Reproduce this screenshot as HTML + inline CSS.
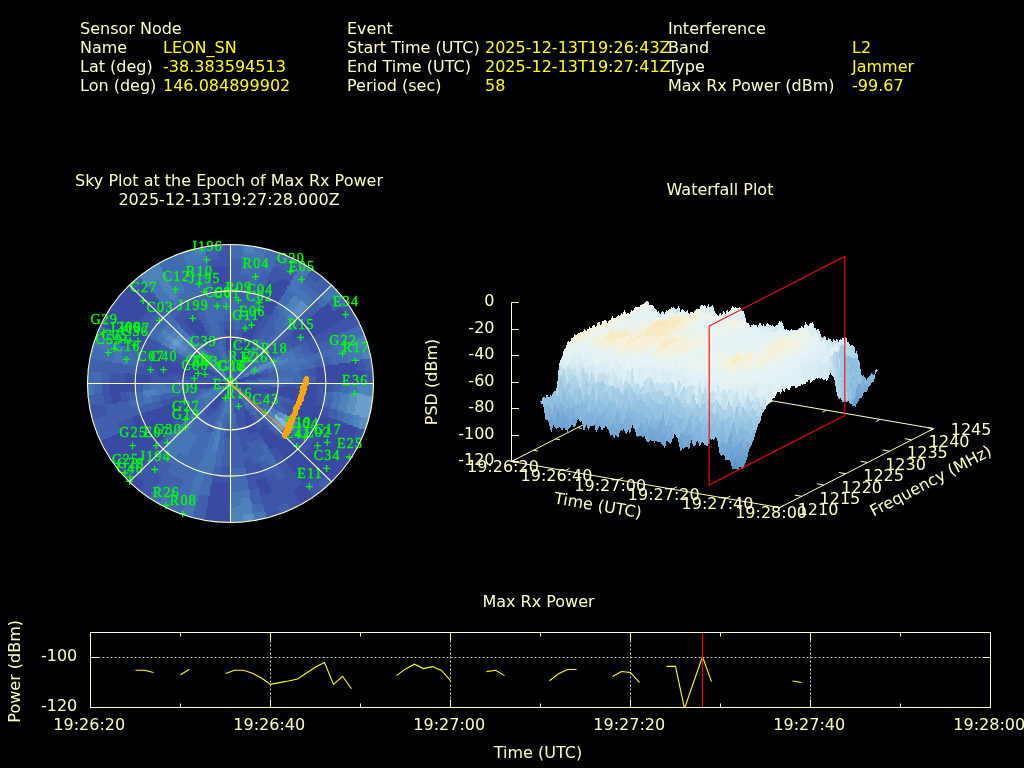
<!DOCTYPE html>
<html><head><meta charset="utf-8"><title>Interference Event</title>
<style>
html,body{margin:0;padding:0;background:#000;}
body{width:1024px;height:768px;overflow:hidden;font-family:"DejaVu Sans","Liberation Sans",sans-serif;}
svg{display:block}
text{font-family:"DejaVu Sans","Liberation Sans",sans-serif;font-size:16px}
.sat text{font-family:"Liberation Serif","DejaVu Serif",serif;font-size:13.9px}
</style></head><body>
<svg width="1024" height="768" viewBox="0 0 1024 768">
<rect width="1024" height="768" fill="#000"/>
<text x="80" y="33.5" fill="#ffffbf">Sensor Node</text>
<text x="80" y="52.5" fill="#ffffbf">Name</text>
<text x="163" y="52.5" fill="#ffff00">LEON_SN</text>
<text x="80" y="71.5" fill="#ffffbf">Lat (deg)</text>
<text x="163" y="71.5" fill="#ffff00">-38.383594513</text>
<text x="80" y="90.5" fill="#ffffbf">Lon (deg)</text>
<text x="163" y="90.5" fill="#ffff00">146.084899902</text>
<text x="347" y="33.5" fill="#ffffbf">Event</text>
<text x="347" y="52.5" fill="#ffffbf">Start Time (UTC)</text>
<text x="485" y="52.5" fill="#ffff00">2025-12-13T19:26:43Z</text>
<text x="347" y="71.5" fill="#ffffbf">End Time (UTC)</text>
<text x="485" y="71.5" fill="#ffff00">2025-12-13T19:27:41Z</text>
<text x="347" y="90.5" fill="#ffffbf">Period (sec)</text>
<text x="485" y="90.5" fill="#ffff00">58</text>
<text x="668" y="33.5" fill="#ffffbf">Interference</text>
<text x="668" y="52.5" fill="#ffffbf">Band</text>
<text x="852" y="52.5" fill="#ffff00">L2</text>
<text x="668" y="71.5" fill="#ffffbf">Type</text>
<text x="852" y="71.5" fill="#ffff00">Jammer</text>
<text x="668" y="90.5" fill="#ffffbf">Max Rx Power (dBm)</text>
<text x="852" y="90.5" fill="#ffff00">-99.67</text>
<text x="229" y="185.5" fill="#ffffbf" text-anchor="middle">Sky Plot at the Epoch of Max Rx Power</text>
<text x="229" y="204.5" fill="#ffffbf" text-anchor="middle">2025-12-13T19:27:28.000Z</text>
<text x="720" y="194.5" fill="#ffffbf" text-anchor="middle">Waterfall Plot</text>
<text x="538.5" y="606.5" fill="#ffffbf" text-anchor="middle">Max Rx Power</text>
<clipPath id="skyclip"><ellipse cx="230.5" cy="383.5" rx="143.0" ry="139.0"/></clipPath>
<g clip-path="url(#skyclip)" shape-rendering="crispEdges">
<rect x="85" y="242" width="292" height="284" fill="#3a49a3"/>
<path fill="#3d54a8" fill-rule="evenodd" d="M85 242 85 243 88 243 89 244 89 245 90 245 91 246 91 247 92 247 93 248 93 249 94 249 95 250 95 251 96 251 97 252 97 253 98 253 99 254 99 255 100 255 101 256 101 257 102 257 103 258 103 259 104 259 105 260 105 261 106 261 107 262 107 263 108 263 109 264 109 265 110 265 111 266 111 267 112 267 113 268 113 269 114 269 115 270 115 271 116 271 117 272 117 273 118 273 119 274 119 275 120 275 121 276 121 277 122 277 123 278 123 279 124 279 125 280 125 281 126 281 127 282 127 283 128 283 129 284 129 285 130 285 131 286 131 287 132 287 133 288 133 289 134 289 135 290 135 291 136 291 137 292 137 293 138 293 139 294 139 295 140 295 141 296 141 297 142 297 143 298 143 299 144 299 145 300 145 301 146 301 147 302 147 303 148 303 149 304 149 305 150 305 151 306 151 307 150 308 149 308 149 309 148 310 147 310 147 313 146 314 145 314 145 315 144 316 143 316 143 317 142 318 141 318 141 319 140 320 139 320 139 323 138 324 137 324 137 325 136 326 135 326 135 329 136 329 137 330 137 331 140 331 141 332 141 333 144 333 145 334 145 335 146 335 147 336 147 339 146 340 145 340 145 343 144 344 141 344 140 343 140 342 137 342 136 341 136 340 133 340 132 339 132 338 127 338 126 337 126 336 123 336 122 335 122 334 119 334 118 333 118 332 115 332 114 331 114 330 111 330 110 329 110 328 109 328 108 327 108 324 109 323 110 323 110 320 111 319 112 319 112 316 109 316 108 315 108 314 105 314 104 313 104 312 101 312 100 311 100 310 97 310 96 309 96 308 95 308 94 307 94 306 91 306 90 305 90 304 87 304 86 303 86 302 85 302 85 447 90 447 90 446 91 445 94 445 94 444 95 443 98 443 98 442 99 441 102 441 102 440 103 439 108 439 108 438 109 437 112 437 112 436 113 435 116 435 116 434 117 433 120 433 120 432 121 431 124 431 124 430 125 429 130 429 130 428 131 427 134 427 134 426 135 425 136 425 136 424 135 424 134 423 134 420 133 420 132 419 132 418 133 417 134 417 134 416 135 415 140 415 140 414 141 413 146 413 146 412 147 411 152 411 152 410 153 409 158 409 158 408 159 407 164 407 164 406 165 405 168 405 168 404 169 403 174 403 174 402 175 401 178 401 179 402 179 405 180 405 181 406 181 409 182 409 183 410 183 413 184 413 185 414 185 415 184 416 181 416 181 417 180 418 179 418 179 419 178 420 175 420 175 421 174 422 173 422 173 425 174 425 175 426 175 429 174 430 173 430 173 431 172 432 169 432 169 433 168 434 167 434 167 435 166 436 165 436 165 437 164 438 163 438 163 439 162 440 161 440 161 441 160 442 157 442 157 443 156 444 155 444 155 445 154 446 153 446 153 447 152 448 151 448 151 449 150 450 147 450 147 451 146 452 145 452 145 453 144 454 143 454 143 455 142 456 141 456 141 457 140 458 137 458 137 459 136 460 135 460 135 461 134 462 133 462 133 463 132 464 131 464 131 465 130 466 129 466 129 467 128 468 125 468 125 469 124 470 123 470 123 471 122 472 121 472 121 473 120 474 119 474 119 475 118 476 115 476 115 477 114 478 113 478 113 479 112 480 111 480 111 481 110 482 109 482 109 483 108 484 107 484 107 485 106 486 103 486 103 487 102 488 101 488 101 489 100 490 99 490 99 491 98 492 97 492 97 493 96 494 93 494 93 495 92 496 91 496 91 497 90 498 89 498 89 499 88 500 87 500 87 501 86 502 85 502 85 523 86 523 86 522 87 521 88 521 88 520 89 519 90 519 90 518 91 517 92 517 92 516 93 515 94 515 94 514 95 513 96 513 96 512 97 511 98 511 98 510 99 509 100 509 100 508 101 507 102 507 102 506 103 505 104 505 104 504 105 503 106 503 106 502 107 501 108 501 108 500 109 499 110 499 110 498 111 497 112 497 112 496 113 495 114 495 114 494 115 493 116 493 116 492 117 491 118 491 118 490 119 489 120 489 120 488 121 487 124 487 124 486 125 485 126 485 126 484 127 483 128 483 128 482 129 481 130 481 130 480 131 479 132 479 132 478 133 477 136 477 137 478 137 479 140 479 141 480 141 481 142 481 143 482 143 485 142 486 141 486 141 487 140 488 139 488 139 489 138 490 137 490 137 491 136 492 135 492 135 495 134 496 133 496 133 497 132 498 131 498 131 499 130 500 129 500 129 501 128 502 127 502 127 503 126 504 125 504 125 505 124 506 123 506 123 509 122 510 121 510 121 511 120 512 119 512 119 513 118 514 117 514 117 515 116 516 115 516 115 517 114 518 113 518 113 519 112 520 111 520 111 523 110 524 109 524 109 525 204 525 204 518 205 517 206 517 206 508 207 507 208 507 208 496 209 495 210 495 210 486 211 485 212 485 212 482 213 481 216 481 217 482 217 483 230 483 231 484 231 525 314 525 314 524 313 524 312 523 312 520 311 520 310 519 310 518 309 518 308 517 308 514 307 514 306 513 306 510 305 510 304 509 304 508 303 508 302 507 302 504 301 504 300 503 300 500 299 500 298 499 298 498 297 498 296 497 296 494 295 494 294 493 294 490 295 489 296 489 296 488 297 487 298 487 298 486 299 485 304 485 305 486 305 487 306 487 307 488 307 491 308 491 309 492 309 493 310 493 311 494 311 495 312 495 313 496 313 499 314 499 315 500 315 501 316 501 317 502 317 503 318 503 319 504 319 507 320 507 321 508 321 509 322 509 323 510 323 513 324 513 325 514 325 515 326 515 327 516 327 517 328 517 329 518 329 521 330 521 331 522 331 523 332 523 333 524 333 525 376 525 376 524 375 524 374 523 374 522 371 522 370 521 370 520 369 520 368 519 368 518 367 518 366 517 366 516 365 516 364 515 364 514 363 514 362 513 362 512 361 512 360 511 360 510 359 510 358 509 358 508 357 508 356 507 356 506 355 506 354 505 354 504 353 504 352 503 352 502 351 502 350 501 350 500 349 500 348 499 348 498 347 498 346 497 346 496 345 496 344 495 344 494 343 494 342 493 342 492 341 492 340 491 340 490 339 490 338 489 338 488 337 488 336 487 336 486 335 486 334 485 334 484 333 484 332 483 332 482 331 482 330 481 330 480 329 480 328 479 328 478 327 478 326 477 326 476 325 476 324 475 324 474 323 474 322 473 322 472 319 472 319 473 318 474 315 474 315 475 314 476 313 476 313 477 312 478 311 478 311 479 310 480 309 480 309 481 308 482 305 482 305 483 304 484 303 484 302 483 302 482 301 482 300 481 300 480 299 480 298 479 298 478 297 478 296 477 296 474 295 474 294 473 294 472 293 472 292 471 292 468 291 468 290 467 290 466 289 466 288 465 288 464 287 464 286 463 286 460 285 460 284 459 284 458 283 458 282 457 282 454 281 454 280 453 280 452 279 452 278 451 278 450 277 450 276 449 276 446 275 446 275 447 274 448 273 448 273 449 272 450 269 450 268 449 268 446 267 446 266 445 266 444 265 444 264 443 264 440 263 440 262 439 262 436 261 436 260 435 260 434 259 434 258 433 258 430 259 429 260 429 260 428 261 427 262 427 262 426 263 425 268 425 269 426 269 429 270 429 271 430 271 431 272 431 273 432 273 433 274 433 275 434 275 435 276 435 277 436 277 437 278 437 279 438 279 439 280 439 281 440 281 441 282 441 282 440 283 439 284 439 284 438 285 437 286 437 287 438 287 439 288 439 289 440 289 441 290 441 291 442 291 443 292 443 293 444 293 445 294 445 295 446 295 447 296 447 297 448 297 449 298 449 299 450 299 451 302 451 303 452 303 453 304 453 304 452 305 451 306 451 306 450 307 449 308 449 308 448 309 447 310 447 310 446 311 445 312 445 312 442 313 441 314 441 314 440 315 439 316 439 316 436 317 435 318 435 318 432 315 432 314 431 314 430 311 430 310 429 310 428 309 428 308 427 308 426 305 426 304 425 304 424 301 424 300 423 300 422 299 422 298 421 298 420 299 419 300 419 300 418 301 417 302 417 302 416 299 416 298 415 298 414 295 414 294 413 294 412 295 411 296 411 296 406 297 405 298 405 298 402 297 402 296 401 296 400 291 400 290 399 290 398 283 398 282 397 282 396 275 396 274 395 274 394 267 394 266 393 266 392 261 392 261 393 260 394 259 394 259 395 258 396 255 396 254 395 254 394 251 394 250 393 250 392 247 392 246 391 246 390 243 390 242 389 242 388 239 388 238 387 238 386 239 385 250 385 251 386 251 387 262 387 263 388 263 389 268 389 268 388 269 387 294 387 295 388 295 389 300 389 300 384 301 383 316 383 317 384 317 401 316 402 315 402 315 405 320 405 321 406 321 407 322 407 323 408 323 409 322 410 321 410 321 415 324 415 325 416 325 417 330 417 331 418 331 419 336 419 337 420 337 421 342 421 343 422 343 423 346 423 347 424 347 425 352 425 353 426 353 427 356 427 357 428 357 431 356 432 355 432 355 435 354 436 353 436 353 439 356 439 357 440 357 441 360 441 361 442 361 443 366 443 367 444 367 445 370 445 371 446 371 447 374 447 375 448 375 449 376 449 376 242zM262 478 263 477 266 477 267 478 267 483 268 483 269 484 269 487 270 487 271 488 271 491 270 492 269 492 269 493 268 494 263 494 263 495 262 496 261 496 260 495 260 490 259 490 258 489 258 484 257 484 256 483 256 480 257 479 262 479zM244 410 245 409 246 409 247 410 247 411 248 411 249 412 249 415 250 415 251 416 251 419 252 419 253 420 253 423 254 423 255 424 255 425 256 425 257 426 257 431 256 432 253 432 253 433 252 434 249 434 248 433 248 430 247 430 246 429 246 424 245 424 244 423 244 420 245 419 246 419 246 416 245 416 244 415zM222 392 223 391 224 391 225 392 225 397 224 398 221 398 221 401 220 402 219 402 219 403 218 404 217 404 217 407 216 408 215 408 215 409 214 410 213 410 212 409 212 408 211 408 210 407 210 404 211 403 212 403 212 402 213 401 214 401 214 400 215 399 216 399 216 398 217 397 218 397 218 396 219 395 222 395zM224 390 225 389 226 389 227 390 227 391 226 392 225 392 224 391zM226 386 227 385 228 385 229 386 229 387 228 388 227 388 226 387zM232 384 233 383 238 383 239 384 239 385 238 386 233 386 232 385zM230 382 231 381 232 381 233 382 233 383 232 384 231 384 230 383zM214 382 215 381 224 381 225 382 225 383 224 384 221 384 221 385 220 386 211 386 211 387 210 388 199 388 198 387 198 386 199 385 206 385 206 384 207 383 214 383zM204 378 205 377 206 377 207 378 207 379 206 380 205 380 204 379zM248 376 249 375 252 375 253 376 253 377 254 377 254 376 255 375 260 375 261 376 261 377 260 378 257 378 257 379 256 380 245 380 245 381 244 382 237 382 236 381 236 380 237 379 242 379 242 378 243 377 248 377zM210 374 211 373 214 373 215 374 215 375 214 376 211 376 210 375zM126 374 127 373 130 373 131 374 131 375 150 375 151 376 151 383 150 384 135 384 135 391 134 392 119 392 119 395 120 395 121 396 121 401 120 402 117 402 117 403 116 404 113 404 112 403 112 396 111 396 110 395 110 384 111 383 126 383zM350 362 351 361 354 361 355 362 355 363 356 363 357 364 357 371 364 371 365 372 365 383 364 384 317 384 316 383 316 368 317 367 326 367 326 366 327 365 338 365 338 364 339 363 350 363zM154 358 155 357 160 357 161 358 161 359 166 359 167 360 167 361 172 361 173 362 173 363 178 363 179 364 179 365 182 365 183 366 183 367 184 367 184 366 185 365 186 365 186 364 187 363 188 363 189 364 189 365 194 365 194 364 195 363 196 363 197 364 197 365 200 365 201 366 201 367 204 367 205 368 205 369 208 369 209 370 209 371 210 371 211 372 211 373 210 374 209 374 209 375 208 376 207 376 206 375 206 374 199 374 199 375 204 375 205 376 205 377 204 378 193 378 192 377 192 376 181 376 180 375 180 374 169 374 168 373 168 372 167 372 167 377 166 378 159 378 158 377 158 372 157 372 156 371 156 370 153 370 152 369 152 362 153 361 154 361zM224 330 225 329 230 329 231 330 231 337 234 337 235 338 235 343 234 344 233 344 233 351 232 352 227 352 226 351 226 334 225 334 224 333zM186 318 187 317 192 317 193 318 193 321 198 321 198 320 199 319 200 319 201 320 201 323 202 323 203 324 203 327 204 327 205 328 205 331 206 331 207 332 207 333 206 334 205 334 205 335 204 336 203 336 203 337 202 338 197 338 196 337 196 336 195 336 194 335 194 332 193 332 192 331 192 330 191 330 190 329 190 328 189 328 188 327 188 324 187 324 186 323 186 322 185 322 184 321 184 320 185 319 186 319zM326 304 327 303 328 303 329 304 329 305 330 305 331 306 331 309 332 309 333 310 333 311 336 311 336 310 337 309 338 309 338 308 339 307 340 307 341 308 341 309 342 309 343 310 343 311 344 311 345 312 345 315 346 315 347 316 347 317 346 318 345 318 345 319 344 320 341 320 341 321 340 322 339 322 339 323 338 324 335 324 335 325 334 326 331 326 331 327 330 328 327 328 327 329 326 330 325 330 325 331 324 332 321 332 321 333 320 334 317 334 317 335 316 336 313 336 313 337 312 338 309 338 309 339 308 340 305 340 304 339 304 338 303 338 302 337 302 334 301 334 301 335 300 336 299 336 299 337 298 338 293 338 292 337 292 332 293 331 294 331 294 330 295 329 296 329 296 328 297 327 298 327 298 326 299 325 302 325 302 324 303 323 304 323 304 322 305 321 306 321 306 320 307 319 308 319 308 318 309 317 312 317 312 316 313 315 314 315 314 314 315 313 316 313 316 312 317 311 318 311 318 310 319 309 320 309 320 308 321 307 324 307 324 306 325 305 326 305zM278 280 279 279 286 279 287 280 287 281 288 281 289 282 289 285 288 286 287 286 287 289 286 290 285 290 285 293 284 294 283 294 283 295 282 296 281 296 281 299 280 300 279 300 279 303 278 304 277 304 277 305 276 306 275 306 275 309 274 310 273 310 273 313 272 314 271 314 271 315 270 316 267 316 266 315 266 314 263 314 263 317 262 318 261 318 261 321 260 322 259 322 259 325 258 326 257 326 257 329 256 330 255 330 255 333 254 334 253 334 253 337 252 338 251 338 251 341 252 341 253 342 253 347 252 348 251 348 251 349 250 350 249 350 249 353 248 354 247 354 247 355 246 356 243 356 243 359 242 360 241 360 241 361 240 362 237 362 236 361 236 356 237 355 238 355 238 350 239 349 240 349 240 342 241 341 242 341 242 334 243 333 244 333 244 332 245 331 250 331 250 326 251 325 252 325 252 320 253 319 254 319 254 316 255 315 256 315 256 310 257 309 258 309 258 304 259 303 260 303 260 300 261 299 262 299 262 294 263 293 264 293 264 288 265 287 266 287 266 284 267 283 268 283 268 282 269 281 270 281 271 282 271 283 278 283zM212 268 213 267 230 267 231 268 231 283 230 284 213 284 212 283 212 282 211 282 210 281 210 270 211 269 212 269z"/>
<path fill="#4060ad" fill-rule="evenodd" d="M281 504 281 505 280 506 277 506 277 509 278 509 279 510 279 515 280 515 281 516 281 521 282 521 283 522 283 525 298 525 298 524 297 524 296 523 296 520 295 520 294 519 294 516 293 516 292 515 292 512 291 512 290 511 290 508 289 508 288 507 288 504zM325 476 325 477 324 478 323 478 323 479 322 480 321 480 321 481 320 482 319 482 319 487 320 487 321 488 321 489 322 489 323 490 323 491 324 491 325 492 325 493 326 493 327 494 327 495 328 495 329 496 329 497 330 497 331 498 331 501 332 501 333 502 333 503 334 503 335 504 335 505 336 505 337 506 337 507 338 507 339 508 339 509 340 509 341 510 341 511 342 511 343 512 343 513 344 513 345 514 345 517 346 517 347 518 347 519 348 519 349 520 349 521 350 521 351 522 351 523 352 523 353 524 353 525 376 525 376 524 375 524 374 523 374 522 371 522 370 521 370 520 369 520 368 519 368 518 367 518 366 517 366 516 365 516 364 515 364 514 363 514 362 513 362 512 361 512 360 511 360 510 359 510 358 509 358 508 357 508 356 507 356 506 355 506 354 505 354 504 353 504 352 503 352 502 351 502 350 501 350 500 349 500 348 499 348 498 347 498 346 497 346 496 345 496 344 495 344 494 343 494 342 493 342 492 341 492 340 491 340 490 339 490 338 489 338 488 337 488 336 487 336 486 335 486 334 485 334 484 333 484 332 483 332 482 331 482 330 481 330 480 329 480 328 479 328 478 327 478 326 477 326 476zM333 384 333 391 332 392 325 392 325 401 324 402 323 402 323 407 328 407 329 408 329 415 328 416 327 416 327 417 330 417 331 418 331 419 336 419 337 420 337 421 342 421 343 422 343 423 346 423 347 424 347 425 352 425 353 426 353 427 358 427 359 428 359 429 364 429 365 430 365 431 370 431 371 432 371 433 376 433 376 384zM85 242 85 243 88 243 89 244 89 245 90 245 91 246 91 247 92 247 93 248 93 249 94 249 95 250 95 251 96 251 97 252 97 253 98 253 99 254 99 255 100 255 101 256 101 257 102 257 103 258 103 259 104 259 105 260 105 261 106 261 107 262 107 263 108 263 109 264 109 265 110 265 111 266 111 267 112 267 113 268 113 269 114 269 115 270 115 271 116 271 117 272 117 273 118 273 119 274 119 275 120 275 121 276 121 277 122 277 123 278 123 279 124 279 125 280 125 281 126 281 127 282 127 283 128 283 129 284 129 285 130 285 131 286 131 287 132 287 133 288 133 289 136 289 136 288 137 287 138 287 138 286 139 285 140 285 140 284 141 283 144 283 145 284 145 285 146 285 147 286 147 287 148 287 149 288 149 289 150 289 151 290 151 291 152 291 153 292 153 293 154 293 155 294 155 297 156 297 157 298 157 299 158 299 159 300 159 301 160 301 161 302 161 303 162 303 163 304 163 307 162 308 161 308 161 309 160 310 159 310 159 311 158 312 157 312 157 313 156 314 155 314 155 315 154 316 153 316 153 317 152 318 151 318 151 319 150 320 149 320 149 323 148 324 147 324 147 325 146 326 145 326 145 327 144 328 143 328 143 331 142 332 141 332 141 333 144 333 145 334 145 335 146 335 147 336 147 337 150 337 151 338 151 339 154 339 155 340 155 341 158 341 159 342 159 343 160 343 161 344 161 347 160 348 159 348 159 351 162 351 163 352 163 353 166 353 167 354 167 355 172 355 173 356 173 357 176 357 177 358 177 359 180 359 181 360 181 361 184 361 185 362 185 363 186 363 186 362 187 361 188 361 188 360 189 359 190 359 191 360 191 361 192 361 193 362 193 363 196 363 197 364 197 365 200 365 201 366 201 367 202 367 202 366 203 365 206 365 207 366 207 367 208 367 209 368 209 369 212 369 213 370 213 371 214 371 215 372 215 373 218 373 219 374 219 375 220 375 221 376 221 377 220 378 217 378 216 377 216 376 211 376 210 375 210 374 209 374 209 375 208 376 207 376 207 377 212 377 213 378 213 379 214 379 215 380 215 381 224 381 225 382 225 385 224 386 217 386 217 387 216 388 209 388 209 389 208 390 207 390 206 389 206 388 199 388 199 389 198 390 191 390 190 389 190 386 191 385 198 385 198 384 199 383 206 383 206 382 201 382 200 381 200 380 177 380 176 379 176 378 175 378 175 383 174 384 135 384 135 391 134 392 127 392 127 395 128 395 129 396 129 401 128 402 117 402 117 403 116 404 105 404 104 403 104 396 103 396 102 395 102 384 103 383 110 383 110 374 111 373 130 373 131 374 131 375 134 375 134 372 135 371 136 371 136 368 137 367 144 367 144 362 145 361 146 361 146 356 147 355 148 355 148 354 145 354 144 353 144 352 139 352 138 351 138 350 133 350 132 349 132 348 127 348 126 347 126 346 121 346 120 345 120 344 117 344 116 343 116 342 111 342 110 341 110 338 111 337 112 337 112 334 113 333 114 333 114 330 111 330 110 329 110 328 105 328 104 327 104 326 101 326 100 325 100 324 97 324 96 323 96 322 93 322 92 321 92 320 89 320 88 319 88 318 85 318 85 407 92 407 92 406 93 405 104 405 105 406 105 407 106 407 107 408 107 415 106 416 101 416 101 417 100 418 95 418 95 419 94 420 87 420 87 421 86 422 85 422 85 447 90 447 90 446 91 445 94 445 94 444 95 443 98 443 98 442 99 441 102 441 102 440 103 439 108 439 108 438 109 437 112 437 112 436 113 435 116 435 116 434 117 433 120 433 120 426 119 426 118 425 118 422 119 421 124 421 124 420 125 419 130 419 130 418 131 417 134 417 134 416 135 415 140 415 140 414 141 413 146 413 146 412 147 411 152 411 152 410 153 409 158 409 158 408 159 407 162 407 162 404 161 404 160 403 160 402 161 401 162 401 162 400 163 399 170 399 170 398 171 397 178 397 178 396 179 395 184 395 185 396 185 399 186 399 187 400 187 403 188 403 189 404 189 407 190 407 191 408 191 411 190 412 187 412 187 413 186 414 185 414 185 415 186 415 187 416 187 419 186 420 185 420 185 421 184 422 183 422 183 423 182 424 179 424 179 425 178 426 177 426 177 427 176 428 175 428 175 429 174 430 173 430 173 431 172 432 169 432 169 433 168 434 167 434 167 435 166 436 165 436 165 437 164 438 163 438 163 439 162 440 161 440 161 441 160 442 157 442 157 443 158 443 159 444 159 445 160 445 161 446 161 447 162 447 163 448 163 449 162 450 161 450 161 451 160 452 159 452 159 453 158 454 157 454 157 455 156 456 155 456 155 457 154 458 153 458 153 461 154 461 155 462 155 463 156 463 157 464 157 465 158 465 159 466 159 467 158 468 157 468 157 469 156 470 155 470 155 473 156 473 157 474 157 475 160 475 161 476 161 481 160 482 159 482 159 483 158 484 157 484 157 485 156 486 155 486 155 489 154 490 153 490 153 491 152 492 151 492 151 495 150 496 149 496 149 497 148 498 147 498 147 499 146 500 145 500 145 503 144 504 143 504 143 505 142 506 141 506 141 509 140 510 139 510 139 511 138 512 137 512 137 513 136 514 135 514 135 517 134 518 133 518 133 519 132 520 131 520 131 523 130 524 129 524 129 525 204 525 204 518 205 517 206 517 206 508 207 507 208 507 208 496 209 495 210 495 210 486 211 485 212 485 212 474 213 473 214 473 215 474 215 475 222 475 222 468 223 467 230 467 231 468 231 525 268 525 268 520 267 520 266 519 266 512 265 512 264 511 264 506 263 506 262 505 262 498 261 498 260 497 260 490 259 490 258 489 258 488 255 488 255 489 254 490 249 490 248 489 248 480 247 480 246 479 246 468 245 468 244 467 244 460 245 459 246 459 246 458 247 457 250 457 251 458 251 461 252 461 253 462 253 465 254 465 254 464 255 463 260 463 261 464 261 467 262 467 263 468 263 471 264 471 265 472 265 477 268 477 268 476 269 475 272 475 272 474 273 473 274 473 275 474 275 477 276 477 277 478 277 481 278 481 278 480 279 479 282 479 282 478 283 477 286 477 286 476 285 476 284 475 284 474 283 474 282 473 282 470 281 470 280 469 280 466 279 466 278 465 278 464 277 464 276 463 276 460 275 460 274 459 274 456 273 456 272 455 272 454 271 454 270 453 270 450 269 450 268 449 268 446 267 446 266 445 266 444 265 444 264 443 264 440 263 440 262 439 262 438 259 438 259 439 258 440 253 440 253 441 252 442 247 442 247 445 248 445 249 446 249 449 248 450 247 450 247 451 246 452 243 452 242 451 242 446 241 446 240 445 240 436 239 436 238 435 238 424 237 424 236 423 236 414 235 414 234 413 234 406 235 405 238 405 238 400 239 399 240 399 241 400 241 401 242 401 243 402 243 405 244 405 245 406 245 409 246 409 247 410 247 411 248 411 249 412 249 415 254 415 255 416 255 417 256 417 257 418 257 421 258 421 258 420 259 419 262 419 263 420 263 421 264 421 265 422 265 423 266 423 267 424 267 425 268 425 269 426 269 429 270 429 271 430 271 431 272 431 273 432 273 433 274 433 275 434 275 435 278 435 278 434 279 433 282 433 283 434 283 435 284 435 285 436 285 437 286 437 287 438 287 439 288 439 289 440 289 441 290 441 291 442 291 443 292 443 292 442 293 441 294 441 294 440 295 439 296 439 296 438 297 437 298 437 299 438 299 439 300 439 301 440 301 441 304 441 304 440 305 439 306 439 306 438 307 437 308 437 308 434 309 433 310 433 310 432 311 431 312 431 312 430 311 430 310 429 310 428 309 428 308 427 308 426 305 426 304 425 304 424 301 424 300 423 300 422 297 422 296 421 296 420 293 420 292 419 292 418 291 418 290 417 290 416 287 416 286 415 286 408 283 408 282 407 282 406 281 406 280 405 280 404 281 403 282 403 282 402 283 401 284 401 285 402 285 403 290 403 290 398 283 398 282 397 282 396 275 396 274 395 274 394 269 394 269 397 274 397 275 398 275 401 274 402 273 402 273 405 272 406 269 406 268 405 268 404 265 404 264 403 264 402 261 402 260 401 260 400 259 400 258 399 258 398 255 398 254 397 254 396 251 396 250 395 250 394 247 394 246 393 246 392 245 392 244 391 244 390 243 390 242 389 242 388 239 388 238 387 238 386 233 386 232 385 232 384 233 383 248 383 249 384 249 385 270 385 271 386 271 387 284 387 284 386 285 385 286 385 286 384 287 383 316 383 316 376 309 376 308 375 308 370 309 369 314 369 314 368 315 367 326 367 326 366 327 365 338 365 338 364 339 363 350 363 350 362 351 361 360 361 360 360 361 359 362 359 363 360 363 363 364 363 365 364 365 371 376 371 376 318 373 318 373 319 372 320 369 320 369 321 368 322 363 322 363 323 362 324 359 324 359 325 358 326 355 326 355 327 354 328 351 328 351 329 350 330 347 330 347 331 346 332 341 332 341 333 340 334 337 334 337 335 336 336 333 336 333 337 332 338 329 338 329 339 328 340 325 340 325 341 324 342 319 342 319 343 318 344 317 344 317 345 318 345 319 346 319 351 318 352 317 352 317 353 316 354 313 354 312 353 312 352 311 352 310 351 310 348 309 348 308 347 308 344 307 344 306 343 306 342 303 342 303 343 302 344 299 344 299 345 298 346 295 346 295 347 294 348 291 348 290 347 290 344 287 344 287 345 286 346 285 346 285 347 284 348 281 348 281 349 280 350 279 350 279 351 278 352 275 352 275 353 274 354 273 354 273 355 272 356 269 356 268 355 268 354 267 354 266 353 266 352 267 351 270 351 270 350 271 349 272 349 272 348 273 347 274 347 274 346 275 345 276 345 276 344 277 343 280 343 280 342 281 341 282 341 282 340 283 339 284 339 284 338 285 337 286 337 286 336 287 335 288 335 288 334 289 333 292 333 292 332 293 331 294 331 294 330 295 329 296 329 296 328 297 327 298 327 298 326 299 325 302 325 302 324 303 323 304 323 304 322 305 321 306 321 306 320 307 319 308 319 308 318 309 317 312 317 312 316 313 315 314 315 314 314 315 313 316 313 316 312 317 311 318 311 318 310 319 309 320 309 320 308 321 307 324 307 324 306 325 305 326 305 326 304 327 303 328 303 329 304 329 305 330 305 331 306 331 309 332 309 333 310 333 311 336 311 336 310 337 309 338 309 338 308 339 307 342 307 342 306 343 305 344 305 344 304 345 303 348 303 348 302 349 301 350 301 350 300 351 299 354 299 354 298 355 297 356 297 356 296 357 295 360 295 360 294 361 293 362 293 362 292 363 291 366 291 366 290 367 289 368 289 368 288 369 287 372 287 372 286 373 285 374 285 374 284 375 283 376 283 376 242 351 242 351 245 350 246 349 246 349 247 348 248 347 248 347 249 346 250 345 250 345 251 344 252 343 252 343 253 342 254 341 254 341 255 340 256 339 256 339 257 338 258 337 258 337 261 336 262 335 262 335 263 334 264 333 264 333 265 332 266 331 266 331 267 330 268 329 268 329 269 328 270 327 270 327 271 326 272 325 272 325 275 324 276 323 276 323 277 322 278 321 278 321 279 320 280 319 280 319 281 318 282 315 282 314 281 314 280 313 280 312 279 312 278 309 278 308 277 308 274 309 273 310 273 310 270 311 269 312 269 312 268 313 267 314 267 314 264 315 263 316 263 316 262 317 261 318 261 318 260 319 259 320 259 320 256 321 255 322 255 322 254 323 253 324 253 324 250 325 249 326 249 326 248 327 247 328 247 328 246 329 245 330 245 330 242 231 242 231 289 230 290 225 290 225 291 224 292 213 292 212 291 212 282 211 282 210 281 210 270 209 270 208 269 208 262 209 261 212 261 212 260 213 259 218 259 218 244 217 244 216 243 216 242zM226 430 227 429 230 429 231 430 231 437 230 438 225 438 224 437 224 434 225 433 226 433zM236 398 237 397 238 397 239 398 239 399 238 400 237 400 236 399zM222 392 223 391 224 391 225 392 225 397 224 398 223 398 223 401 222 402 221 402 221 405 220 406 219 406 219 409 218 410 215 410 215 411 214 412 213 412 213 413 212 414 211 414 211 415 210 416 207 416 206 415 206 414 205 414 204 413 204 412 205 411 206 411 206 410 207 409 208 409 208 408 209 407 210 407 210 404 211 403 212 403 212 402 213 401 214 401 214 400 215 399 216 399 216 398 217 397 218 397 218 396 219 395 220 395 220 394 221 393 222 393zM224 390 225 389 226 389 227 390 227 391 226 392 225 392 224 391zM226 386 227 385 228 385 229 386 229 387 228 388 227 388 226 387zM232 378 233 377 234 377 235 378 235 381 234 382 233 382 233 383 232 384 231 384 230 383 230 382 229 382 228 381 228 380 229 379 232 379zM220 378 221 377 222 377 223 378 223 379 222 380 221 380 220 379zM254 374 255 373 260 373 261 374 261 375 262 375 262 374 263 373 268 373 269 374 269 377 268 378 257 378 257 379 256 380 245 380 245 381 244 382 237 382 236 381 236 380 237 379 242 379 242 378 243 377 248 377 248 376 249 375 254 375zM226 374 227 373 228 373 229 374 229 375 228 376 227 376 226 375zM224 368 225 367 226 367 227 368 227 371 226 372 225 372 224 371zM224 322 225 321 230 321 231 322 231 329 234 329 235 330 235 343 234 344 233 344 233 351 232 352 231 352 231 359 230 360 229 360 228 359 228 356 227 356 226 355 226 334 225 334 224 333zM188 308 189 307 194 307 195 308 195 311 196 311 197 312 197 315 198 315 199 316 199 319 200 319 201 320 201 323 202 323 203 324 203 327 204 327 205 328 205 331 206 331 207 332 207 335 208 335 209 336 209 339 210 339 211 340 211 343 212 343 213 344 213 349 212 350 211 350 210 349 210 348 209 348 208 347 208 346 207 346 206 345 206 344 201 344 200 343 200 342 199 342 198 341 198 338 197 338 196 337 196 336 195 336 194 335 194 332 193 332 193 333 192 334 191 334 191 335 190 336 189 336 188 335 188 334 187 334 186 333 186 332 185 332 184 331 184 330 183 330 182 329 182 328 181 328 180 327 180 324 179 324 178 323 178 322 177 322 176 321 176 320 175 320 174 319 174 318 175 317 176 317 176 316 177 315 178 315 178 314 179 313 180 313 180 312 181 311 184 311 184 310 185 309 188 309zM272 268 273 267 278 267 279 268 279 269 282 269 283 270 283 271 286 271 287 272 287 273 290 273 291 274 291 275 292 275 293 276 293 279 292 280 291 280 291 283 290 284 289 284 289 285 288 286 287 286 287 289 286 290 285 290 285 293 284 294 283 294 283 295 282 296 281 296 281 299 280 300 279 300 279 303 278 304 277 304 277 305 276 306 275 306 275 309 274 310 273 310 273 313 272 314 271 314 271 315 270 316 269 316 269 319 268 320 267 320 267 323 266 324 265 324 265 327 264 328 263 328 263 329 262 330 261 330 261 333 260 334 259 334 259 337 258 338 257 338 257 339 256 340 255 340 255 343 254 344 253 344 253 347 252 348 251 348 251 349 250 350 249 350 249 353 248 354 247 354 247 357 246 358 245 358 245 359 244 360 243 360 243 363 242 364 239 364 239 367 238 368 237 368 237 369 236 370 235 370 234 369 234 364 235 363 236 363 236 360 235 360 234 359 234 354 235 353 236 353 236 342 237 341 238 341 238 332 239 331 240 331 240 330 241 329 242 329 243 330 243 331 244 331 244 328 245 327 246 327 246 324 247 323 250 323 251 324 251 325 252 325 252 320 253 319 254 319 254 316 255 315 256 315 256 310 257 309 258 309 258 304 259 303 260 303 260 300 261 299 262 299 262 294 263 293 264 293 264 288 265 287 266 287 266 284 267 283 268 283 268 278 269 277 270 277 270 272 271 271 272 271z"/>
<path fill="#436bb1" fill-rule="evenodd" d="M231 468 231 525 268 525 268 520 267 520 266 519 266 512 265 512 264 511 264 506 263 506 262 505 262 504 253 504 252 503 252 502 251 502 250 501 250 490 249 490 248 489 248 480 247 480 246 479 246 468zM263 444 263 445 262 446 261 446 261 449 262 449 263 450 263 453 262 454 261 454 261 455 260 456 259 456 259 461 268 461 269 462 269 465 274 465 274 464 275 463 276 463 276 460 275 460 274 459 274 456 273 456 272 455 272 454 271 454 270 453 270 450 269 450 268 449 268 446 267 446 266 445 266 444zM341 384 341 391 340 392 325 392 325 399 332 399 333 400 333 401 332 402 331 402 331 409 336 409 337 410 337 417 336 418 335 418 335 419 336 419 337 420 337 421 342 421 343 422 343 423 346 423 347 424 347 425 352 425 353 426 353 427 358 427 359 428 359 429 364 429 365 430 365 431 370 431 371 432 371 433 376 433 376 384zM143 384 143 391 142 392 135 392 135 395 136 395 137 396 137 399 136 400 129 400 129 405 130 405 131 406 131 409 132 409 132 408 133 407 140 407 140 406 141 405 146 405 146 404 147 403 154 403 154 402 155 401 160 401 160 396 161 395 162 395 162 394 163 393 174 393 174 392 175 391 186 391 186 390 187 389 190 389 190 386 189 386 189 387 188 388 183 388 182 387 182 384zM85 372 85 395 94 395 94 394 95 393 102 393 102 372zM85 332 85 357 86 357 87 358 87 359 98 359 99 360 99 361 110 361 111 362 111 363 122 363 123 364 123 365 134 365 135 366 135 367 136 367 136 362 137 361 138 361 138 354 139 353 140 353 140 352 139 352 138 351 138 350 133 350 132 349 132 348 127 348 126 347 126 346 121 346 120 345 120 344 117 344 116 343 116 342 111 342 110 341 110 340 105 340 104 339 104 338 99 338 98 337 98 336 93 336 92 335 92 334 87 334 86 333 86 332zM231 242 231 259 240 259 241 260 241 275 248 275 249 276 249 283 250 283 251 284 251 285 256 285 257 286 257 289 256 290 255 290 255 293 254 294 251 294 250 293 250 292 247 292 247 297 246 298 245 298 245 299 250 299 251 300 251 301 252 301 253 302 253 305 252 306 251 306 251 311 250 312 249 312 249 315 250 315 251 316 251 317 254 317 254 316 255 315 256 315 256 310 257 309 258 309 258 304 259 303 260 303 260 300 261 299 262 299 262 294 263 293 264 293 264 288 259 288 258 287 258 286 257 286 256 285 256 284 257 283 258 283 258 276 259 275 260 275 260 272 261 271 266 271 267 272 267 273 270 273 270 272 271 271 272 271 272 268 273 267 274 267 274 262 275 261 276 261 276 260 277 259 278 259 279 260 279 261 284 261 285 262 285 263 288 263 288 260 289 259 290 259 290 256 291 255 292 255 292 252 293 251 294 251 294 246 295 245 296 245 296 242zM109 242 109 243 110 243 111 244 111 245 112 245 113 246 113 247 114 247 115 248 115 249 116 249 117 250 117 253 118 253 119 254 119 255 120 255 121 256 121 257 122 257 123 258 123 259 124 259 125 260 125 261 126 261 127 262 127 263 128 263 129 264 129 267 130 267 131 268 131 269 132 269 133 270 133 271 134 271 135 272 135 273 136 273 137 274 137 275 138 275 139 276 139 277 140 277 141 278 141 279 142 279 143 280 143 283 144 283 145 284 145 285 146 285 147 286 147 287 148 287 149 288 149 289 150 289 151 290 151 291 152 291 153 292 153 293 154 293 155 294 155 297 156 297 157 298 157 299 158 299 159 300 159 301 160 301 161 302 161 303 162 303 163 304 163 305 164 305 165 306 165 307 166 307 167 308 167 311 170 311 170 310 171 309 172 309 172 308 173 307 176 307 176 306 177 305 178 305 178 304 179 303 182 303 182 302 183 301 186 301 186 300 187 299 190 299 190 298 191 297 196 297 196 296 197 295 198 295 199 296 199 301 200 301 201 302 201 307 202 307 203 308 203 311 204 311 205 312 205 317 206 317 207 318 207 323 208 323 209 324 209 327 210 327 211 328 211 333 212 333 213 334 213 339 216 339 216 338 217 337 218 337 219 338 219 345 218 346 217 346 217 349 218 349 219 350 219 355 220 355 221 356 221 359 222 359 223 360 223 361 222 362 219 362 218 361 218 358 217 358 216 357 216 356 213 356 212 355 212 352 211 352 210 351 210 350 209 350 209 351 208 352 207 352 206 351 206 350 205 350 204 349 204 346 203 346 202 345 202 344 201 344 200 343 200 342 199 342 198 341 198 340 197 340 197 341 196 342 193 342 192 341 192 338 191 338 190 337 190 336 189 336 188 335 188 334 187 334 186 333 186 332 185 332 184 331 184 330 183 330 182 329 182 328 181 328 180 327 180 324 179 324 178 323 178 322 177 322 176 321 176 320 175 320 174 319 174 318 173 318 172 317 172 316 171 316 170 315 170 314 167 314 167 315 166 316 165 316 165 317 164 318 163 318 163 319 162 320 161 320 161 321 160 322 159 322 159 323 158 324 157 324 157 325 156 326 155 326 155 327 154 328 153 328 153 329 152 330 151 330 151 333 150 334 149 334 149 337 150 337 151 338 151 339 154 339 155 340 155 341 158 341 159 342 159 343 160 343 161 344 161 345 164 345 165 346 165 347 168 347 169 348 169 349 172 349 173 350 173 351 176 351 177 352 177 353 178 353 179 354 179 355 182 355 183 356 183 357 186 357 187 358 187 359 190 359 191 360 191 361 192 361 193 362 193 363 196 363 196 362 197 361 200 361 201 362 201 363 202 363 203 364 203 365 206 365 207 366 207 367 208 367 209 368 209 369 212 369 213 370 213 371 214 371 215 372 215 373 218 373 219 374 219 375 220 375 221 376 221 377 220 378 215 378 215 379 220 379 221 380 221 381 224 381 224 380 225 379 226 379 227 380 227 383 226 384 225 384 225 385 224 386 217 386 217 387 216 388 209 388 209 389 208 390 201 390 201 393 200 394 197 394 197 395 196 396 193 396 193 397 194 397 195 398 195 401 196 401 197 402 197 405 196 406 195 406 195 407 194 408 193 408 193 413 192 414 191 414 191 415 190 416 189 416 189 417 188 418 187 418 187 419 186 420 185 420 185 421 184 422 183 422 183 423 182 424 179 424 179 425 178 426 177 426 177 427 176 428 175 428 175 429 174 430 173 430 173 431 172 432 169 432 169 433 168 434 167 434 167 435 166 436 165 436 165 439 166 439 167 440 167 441 168 441 169 442 169 443 168 444 167 444 167 445 166 446 165 446 165 447 164 448 163 448 163 449 162 450 161 450 161 451 160 452 159 452 159 455 160 455 161 456 161 457 162 457 163 458 163 459 164 459 165 460 165 461 166 461 167 462 167 463 170 463 171 464 171 467 170 468 169 468 169 469 168 470 167 470 167 471 168 471 169 472 169 473 170 473 171 474 171 475 174 475 175 476 175 477 178 477 179 478 179 479 182 479 183 480 183 483 182 484 181 484 181 487 180 488 177 488 176 487 176 486 173 486 172 485 172 484 171 484 171 485 170 486 169 486 169 487 168 488 167 488 167 489 166 490 165 490 164 489 164 488 161 488 160 487 160 486 159 486 158 485 158 484 157 484 157 485 156 486 155 486 155 489 154 490 153 490 153 491 152 492 151 492 151 495 150 496 149 496 149 497 148 498 147 498 147 499 146 500 145 500 145 503 144 504 143 504 143 505 142 506 141 506 141 509 140 510 139 510 139 511 138 512 137 512 137 513 136 514 135 514 135 517 134 518 133 518 133 519 132 520 131 520 131 523 130 524 129 524 129 525 190 525 190 524 191 523 192 523 192 516 193 515 194 515 194 508 195 507 196 507 196 502 197 501 198 501 198 496 199 495 206 495 207 496 207 497 208 497 208 496 209 495 210 495 210 486 211 485 212 485 212 474 213 473 214 473 214 468 215 467 222 467 222 456 223 455 224 455 224 434 225 433 226 433 226 422 227 421 230 421 231 422 231 429 234 429 234 422 235 421 236 421 236 414 235 414 234 413 234 402 233 402 232 401 232 392 231 392 230 391 230 386 231 385 232 385 233 386 233 389 234 389 235 390 235 391 236 391 237 392 237 395 238 395 239 396 239 399 240 399 241 400 241 401 242 401 243 402 243 405 244 405 245 406 245 409 250 409 251 410 251 413 252 413 253 414 253 415 254 415 255 416 255 417 256 417 257 418 257 421 258 421 258 420 259 419 260 419 260 418 259 418 258 417 258 416 257 416 256 415 256 412 257 411 260 411 261 412 261 413 262 413 263 414 263 415 264 415 265 416 265 417 266 417 267 418 267 419 268 419 269 420 269 421 270 421 271 422 271 423 272 423 273 424 273 425 274 425 275 426 275 427 276 427 277 428 277 429 278 429 279 430 279 431 280 431 281 432 281 433 282 433 283 434 283 435 284 435 285 436 285 437 286 437 286 436 287 435 288 435 288 434 289 433 292 433 293 434 293 435 296 435 297 436 297 437 298 437 298 434 299 433 300 433 300 432 301 431 302 431 302 430 303 429 304 429 304 424 301 424 300 423 300 422 297 422 296 421 296 420 293 420 292 419 292 418 291 418 290 417 290 416 287 416 286 415 286 414 283 414 282 413 282 412 279 412 278 411 278 410 275 410 274 409 274 408 273 408 272 407 272 406 269 406 268 405 268 404 263 404 263 407 262 408 259 408 258 407 258 406 257 406 256 405 256 404 255 404 254 403 254 402 251 402 250 401 250 400 249 400 248 399 248 398 247 398 246 397 246 396 245 396 244 395 244 394 243 394 242 393 242 390 241 390 240 389 240 388 237 388 236 387 236 386 233 386 232 385 232 384 233 383 248 383 249 384 249 385 270 385 271 386 271 387 278 387 278 384 279 383 308 383 308 376 307 376 307 377 306 378 301 378 300 377 300 372 301 371 302 371 302 370 303 369 314 369 314 368 315 367 316 367 316 366 315 366 314 365 314 362 315 361 316 361 316 360 317 359 324 359 324 358 325 357 330 357 331 358 331 363 332 363 333 364 333 365 338 365 338 364 339 363 350 363 350 362 351 361 360 361 360 360 361 359 372 359 372 358 373 357 376 357 376 318 373 318 373 319 372 320 369 320 369 321 368 322 363 322 363 323 362 324 359 324 359 325 358 326 355 326 355 327 354 328 351 328 351 329 350 330 347 330 347 331 346 332 341 332 341 333 340 334 337 334 337 335 336 336 333 336 333 337 332 338 331 338 331 339 332 339 333 340 333 343 334 343 335 344 335 345 334 346 333 346 333 347 332 348 329 348 329 349 328 350 323 350 323 351 322 352 317 352 317 353 316 354 311 354 311 355 310 356 305 356 304 355 304 354 303 354 302 353 302 350 301 350 300 349 300 346 295 346 295 347 294 348 291 348 291 349 290 350 289 350 289 351 288 352 285 352 285 353 284 354 281 354 281 355 280 356 277 356 277 357 276 358 275 358 275 359 274 360 271 360 270 359 270 358 267 358 267 359 266 360 261 360 260 359 260 358 261 357 262 357 262 356 263 355 264 355 264 354 265 353 266 353 266 352 265 352 264 351 264 348 265 347 268 347 268 346 269 345 270 345 270 344 271 343 272 343 272 342 273 341 274 341 274 340 275 339 276 339 276 338 277 337 278 337 278 336 279 335 280 335 280 334 281 333 282 333 282 332 283 331 284 331 284 330 285 329 286 329 286 328 287 327 288 327 288 326 289 325 290 325 290 324 291 323 292 323 292 322 293 321 294 321 294 320 295 319 296 319 296 318 297 317 298 317 298 316 299 315 300 315 300 314 301 313 302 313 302 312 303 311 304 311 304 310 305 309 306 309 306 308 307 307 308 307 308 306 309 305 310 305 310 304 311 303 312 303 312 302 313 301 316 301 317 302 317 303 318 303 319 304 319 307 324 307 324 306 325 305 326 305 326 304 327 303 328 303 328 302 329 301 330 301 330 300 331 299 334 299 335 300 335 301 336 301 337 302 337 303 338 303 339 304 339 305 340 305 341 306 341 307 342 307 342 306 343 305 344 305 344 304 345 303 348 303 348 302 349 301 350 301 350 300 351 299 354 299 354 298 355 297 356 297 356 296 357 295 360 295 360 294 361 293 362 293 362 292 363 291 366 291 366 290 367 289 368 289 368 288 369 287 372 287 372 286 373 285 374 285 374 284 375 283 376 283 376 242 375 242 375 243 374 244 373 244 373 245 372 246 371 246 371 247 370 248 369 248 369 249 368 250 367 250 367 251 366 252 365 252 365 253 364 254 363 254 363 255 362 256 361 256 361 257 360 258 359 258 359 259 358 260 357 260 357 261 356 262 355 262 355 263 354 264 353 264 353 265 352 266 351 266 351 267 350 268 349 268 349 269 348 270 347 270 347 271 346 272 345 272 345 273 344 274 343 274 343 275 342 276 341 276 341 277 340 278 339 278 339 279 338 280 335 280 335 281 334 282 333 282 333 283 332 284 331 284 331 285 330 286 329 286 329 287 328 288 327 288 327 289 326 290 325 290 325 291 324 292 323 292 323 293 322 294 321 294 321 295 320 296 319 296 318 295 318 294 317 294 316 293 316 292 315 292 314 291 314 290 313 290 312 289 312 288 309 288 308 287 308 286 307 286 306 285 306 284 305 284 304 283 304 278 305 277 306 277 306 276 307 275 308 275 308 274 309 273 310 273 310 270 311 269 312 269 312 268 313 267 314 267 314 264 315 263 316 263 316 262 317 261 318 261 318 260 319 259 320 259 320 256 321 255 322 255 322 254 323 253 324 253 324 250 325 249 326 249 326 248 327 247 328 247 328 246 329 245 330 245 330 242 313 242 313 245 312 246 311 246 311 249 310 250 309 250 309 253 308 254 307 254 307 255 306 256 305 256 305 259 304 260 303 260 303 263 302 264 301 264 301 265 300 266 299 266 299 269 298 270 297 270 297 273 296 274 295 274 295 275 294 276 293 276 293 279 292 280 291 280 291 283 290 284 289 284 289 285 288 286 287 286 287 289 286 290 285 290 285 293 284 294 283 294 283 295 282 296 281 296 281 299 280 300 279 300 279 303 278 304 277 304 277 305 276 306 275 306 275 309 276 309 277 310 277 311 278 311 279 312 279 317 278 318 277 318 277 319 276 320 275 320 275 323 274 324 273 324 273 327 274 327 275 328 275 333 274 334 273 334 273 335 272 336 271 336 271 337 270 338 269 338 269 339 268 340 267 340 267 341 266 342 265 342 264 341 264 340 263 340 262 339 262 338 257 338 257 339 256 340 255 340 255 343 254 344 253 344 253 347 252 348 251 348 251 349 250 350 249 350 249 353 248 354 247 354 247 357 246 358 245 358 245 359 244 360 243 360 243 367 242 368 241 368 241 369 240 370 239 370 239 373 238 374 237 374 236 373 236 370 235 370 234 369 234 368 233 368 232 367 232 364 233 363 234 363 234 352 233 352 233 359 232 360 229 360 228 359 228 356 227 356 226 355 226 352 225 352 224 351 224 348 223 348 222 347 222 336 221 336 220 335 220 326 219 326 218 325 218 322 219 321 224 321 224 314 225 313 230 313 231 314 231 321 234 321 235 322 235 329 240 329 240 320 241 319 242 319 242 310 243 309 244 309 244 308 241 308 240 307 240 306 237 306 236 305 236 300 237 299 238 299 238 298 221 298 221 299 220 300 215 300 214 299 214 292 213 292 212 291 212 282 211 282 210 281 210 270 209 270 208 269 208 260 207 260 206 259 206 248 205 248 204 247 204 242zM224 388 225 387 226 387 227 388 227 395 226 396 225 396 225 399 224 400 223 400 223 405 222 406 221 406 221 411 220 412 219 412 219 415 218 416 217 416 217 421 216 422 215 422 215 427 214 428 213 428 213 431 212 432 211 432 211 433 210 434 209 434 208 433 208 432 207 432 206 431 206 430 207 429 208 429 208 424 205 424 204 423 204 422 203 422 202 421 202 420 199 420 198 419 198 418 199 417 200 417 200 416 201 415 202 415 202 414 203 413 204 413 204 412 203 412 202 411 202 410 203 409 204 409 204 408 205 407 206 407 206 406 207 405 208 405 208 404 209 403 210 403 210 402 211 401 212 401 212 400 213 399 216 399 216 398 217 397 218 397 218 396 219 395 220 395 220 394 221 393 222 393 222 392 223 391 224 391zM226 386 227 385 228 385 229 386 229 387 228 388 227 388 226 387zM220 378 221 377 222 377 223 378 223 379 222 380 221 380 220 379zM240 372 241 371 242 371 243 372 243 375 242 376 241 376 241 377 240 378 237 378 237 379 236 380 235 380 235 381 234 382 233 382 233 383 232 384 231 384 230 383 230 382 229 382 228 381 228 378 229 377 230 377 231 378 231 379 232 379 232 378 233 377 234 377 234 374 235 373 236 373 237 374 237 375 238 375 238 374 239 373 240 373zM264 370 265 369 268 369 269 370 269 373 270 373 270 372 271 371 276 371 277 372 277 379 276 380 259 380 259 381 258 382 247 382 246 381 246 380 245 380 245 381 244 382 237 382 236 381 236 380 237 379 242 379 242 378 243 377 248 377 248 376 249 375 254 375 254 374 255 373 260 373 260 372 261 371 264 371zM232 370 233 369 234 369 235 370 235 373 234 374 233 374 232 373zM224 368 225 367 228 367 229 368 229 377 228 378 227 378 226 377 226 372 225 372 224 371zM222 362 223 361 224 361 225 362 225 365 224 366 223 366 222 365z"/>
<path fill="#4676b5" fill-rule="evenodd" d="M161 498 161 501 160 502 159 502 159 505 158 506 157 506 157 507 156 508 155 508 155 511 154 512 153 512 153 515 152 516 151 516 151 519 150 520 149 520 149 521 148 522 147 522 147 525 162 525 162 522 163 521 164 521 164 518 165 517 166 517 166 514 167 513 168 513 168 510 169 509 170 509 170 506 171 505 172 505 172 502 171 502 170 501 170 500 167 500 166 499 166 498zM243 490 243 491 242 492 231 492 231 525 268 525 268 520 267 520 266 519 266 512 265 512 264 511 264 510 263 510 263 511 262 512 253 512 252 511 252 502 251 502 250 501 250 490zM263 406 263 407 262 408 261 408 261 409 264 409 265 410 265 411 266 411 267 412 267 413 266 414 265 414 265 417 266 417 267 418 267 419 268 419 269 420 269 421 270 421 271 422 271 423 272 423 273 424 273 425 274 425 275 426 275 427 276 427 277 428 277 429 278 429 279 430 279 431 280 431 281 432 281 433 282 433 283 434 283 435 284 435 285 436 285 437 286 437 286 436 287 435 288 435 288 434 289 433 292 433 293 434 293 435 296 435 297 436 297 437 298 437 298 434 299 433 300 433 300 430 297 430 296 429 296 424 297 423 298 423 298 422 297 422 296 421 296 420 293 420 292 419 292 418 291 418 290 417 290 416 287 416 286 415 286 414 283 414 282 413 282 412 279 412 278 411 278 410 275 410 274 409 274 408 273 408 272 407 272 406 271 406 271 409 270 410 267 410 266 409 266 408 265 408 264 407 264 406zM241 396 241 399 242 399 243 400 243 401 244 401 245 402 245 405 246 405 247 406 247 407 250 407 250 406 249 406 248 405 248 404 247 404 246 403 246 402 245 402 244 401 244 400 243 400 242 399 242 396zM235 386 235 387 236 387 236 386zM349 384 349 393 348 394 343 394 342 393 342 392 333 392 333 401 332 402 331 402 331 409 336 409 337 410 337 411 342 411 343 412 343 413 344 413 345 414 345 417 344 418 343 418 343 423 346 423 347 424 347 425 352 425 353 426 353 427 358 427 359 428 359 429 364 429 365 430 365 431 370 431 371 432 371 433 376 433 376 384zM151 384 151 389 150 390 143 390 143 395 144 395 145 396 145 405 146 405 146 404 147 403 152 403 152 396 153 395 162 395 162 394 163 393 174 393 174 388 167 388 166 387 166 384zM85 384 85 395 94 395 94 384zM283 378 283 379 282 380 259 380 259 381 258 382 237 382 236 381 236 380 235 380 235 381 234 382 233 382 233 383 294 383 294 380 293 380 292 379 292 378zM239 378 239 379 240 379 240 378zM215 378 215 379 216 379 216 378zM223 354 223 359 224 359 225 360 225 367 226 367 226 358 225 358 224 357 224 354zM291 348 291 349 290 350 289 350 289 351 288 352 285 352 285 353 284 354 281 354 281 355 280 356 277 356 277 357 276 358 275 358 275 359 274 360 271 360 271 361 270 362 267 362 267 363 266 364 265 364 264 363 264 362 261 362 261 363 260 364 257 364 257 365 256 366 255 366 255 367 254 368 251 368 251 369 250 370 249 370 249 371 248 372 245 372 245 373 244 374 243 374 243 377 248 377 248 376 249 375 254 375 254 374 255 373 260 373 260 372 261 371 264 371 264 370 265 369 270 369 270 368 271 367 274 367 275 368 275 369 276 369 277 370 277 371 278 371 278 370 279 369 286 369 286 368 287 367 292 367 293 368 293 371 300 371 300 368 299 368 298 367 298 366 299 365 300 365 300 364 301 363 306 363 306 360 305 360 304 359 304 358 299 358 299 359 298 360 297 360 296 359 296 356 295 356 294 355 294 352 293 352 292 351 292 348zM257 346 257 347 256 348 255 348 255 349 254 350 253 350 253 353 252 354 251 354 251 355 250 356 249 356 249 359 248 360 247 360 247 361 246 362 245 362 245 367 244 368 243 368 243 369 242 370 241 370 241 371 242 371 242 370 243 369 244 369 244 368 245 367 246 367 246 364 247 363 248 363 248 360 249 359 250 359 250 358 251 357 252 357 252 356 253 355 254 355 254 354 255 353 256 353 256 352 257 351 258 351 258 350 259 349 260 349 260 348 259 348 258 347 258 346zM373 332 373 333 372 334 367 334 367 335 366 336 361 336 361 337 360 338 357 338 357 339 356 340 351 340 351 341 350 342 345 342 345 343 344 344 339 344 339 345 338 346 335 346 335 349 336 349 337 350 337 355 338 355 338 354 339 353 346 353 347 354 347 363 350 363 350 362 351 361 360 361 360 360 361 359 372 359 372 358 373 357 376 357 376 332zM85 332 85 345 90 345 91 346 91 347 98 347 99 348 99 349 104 349 105 350 105 351 112 351 113 352 113 353 114 353 115 354 115 359 114 360 113 360 113 363 122 363 123 364 123 365 128 365 128 360 129 359 130 359 130 358 129 358 128 357 128 356 123 356 122 355 122 352 123 351 124 351 124 346 121 346 120 345 120 344 117 344 116 343 116 342 111 342 110 341 110 340 105 340 104 339 104 338 99 338 98 337 98 336 93 336 92 335 92 334 87 334 86 333 86 332zM167 324 167 325 166 326 165 326 165 327 164 328 163 328 163 329 162 330 161 330 161 333 160 334 159 334 159 335 158 336 157 336 157 339 156 340 155 340 155 341 158 341 159 342 159 343 160 343 161 344 161 345 164 345 165 346 165 347 168 347 169 348 169 349 172 349 173 350 173 351 176 351 177 352 177 353 178 353 179 354 179 355 182 355 183 356 183 357 186 357 187 358 187 359 190 359 190 358 191 357 194 357 195 358 195 359 196 359 197 360 197 361 198 361 198 358 199 357 200 357 201 358 201 359 202 359 203 360 203 361 204 361 205 362 205 363 206 363 207 364 207 365 210 365 211 366 211 367 212 367 213 368 213 369 214 369 215 370 215 371 216 371 217 372 217 373 220 373 221 374 221 375 222 375 223 376 223 377 224 377 225 378 225 379 224 380 221 380 221 381 224 381 224 380 225 379 226 379 227 380 227 383 226 384 225 384 225 385 224 386 217 386 217 387 216 388 215 388 215 389 214 390 209 390 209 391 208 392 203 392 203 393 202 394 201 394 201 397 200 398 197 398 197 399 196 400 195 400 195 401 198 401 198 400 199 399 204 399 205 400 205 405 204 406 201 406 201 407 200 408 199 408 199 409 198 410 197 410 197 411 196 412 195 412 195 413 194 414 191 414 191 415 190 416 189 416 189 417 188 418 187 418 187 419 186 420 185 420 185 421 184 422 183 422 183 423 182 424 179 424 179 425 178 426 177 426 177 427 176 428 175 428 175 429 174 430 173 430 173 431 172 432 169 432 169 433 170 433 171 434 171 435 172 435 173 436 173 439 172 440 171 440 171 441 170 442 169 442 169 443 168 444 167 444 167 445 166 446 165 446 165 447 164 448 163 448 163 449 164 449 165 450 165 451 166 451 167 452 167 453 168 453 169 454 169 455 172 455 173 456 173 457 174 457 175 458 175 459 176 459 176 456 177 455 178 455 178 454 179 453 182 453 183 454 183 455 188 455 188 452 189 451 190 451 190 448 191 447 192 447 192 444 193 443 194 443 194 442 195 441 196 441 196 438 197 437 198 437 198 436 195 436 194 435 194 434 193 434 192 433 192 432 189 432 188 431 188 430 189 429 190 429 190 428 191 427 192 427 192 426 193 425 194 425 194 424 193 424 192 423 192 422 191 422 190 421 190 420 191 419 192 419 192 418 193 417 196 417 196 416 197 415 198 415 198 414 199 413 200 413 200 412 201 411 202 411 202 410 203 409 204 409 204 408 205 407 206 407 206 406 207 405 208 405 208 404 209 403 210 403 210 402 211 401 212 401 212 400 213 399 214 399 214 398 215 397 216 397 216 396 217 395 220 395 220 394 221 393 222 393 222 392 223 391 224 391 224 388 225 387 226 387 226 386 227 385 228 385 229 386 229 389 228 390 227 390 227 395 226 396 225 396 225 397 226 397 227 398 227 399 226 400 225 400 225 407 224 408 223 408 223 413 222 414 221 414 221 419 220 420 217 420 217 421 216 422 215 422 215 427 214 428 213 428 213 431 212 432 211 432 211 437 210 438 209 438 209 443 208 444 207 444 207 447 206 448 205 448 205 453 204 454 203 454 203 459 202 460 201 460 201 463 200 464 199 464 199 469 198 470 197 470 197 475 196 476 195 476 195 479 194 480 193 480 193 485 192 486 191 486 191 491 190 492 189 492 189 497 188 498 187 498 187 501 186 502 185 502 185 507 184 508 183 508 183 513 182 514 181 514 181 517 180 518 179 518 179 523 178 524 177 524 177 525 190 525 190 524 191 523 192 523 192 516 193 515 194 515 194 508 195 507 196 507 196 502 197 501 198 501 198 494 199 493 200 493 200 486 201 485 202 485 202 480 203 479 204 479 204 474 205 473 214 473 214 464 215 463 216 463 216 452 217 451 218 451 218 442 219 441 220 441 220 430 221 429 222 429 222 420 223 419 224 419 224 414 225 413 230 413 231 414 231 421 232 421 232 400 231 400 230 399 230 382 229 382 228 381 228 378 229 377 234 377 234 376 233 376 232 375 232 370 233 369 234 369 234 368 229 368 229 377 228 378 227 378 226 377 226 374 225 374 224 373 224 370 223 370 222 369 222 366 221 366 220 365 220 362 217 362 216 361 216 360 215 360 214 359 214 358 211 358 210 357 210 356 209 356 208 355 208 352 207 352 206 351 206 350 205 350 204 349 204 346 201 346 201 347 200 348 199 348 198 347 198 346 197 346 196 345 196 344 195 344 194 343 194 342 193 342 192 341 192 338 191 338 190 337 190 336 189 336 188 335 188 334 187 334 186 333 186 332 185 332 184 331 184 330 183 330 182 329 182 328 181 328 180 327 180 324 179 324 179 325 178 326 177 326 177 327 176 328 173 328 172 327 172 326 171 326 170 325 170 324zM223 298 223 305 230 305 230 298zM375 242 375 243 374 244 373 244 373 245 372 246 371 246 371 247 370 248 369 248 369 249 368 250 367 250 367 251 366 252 365 252 365 253 364 254 363 254 363 255 362 256 361 256 361 257 360 258 359 258 359 259 358 260 357 260 357 261 356 262 355 262 355 263 354 264 353 264 353 265 352 266 351 266 351 267 350 268 349 268 349 269 348 270 347 270 347 271 346 272 345 272 345 273 344 274 343 274 343 275 342 276 341 276 341 277 340 278 339 278 339 279 338 280 335 280 335 281 334 282 333 282 333 283 332 284 331 284 331 285 330 286 329 286 329 287 328 288 327 288 327 289 326 290 325 290 325 291 324 292 323 292 323 293 322 294 321 294 321 297 322 297 323 298 323 299 324 299 325 300 325 301 326 301 327 302 327 303 328 303 328 302 329 301 330 301 330 300 331 299 334 299 334 298 335 297 336 297 336 296 337 295 338 295 338 294 339 293 340 293 340 292 341 291 342 291 342 290 343 289 346 289 346 288 347 287 348 287 348 286 349 285 350 285 350 284 351 283 352 283 352 282 353 281 356 281 356 280 357 279 358 279 358 278 359 277 360 277 360 276 361 275 362 275 362 274 363 273 364 273 364 272 365 271 368 271 368 270 369 269 370 269 370 268 371 267 372 267 372 266 373 265 374 265 374 264 375 263 376 263 376 242zM313 242 313 245 312 246 311 246 311 249 310 250 309 250 309 253 308 254 307 254 307 255 306 256 305 256 305 259 304 260 303 260 303 263 302 264 301 264 301 265 300 266 299 266 299 269 298 270 297 270 297 273 296 274 295 274 295 275 294 276 293 276 293 279 292 280 291 280 291 283 290 284 289 284 289 285 288 286 287 286 287 289 288 289 289 290 289 291 290 291 291 292 291 293 294 293 295 294 295 295 294 296 293 296 293 297 292 298 291 298 291 299 290 300 289 300 289 303 288 304 287 304 287 305 286 306 285 306 285 309 284 310 283 310 283 311 282 312 281 312 281 313 282 313 283 314 283 315 284 315 285 316 285 317 286 317 287 318 287 319 286 320 285 320 285 321 284 322 283 322 283 325 284 325 285 326 285 327 288 327 288 326 289 325 290 325 290 324 291 323 292 323 292 322 293 321 294 321 294 320 295 319 296 319 296 318 297 317 298 317 298 316 299 315 300 315 300 314 301 313 302 313 302 312 303 311 304 311 304 310 305 309 306 309 306 308 307 307 308 307 308 306 309 305 310 305 310 304 311 303 312 303 312 302 313 301 314 301 314 300 313 300 312 299 312 298 309 298 308 297 308 296 307 296 306 295 306 294 305 294 304 293 304 292 303 292 302 291 302 290 299 290 298 289 298 288 299 287 300 287 300 284 301 283 302 283 302 282 303 281 304 281 304 278 305 277 306 277 306 276 307 275 308 275 308 274 309 273 310 273 310 270 311 269 312 269 312 268 313 267 314 267 314 264 315 263 316 263 316 262 317 261 318 261 318 260 319 259 320 259 320 256 321 255 322 255 322 254 323 253 324 253 324 250 325 249 326 249 326 248 327 247 328 247 328 246 329 245 330 245 330 242zM243 242 243 255 242 256 241 256 241 259 246 259 247 260 247 261 258 261 259 262 259 263 262 263 262 262 263 261 264 261 264 254 265 253 266 253 266 248 267 247 268 247 268 242zM177 242 177 243 178 243 179 244 179 247 180 247 181 248 181 253 182 253 183 254 183 259 184 259 185 260 185 263 186 263 187 264 187 267 188 267 188 266 189 265 194 265 194 264 195 263 202 263 202 262 203 261 208 261 208 260 207 260 206 259 206 248 205 248 204 247 204 242zM109 242 109 243 110 243 111 244 111 245 112 245 113 246 113 247 114 247 115 248 115 249 116 249 117 250 117 253 118 253 119 254 119 255 120 255 121 256 121 257 122 257 123 258 123 259 124 259 125 260 125 261 126 261 127 262 127 263 128 263 129 264 129 267 130 267 131 268 131 269 132 269 133 270 133 271 134 271 135 272 135 273 136 273 137 274 137 275 138 275 139 276 139 277 140 277 141 278 141 279 142 279 143 280 143 283 144 283 145 284 145 285 146 285 147 286 147 287 148 287 149 288 149 289 150 289 151 290 151 291 152 291 153 292 153 293 154 293 155 294 155 297 156 297 157 298 157 299 158 299 159 300 159 301 160 301 161 302 161 303 162 303 163 304 163 305 166 305 166 304 167 303 168 303 168 302 169 301 172 301 173 302 173 305 174 305 175 306 175 307 176 307 176 306 177 305 178 305 178 304 179 303 182 303 182 302 181 302 180 301 180 298 179 298 178 297 178 296 179 295 180 295 180 294 181 293 184 293 184 292 185 291 186 291 186 290 185 290 184 289 184 286 183 286 182 285 182 282 181 282 180 281 180 278 179 278 178 277 178 274 177 274 176 273 176 272 173 272 173 273 172 274 169 274 169 275 168 276 167 276 166 275 166 274 165 274 164 273 164 272 163 272 162 271 162 268 161 268 160 267 160 264 159 264 158 263 158 262 157 262 156 261 156 258 155 258 154 257 154 254 153 254 152 253 152 252 151 252 150 251 150 248 149 248 148 247 148 244 147 244 146 243 146 242z"/>
<path fill="#4e82bb" fill-rule="evenodd" d="M241 498 241 505 240 506 235 506 235 507 234 508 231 508 231 525 256 525 256 524 255 524 254 523 254 514 253 514 252 513 252 502 251 502 250 501 250 498zM219 422 219 427 218 428 217 428 217 435 216 436 215 436 215 443 214 444 213 444 213 451 218 451 218 442 219 441 220 441 220 430 221 429 222 429 222 422zM269 410 269 411 268 412 267 412 267 413 268 413 269 414 269 415 270 415 271 416 271 417 272 417 273 418 273 419 272 420 271 420 271 423 272 423 273 424 273 425 274 425 275 426 275 427 276 427 277 428 277 429 278 429 279 430 279 431 282 431 282 430 283 429 284 429 284 428 285 427 286 427 287 428 287 429 288 429 289 430 289 431 292 431 292 430 293 429 294 429 294 428 295 427 296 427 296 424 297 423 298 423 298 422 297 422 296 421 296 420 293 420 292 419 292 418 291 418 290 417 290 416 287 416 286 415 286 414 283 414 282 413 282 412 277 412 277 413 276 414 273 414 272 413 272 412 271 412 270 411 270 410zM143 390 143 395 144 395 145 396 145 397 150 397 150 396 151 395 158 395 158 390zM357 384 357 393 356 394 343 394 342 393 342 392 341 392 341 401 340 402 339 402 339 411 342 411 343 412 343 413 350 413 351 414 351 415 352 415 353 416 353 419 352 420 351 420 351 425 352 425 353 426 353 427 358 427 359 428 359 429 364 429 365 430 365 431 370 431 371 432 371 433 376 433 376 384zM227 384 227 385 226 386 225 386 225 387 224 388 221 388 221 389 220 390 213 390 213 391 212 392 209 392 209 393 208 394 205 394 205 395 204 396 201 396 201 397 206 397 206 396 207 395 210 395 210 394 211 393 212 393 212 392 213 391 216 391 217 392 217 395 216 396 213 396 213 399 214 399 214 398 215 397 216 397 216 396 217 395 218 395 218 394 219 393 220 393 220 392 221 391 222 391 222 390 223 389 224 389 224 388 225 387 226 387 226 386 227 385 228 385 229 386 229 391 228 392 227 392 227 397 228 397 228 392 229 391 230 391 230 384zM237 382 237 383 238 383 238 382zM223 380 223 381 224 381 224 380zM239 378 239 379 240 379 240 378zM231 376 231 377 232 377 232 376zM277 356 277 357 276 358 275 358 275 359 274 360 271 360 271 361 270 362 267 362 267 363 266 364 263 364 263 365 262 366 259 366 259 367 258 368 257 368 256 367 256 366 255 366 255 367 254 368 251 368 251 371 250 372 249 372 249 373 248 374 245 374 245 375 244 376 243 376 243 377 244 377 244 376 245 375 248 375 248 374 249 373 252 373 253 374 253 375 254 375 254 374 255 373 260 373 260 372 261 371 264 371 264 370 265 369 270 369 270 368 271 367 276 367 276 366 277 365 282 365 282 364 283 363 288 363 288 358 285 358 285 359 284 360 281 360 280 359 280 358 279 358 278 357 278 356zM373 332 373 333 372 334 367 334 367 335 366 336 361 336 361 337 360 338 357 338 357 339 356 340 351 340 351 347 352 347 353 348 353 351 354 351 354 350 355 349 360 349 361 350 361 353 362 353 363 354 363 359 372 359 372 358 373 357 376 357 376 332zM161 330 161 333 160 334 159 334 159 335 162 335 163 336 163 337 164 337 165 338 165 341 164 342 163 342 163 343 162 344 161 344 161 345 164 345 165 346 165 347 168 347 169 348 169 349 172 349 173 350 173 351 176 351 177 352 177 353 178 353 179 354 179 355 182 355 182 354 183 353 188 353 189 354 189 355 192 355 192 352 191 352 190 351 190 350 189 350 188 349 188 346 189 345 192 345 193 346 193 347 194 347 195 348 195 349 196 349 197 350 197 351 198 351 199 352 199 353 200 353 201 354 201 355 202 355 203 356 203 357 204 357 205 358 205 359 206 359 207 360 207 365 210 365 211 366 211 367 214 367 215 368 215 369 216 369 217 370 217 371 220 371 221 372 221 373 222 373 223 374 223 375 224 375 225 376 225 377 226 377 227 378 227 379 228 379 228 378 227 378 226 377 226 374 225 374 224 373 224 370 221 370 220 369 220 366 219 366 218 365 218 362 217 362 216 361 216 360 215 360 214 359 214 358 211 358 210 357 210 356 209 356 208 355 208 352 207 352 207 353 206 354 205 354 204 353 204 352 203 352 202 351 202 350 201 350 200 349 200 348 199 348 198 347 198 346 197 346 196 345 196 344 195 344 194 343 194 342 193 342 192 341 192 338 191 338 190 337 190 336 189 336 189 337 188 338 187 338 187 339 186 340 185 340 184 339 184 338 183 338 182 337 182 336 181 336 180 335 180 334 179 334 178 333 178 332 177 332 176 331 176 330 173 330 173 331 172 332 171 332 171 333 170 334 169 334 168 333 168 332 167 332 166 331 166 330zM293 296 293 297 292 298 291 298 291 299 290 300 289 300 289 303 288 304 287 304 287 305 286 306 285 306 285 307 286 307 287 308 287 309 288 309 289 310 289 311 290 311 291 312 291 313 290 314 289 314 289 315 288 316 287 316 287 319 288 319 289 320 289 321 290 321 291 322 291 323 292 323 292 322 293 321 294 321 294 320 295 319 296 319 296 318 297 317 298 317 298 316 299 315 300 315 300 314 301 313 302 313 302 312 303 311 304 311 304 310 305 309 306 309 306 308 307 307 308 307 308 306 307 306 306 305 306 304 305 304 304 303 304 302 303 302 302 301 302 300 299 300 298 299 298 298 297 298 296 297 296 296zM243 242 243 251 244 251 245 252 245 253 254 253 254 242zM191 242 191 243 192 243 193 244 193 251 194 251 195 252 195 255 202 255 202 254 203 253 206 253 206 248 205 248 204 247 204 242zM109 242 109 243 110 243 111 244 111 245 112 245 113 246 113 247 114 247 115 248 115 249 116 249 117 250 117 253 118 253 119 254 119 255 120 255 121 256 121 257 122 257 123 258 123 259 124 259 125 260 125 261 126 261 127 262 127 263 128 263 129 264 129 267 130 267 131 268 131 269 132 269 133 270 133 271 134 271 135 272 135 273 136 273 137 274 137 275 138 275 139 276 139 277 140 277 141 278 141 279 142 279 143 280 143 283 144 283 145 284 145 285 146 285 147 286 147 287 150 287 150 286 151 285 152 285 152 284 153 283 156 283 156 282 157 281 158 281 159 282 159 285 160 285 161 286 161 287 162 287 163 288 163 291 164 291 165 292 165 293 166 293 167 294 167 295 168 295 169 296 169 299 174 299 174 298 175 297 178 297 178 296 177 296 176 295 176 292 175 292 174 291 174 288 173 288 172 287 172 286 171 286 170 285 170 282 169 282 168 281 168 278 167 278 166 277 166 274 165 274 164 273 164 272 163 272 162 271 162 268 161 268 160 267 160 264 159 264 158 263 158 262 157 262 156 261 156 258 155 258 154 257 154 254 153 254 152 253 152 252 151 252 150 251 150 248 149 248 148 247 148 244 147 244 146 243 146 242z"/>
<path fill="#5b8fc2" fill-rule="evenodd" d="M243 514 243 525 256 525 256 524 255 524 254 523 254 514zM277 412 277 413 276 414 275 414 275 417 274 418 273 418 273 419 272 420 271 420 271 423 272 423 273 424 273 425 274 425 275 426 275 427 276 427 277 428 277 429 278 429 279 430 279 431 282 431 282 430 283 429 284 429 284 428 285 427 286 427 287 428 287 429 288 429 289 430 289 431 292 431 292 430 293 429 294 429 294 426 291 426 290 425 290 424 289 424 288 423 288 422 289 421 290 421 290 416 287 416 286 415 286 414 283 414 282 413 282 412zM349 394 349 401 348 402 347 402 347 411 346 412 345 412 345 413 350 413 351 414 351 415 358 415 359 416 359 417 360 417 361 418 361 419 360 420 359 420 359 425 358 426 357 426 357 427 358 427 359 428 359 429 364 429 365 430 365 431 370 431 371 432 371 433 376 433 376 396 365 396 364 395 364 394zM225 386 225 387 224 388 223 388 223 389 222 390 221 390 221 391 220 392 219 392 219 393 220 393 220 392 221 391 222 391 222 390 223 389 224 389 224 388 225 387 226 387 226 386zM225 376 225 377 226 377 226 376zM217 366 217 369 218 369 219 370 219 371 222 371 223 372 223 373 224 373 224 372 223 372 222 371 222 370 221 370 220 369 220 368 219 368 218 367 218 366zM271 360 271 361 270 362 267 362 267 363 266 364 263 364 263 365 262 366 259 366 259 367 258 368 257 368 257 369 256 370 253 370 253 371 252 372 249 372 249 373 248 374 245 374 245 375 248 375 248 374 249 373 252 373 252 372 253 371 258 371 258 370 259 369 262 369 262 368 263 367 266 367 266 366 267 365 270 365 270 364 271 363 272 363 272 360zM169 334 169 335 168 336 167 336 167 337 166 338 165 338 165 339 168 339 169 340 169 341 170 341 171 342 171 345 170 346 169 346 169 349 172 349 173 350 173 351 176 351 176 348 177 347 178 347 179 348 179 349 182 349 183 350 183 351 186 351 186 348 185 348 184 347 184 346 183 346 182 345 182 342 183 341 184 341 184 338 183 338 182 337 182 336 181 336 180 335 180 334 179 334 179 335 178 336 177 336 177 337 176 338 173 338 172 337 172 336 171 336 170 335 170 334zM301 300 301 301 300 302 299 302 299 305 298 306 297 306 297 307 296 308 295 308 295 309 294 310 293 310 293 313 294 313 295 314 295 315 296 315 297 316 297 317 298 317 298 316 299 315 300 315 300 314 301 313 302 313 302 312 303 311 304 311 304 310 305 309 306 309 306 308 307 307 308 307 308 306 307 306 306 305 306 304 305 304 304 303 304 302 303 302 302 301 302 300z"/>
<path fill="#6a9fcb" fill-rule="evenodd" d="M275 414 275 419 276 419 277 420 277 421 278 421 279 422 279 423 278 424 277 424 277 425 276 426 275 426 275 427 276 427 277 428 277 429 278 429 279 430 279 431 282 431 282 430 283 429 284 429 284 428 285 427 286 427 287 428 287 429 288 429 289 430 289 431 292 431 292 430 293 429 294 429 294 426 291 426 290 425 290 424 289 424 288 423 288 422 289 421 290 421 290 416 287 416 286 415 286 414 285 414 285 415 284 416 283 416 283 417 282 418 279 418 278 417 278 416 277 416 276 415 276 414zM357 394 357 403 356 404 355 404 355 411 354 412 353 412 353 415 358 415 359 416 359 417 366 417 367 418 367 419 374 419 375 420 375 421 376 421 376 396 365 396 364 395 364 394zM173 340 173 345 176 345 177 346 177 347 178 347 178 346 179 345 180 345 180 342 179 342 178 341 178 340z"/>
<path fill="#86b9d8" fill-rule="evenodd" d="M275 414 275 419 276 419 277 420 277 421 278 421 279 422 279 423 280 423 281 424 281 425 282 425 283 426 283 427 286 427 286 424 287 423 288 423 288 422 285 422 284 421 284 420 283 420 282 419 282 418 279 418 278 417 278 416 277 416 276 415 276 414z"/>
</g>
<g fill="#00ff00" stroke="#00ff00" stroke-width="0.4" class="sat" text-anchor="middle" letter-spacing="1.35">
<text x="207.2" y="251.0">J196</text>
<text x="199.7" y="275.5">R10</text>
<text x="205.0" y="282.9">J195</text>
<text x="176.4" y="280.7">C12</text>
<text x="143.9" y="292.1">C27</text>
<text x="160.1" y="311.6">C03</text>
<text x="193.3" y="309.6">J199</text>
<text x="218.0" y="297.3">C60</text>
<text x="227.1" y="297.8">C01</text>
<text x="239.0" y="291.6">R09</text>
<text x="256.2" y="267.9">R04</text>
<text x="291.0" y="262.9">G20</text>
<text x="302.2" y="270.9">E05</text>
<text x="260.0" y="293.8">C04</text>
<text x="259.7" y="301.3">C02</text>
<text x="252.3" y="316.3">E06</text>
<text x="246.0" y="319.5">G11</text>
<text x="346.2" y="305.9">E34</text>
<text x="301.3" y="328.7">R15</text>
<text x="343.2" y="344.9">G22</text>
<text x="356.2" y="351.7">R17</text>
<text x="355.3" y="384.9">E36</text>
<text x="203.5" y="346.0">C39</text>
<text x="246.7" y="349.6">C23</text>
<text x="274.4" y="352.7">R18</text>
<text x="255.3" y="361.8">E26</text>
<text x="241.9" y="361.3">R12</text>
<text x="230.7" y="369.6">C38</text>
<text x="232.5" y="370.6">G18</text>
<text x="195.1" y="369.7">C06</text>
<text x="199.0" y="364.6">C08</text>
<text x="205.7" y="365.7">E03</text>
<text x="226.2" y="389.3">E30</text>
<text x="239.3" y="397.6">R16</text>
<text x="266.0" y="404.0">C43</text>
<text x="185.0" y="392.8">C09</text>
<text x="151.2" y="361.0">C07</text>
<text x="164.2" y="361.0">C40</text>
<text x="104.4" y="323.6">G29</text>
<text x="109.1" y="344.0">C59</text>
<text x="115.0" y="340.0">C05</text>
<text x="127.2" y="350.7">C16</text>
<text x="125.5" y="331.5">J200</text>
<text x="130.7" y="332.1">I09</text>
<text x="138.8" y="332.6">I07</text>
<text x="135.4" y="336.4">C36</text>
<text x="133.3" y="437.0">G25</text>
<text x="156.9" y="437.0">E07</text>
<text x="168.1" y="434.0">G30</text>
<text x="155.3" y="460.8">J194</text>
<text x="125.7" y="464.2">C25</text>
<text x="130.9" y="468.2">G28</text>
<text x="130.3" y="472.7">C46</text>
<text x="186.0" y="410.8">G27</text>
<text x="186.0" y="418.8">G19</text>
<text x="166.4" y="496.7">R26</text>
<text x="183.4" y="505.1">R08</text>
<text x="350.1" y="448.3">E25</text>
<text x="327.3" y="459.7">C34</text>
<text x="310.2" y="477.9">E11</text>
<text x="328.0" y="433.6">G17</text>
<text x="318.2" y="436.9">E02</text>
<text x="297.4" y="437.5">C41</text>
<text x="298.7" y="426.5">E19</text>
<text x="305.2" y="428.4">G04</text>
</g>
<path d="M203.0 259.7h7M206.5 256.2v7M195.5 284.2h7M199.0 280.7v7M200.8 291.6h7M204.3 288.1v7M172.2 289.4h7M175.7 285.9v7M139.7 300.8h7M143.2 297.3v7M155.9 320.3h7M159.4 316.8v7M189.1 318.3h7M192.6 314.8v7M213.8 306.0h7M217.3 302.5v7M222.9 306.5h7M226.4 303.0v7M234.8 300.3h7M238.3 296.8v7M252.0 276.6h7M255.5 273.1v7M286.8 271.6h7M290.3 268.1v7M298.0 279.6h7M301.5 276.1v7M255.8 302.5h7M259.3 299.0v7M255.5 310.0h7M259.0 306.5v7M248.1 325.0h7M251.6 321.5v7M241.8 328.2h7M245.3 324.7v7M342.0 314.6h7M345.5 311.1v7M297.1 337.4h7M300.6 333.9v7M339.0 353.6h7M342.5 350.1v7M352.0 360.4h7M355.5 356.9v7M351.1 393.6h7M354.6 390.1v7M199.3 354.7h7M202.8 351.2v7M242.5 358.3h7M246.0 354.8v7M270.2 361.4h7M273.7 357.9v7M251.1 370.5h7M254.6 367.0v7M237.7 370.0h7M241.2 366.5v7M226.5 378.3h7M230.0 374.8v7M228.3 379.3h7M231.8 375.8v7M190.9 378.4h7M194.4 374.9v7M194.8 373.3h7M198.3 369.8v7M201.5 374.4h7M205.0 370.9v7M222.0 398.0h7M225.5 394.5v7M235.1 406.3h7M238.6 402.8v7M261.8 412.7h7M265.3 409.2v7M180.8 401.5h7M184.3 398.0v7M147.0 369.7h7M150.5 366.2v7M160.0 369.7h7M163.5 366.2v7M100.2 332.3h7M103.7 328.8v7M104.9 352.7h7M108.4 349.2v7M110.8 348.7h7M114.3 345.2v7M123.0 359.4h7M126.5 355.9v7M121.3 340.2h7M124.8 336.7v7M126.5 340.8h7M130.0 337.3v7M134.6 341.3h7M138.1 337.8v7M131.2 345.1h7M134.7 341.6v7M129.1 445.7h7M132.6 442.2v7M152.7 445.7h7M156.2 442.2v7M163.9 442.7h7M167.4 439.2v7M151.1 469.5h7M154.6 466.0v7M121.5 472.9h7M125.0 469.4v7M126.7 476.9h7M130.2 473.4v7M126.1 481.4h7M129.6 477.9v7M181.8 419.5h7M185.3 416.0v7M181.8 427.5h7M185.3 424.0v7M162.2 505.4h7M165.7 501.9v7M179.2 513.8h7M182.7 510.3v7M345.9 457.0h7M349.4 453.5v7M323.1 468.4h7M326.6 464.9v7M306.0 486.6h7M309.5 483.1v7M323.8 442.3h7M327.3 438.8v7M314.0 445.6h7M317.5 442.1v7M293.2 446.2h7M296.7 442.7v7M294.5 435.2h7M298.0 431.7v7M301.0 437.1h7M304.5 433.6v7" stroke="#00ff00" stroke-width="1.3" fill="none"/>
<g stroke="#ffffbf" stroke-width="1.1" fill="none">
<ellipse cx="230.5" cy="383.5" rx="47.67" ry="46.33"/>
<ellipse cx="230.5" cy="383.5" rx="95.33" ry="92.67"/>
<ellipse cx="230.5" cy="383.5" rx="143.00" ry="139.00"/>
<path d="M87.50 383.50L373.50 383.50M129.38 285.21L331.62 481.79M230.50 244.50L230.50 522.50M331.62 285.21L129.38 481.79"/>
</g>
<line x1="230.5" y1="383.5" x2="285.5" y2="430.5" stroke="#f0941c" stroke-width="1.2"/>
<g fill="#ffa500" shape-rendering="crispEdges"><circle cx="306.5" cy="378.6" r="2.57"/><circle cx="306.3" cy="379.9" r="2.61"/><circle cx="305.4" cy="381.2" r="2.78"/><circle cx="306.3" cy="382.4" r="3.06"/><circle cx="305.7" cy="383.7" r="2.66"/><circle cx="304.9" cy="385.0" r="2.69"/><circle cx="303.9" cy="386.3" r="2.57"/><circle cx="303.5" cy="387.6" r="3.15"/><circle cx="304.1" cy="388.8" r="3.06"/><circle cx="303.6" cy="390.1" r="2.64"/><circle cx="302.4" cy="391.4" r="2.94"/><circle cx="302.6" cy="392.7" r="3.10"/><circle cx="302.4" cy="394.0" r="2.56"/><circle cx="301.5" cy="395.2" r="2.97"/><circle cx="300.9" cy="396.5" r="2.62"/><circle cx="300.4" cy="397.8" r="2.56"/><circle cx="300.7" cy="399.1" r="3.11"/><circle cx="299.6" cy="400.4" r="2.71"/><circle cx="299.7" cy="401.6" r="2.90"/><circle cx="299.2" cy="402.9" r="3.09"/><circle cx="298.2" cy="404.2" r="2.79"/><circle cx="297.8" cy="405.5" r="2.80"/><circle cx="296.7" cy="406.8" r="2.71"/><circle cx="297.2" cy="408.0" r="2.53"/><circle cx="295.5" cy="409.3" r="2.94"/><circle cx="295.4" cy="410.6" r="2.87"/><circle cx="295.2" cy="411.9" r="2.74"/><circle cx="295.5" cy="413.2" r="2.64"/><circle cx="294.1" cy="414.4" r="2.64"/><circle cx="293.9" cy="415.7" r="2.69"/><circle cx="292.9" cy="417.0" r="3.02"/><circle cx="292.4" cy="418.3" r="2.89"/><circle cx="292.8" cy="419.6" r="2.57"/><circle cx="290.9" cy="420.8" r="2.66"/><circle cx="291.5" cy="422.1" r="2.93"/><circle cx="290.1" cy="423.4" r="2.73"/><circle cx="289.5" cy="424.7" r="2.82"/><circle cx="288.7" cy="426.0" r="2.99"/><circle cx="289.5" cy="427.2" r="3.17"/><circle cx="288.7" cy="428.5" r="3.17"/><circle cx="287.0" cy="429.8" r="2.70"/><circle cx="288.0" cy="431.1" r="3.04"/><circle cx="286.5" cy="432.4" r="3.16"/><circle cx="286.3" cy="433.6" r="3.07"/><circle cx="285.2" cy="434.9" r="2.63"/><circle cx="284.9" cy="436.2" r="2.60"/></g>
<path d="M511.5 461.5L665.5 382.5M665.5 382.5L933.7 428.6M665.5 382.5l-4.0 2.1M719.1 391.7l-4.0 2.1M772.8 400.9l-4.0 2.1M826.4 410.2l-4.0 2.1M880.1 419.4l-4.0 2.1M933.7 428.6l-4.0 2.1M511.5 461.5l4.4 0.8M533.5 450.2l4.4 0.8M555.5 438.9l4.4 0.8M577.5 427.6l4.4 0.8M599.5 416.4l4.4 0.8M621.5 405.1l4.4 0.8M643.5 393.8l4.4 0.8M665.5 382.5l4.4 0.8" stroke="#ffffbf" stroke-width="1" fill="none"/>
<filter id="jit" x="-5%" y="-12%" width="110%" height="124%" color-interpolation-filters="sRGB"><feTurbulence type="fractalNoise" baseFrequency="0.42 0.012" numOctaves="1" seed="11" result="n"/><feColorMatrix in="n" type="matrix" values="0 0 0 0 0.5  0 1 0 0 0  0 0 0 0 0.5  0 0 0 0 1" result="m"/><feDisplacementMap in="SourceGraphic" in2="m" scale="11" xChannelSelector="R" yChannelSelector="G"/></filter>
<g stroke="none" shape-rendering="crispEdges" filter="url(#jit)">
<path fill="#d2e9f2" d="M675.8 308.3 678.5 307.1 681.2 310.5 683.9 312.6 680.8 318.9 678.1 309 675.4 308.5 672.8 308.5zM692 315.4 694.7 309.5 697.4 310.6 694.3 314.2 691.6 312.7 688.9 311.6zM716.3 313.7 719 320.3 721.7 319.2 724.4 317 727.1 313.3 724 319.3 721.3 316.8 718.6 319.6 715.9 317.2 713.2 316.3zM756.8 327.3 759.5 324.1 762.2 324.9 759.1 327.4 756.4 324.7 753.7 325.5zM767.6 325.4 770.3 325.7 773 324 775.7 327.8 778.4 324.5 775.3 324.7 772.6 326.5 769.9 325.6 767.2 326.6 764.5 325.3zM783.8 324.3 786.5 336.2 783.4 333.7 780.7 327.3zM791.9 330.4 794.6 329.6 797.3 332 800 331.8 802.7 328.4 799.6 328.3 796.9 329.6 794.2 330.2 791.5 331.3 788.8 334zM818.9 329.2 821.6 336.5 818.5 336.4 815.8 330.5zM845.9 339.6 848.6 342.8 845.5 344.4 842.8 337.5z"/>
<path fill="#c4e0ee" d="M683.9 312.6 686.6 316.5 689.3 314.4 692 315.4 688.9 311.6 686.2 315.8 683.5 317.8 680.8 318.9zM746 319.5 748.7 329.7 751.4 324 754.1 328.8 756.8 327.3 753.7 325.5 751 325.8 748.3 326.7 745.6 328.1 742.9 322.5zM762.2 324.9 764.9 335.1 767.6 325.4 764.5 325.3 761.8 333.3 759.1 327.4zM786.5 336.2 789.2 332.5 791.9 330.4 788.8 334 786.1 333.8 783.4 333.7zM821.6 336.5 824.3 336.9 827 338.5 829.7 340.8 826.6 344.4 823.9 339.3 821.2 340.2 818.5 336.4zM835.1 341.5 837.8 339.3 840.5 343.9 837.4 344 834.7 341.6 832 341.6zM843.2 346.2 845.9 339.6 842.8 337.5 840.1 345.2zM848.6 342.8 851.3 345.5 854 344.5 850.9 347.6 848.2 345 845.5 344.4z"/>
<path fill="#d9edf4" d="M697.4 310.6 700.1 308.1 702.8 311.1 705.5 307.2 702.4 306.9 699.7 312.5 697 311.5 694.3 314.2zM713.6 306 716.3 313.7 713.2 316.3 710.5 308.1zM727.1 313.3 729.8 313.7 732.5 312.5 729.4 312.4 726.7 315.7 724 319.3zM743.3 310.6 746 319.5 742.9 322.5 740.2 318.4zM778.4 324.5 781.1 321.9 783.8 324.3 780.7 327.3 778 327.5 775.3 324.7zM802.7 328.4 805.4 329.1 808.1 326.2 805 327.3 802.3 331.9 799.6 328.3zM813.5 325.5 816.2 328.9 818.9 329.2 815.8 330.5 813.1 330.8 810.4 325.6z"/>
<path fill="#e0f0f5" d="M705.5 307.2 708.2 307.7 710.9 306.3 713.6 306 710.5 308.1 707.8 305.7 705.1 308.6 702.4 306.9zM732.5 312.5 735.2 305.2 732.1 309 729.4 312.4zM740.6 309.1 743.3 310.6 740.2 318.4 737.5 306.6zM808.1 326.2 810.8 322.8 813.5 325.5 810.4 325.6 807.7 325.4 805 327.3z"/>
<path fill="#e3f2f4" d="M735.2 305.2 737.9 311.3 740.6 309.1 737.5 306.6 734.8 311.6 732.1 309z"/>
<path fill="#b6d8eb" d="M829.7 340.8 832.4 343.9 835.1 341.5 832 341.6 829.3 347 826.6 344.4zM840.5 343.9 843.2 346.2 840.1 345.2 837.4 344z"/>
<path fill="#acd2e8" d="M854 344.5 856.7 357 853.6 354.1 850.9 347.6z"/>
<path fill="#a2cce5" d="M856.7 357 859.4 361.8 856.3 350.5 853.6 354.1z"/>
<path fill="#9bc7e3" d="M859.4 361.8 862.1 376.5 859 362.6 856.3 350.5z"/>
<path fill="#86b7dc" d="M862.1 376.5 864.8 377 861.7 376.2 859 362.6zM872.9 378.1 875.6 371.7 872.5 374.1 869.8 375.2z"/>
<path fill="#7eb0d9" d="M864.8 377 867.5 378.4 870.2 378.2 872.9 378.1 869.8 375.2 867.1 380.2 864.4 380.5 861.7 376.2z"/>
<path fill="#8ebee0" d="M875.6 371.7 878.3 370.7 875.2 377.1 872.5 374.1z"/>
<path fill="#d9edf4" d="M672.8 308.5 675.4 308.5 672.4 310.3 669.7 310zM694.3 314.2 697 311.5 699.7 312.5 702.4 306.9 699.4 310.6 696.7 312.7 694 311.4 691.3 313.6zM710.5 308.1 713.2 316.3 710.2 316.9 707.5 310.8zM724 319.3 726.7 315.7 723.7 315.5 721 318.8zM740.2 318.4 742.9 322.5 739.9 320.4 737.2 316.6zM772.6 326.5 775.3 324.7 772.3 327.4 769.6 326.6zM796.9 329.6 799.6 328.3 802.3 331.9 805 327.3 802 329.1 799.3 331.7 796.6 329.5 793.9 333.1zM813.1 330.8 815.8 330.5 818.5 336.4 815.5 336.8 812.8 329.4 810.1 330.7z"/>
<path fill="#d2e9f2" d="M675.4 308.5 678.1 309 675.1 312.3 672.4 310.3zM686.2 315.8 688.9 311.6 691.6 312.7 694.3 314.2 691.3 313.6 688.6 312 685.9 315.3 683.2 317.1zM713.2 316.3 715.9 317.2 718.6 319.6 721.3 316.8 724 319.3 721 318.8 718.3 318.9 715.6 326.4 712.9 320.2 710.2 316.9zM742.9 322.5 745.6 328.1 742.6 329.9 739.9 320.4zM753.7 325.5 756.4 324.7 759.1 327.4 756.1 327.6 753.4 327.6 750.7 329.1zM764.5 325.3 767.2 326.6 769.9 325.6 772.6 326.5 769.6 326.6 766.9 326.3 764.2 326.9 761.5 325.9zM775.3 324.7 778 327.5 780.7 327.3 783.4 333.7 780.4 331.8 777.7 326.6 775 329.4 772.3 327.4zM791.5 331.3 794.2 330.2 796.9 329.6 793.9 333.1 791.2 332.3 788.5 333zM818.5 336.4 821.2 340.2 818.2 339.7 815.5 336.8zM840.1 345.2 842.8 337.5 845.5 344.4 842.5 345.5 839.8 338.5 837.1 341.8z"/>
<path fill="#c4e0ee" d="M678.1 309 680.8 318.9 683.5 317.8 686.2 315.8 683.2 317.1 680.5 319.7 677.8 317.5 675.1 312.3zM745.6 328.1 748.3 326.7 751 325.8 753.7 325.5 750.7 329.1 748 328.4 745.3 327.6 742.6 329.9zM759.1 327.4 761.8 333.3 764.5 325.3 761.5 325.9 758.8 330.7 756.1 327.6zM783.4 333.7 786.1 333.8 788.8 334 791.5 331.3 788.5 333 785.8 338.7 783.1 336.4 780.4 331.8zM821.2 340.2 823.9 339.3 826.6 344.4 823.6 347.2 820.9 341.2 818.2 339.7zM829.3 347 832 341.6 834.7 341.6 837.4 344 840.1 345.2 837.1 341.8 834.4 346.7 831.7 341 829 342.6 826.3 344.4zM845.5 344.4 848.2 345 850.9 347.6 847.9 346.3 845.2 343.7 842.5 345.5z"/>
<path fill="#e0f0f5" d="M702.4 306.9 705.1 308.6 707.8 305.7 710.5 308.1 707.5 310.8 704.8 307.5 702.1 308.7 699.4 310.6zM726.7 315.7 729.4 312.4 726.4 313.5 723.7 315.5zM737.5 306.6 740.2 318.4 737.2 316.6 734.5 311.6zM805 327.3 807.7 325.4 810.4 325.6 813.1 330.8 810.1 330.7 807.4 323.7 804.7 324.9 802 329.1z"/>
<path fill="#e3f2f4" d="M729.4 312.4 732.1 309 734.8 311.6 737.5 306.6 734.5 311.6 731.8 312.8 729.1 310.1 726.4 313.5z"/>
<path fill="#b6d8eb" d="M826.6 344.4 829.3 347 826.3 344.4 823.6 347.2zM850.9 347.6 853.6 354.1 850.6 355 847.9 346.3z"/>
<path fill="#acd2e8" d="M853.6 354.1 856.3 350.5 859 362.6 856 352.5 853.3 351.9 850.6 355z"/>
<path fill="#9bc7e3" d="M859 362.6 861.7 376.2 858.7 361.3 856 352.5z"/>
<path fill="#86b7dc" d="M861.7 376.2 864.4 380.5 861.4 382.6 858.7 361.3zM867.1 380.2 869.8 375.2 872.5 374.1 875.2 377.1 872.2 383.1 869.5 377.5 866.8 377.9 864.1 381.4z"/>
<path fill="#7eb0d9" d="M864.4 380.5 867.1 380.2 864.1 381.4 861.4 382.6z"/>
<path fill="#d9edf4" d="M669.7 310 672.4 310.3 669.3 312.1 666.6 311.2zM688.6 312 691.3 313.6 694 311.4 696.7 312.7 699.4 310.6 696.3 311.6 693.6 312.9 690.9 312.7 688.2 313.3 685.5 314.1zM707.5 310.8 710.2 316.9 707.1 319 704.4 312.6zM718.3 318.9 721 318.8 723.7 315.5 720.6 317.9 717.9 314.8 715.2 318.7zM737.2 316.6 739.9 320.4 736.8 323.2 734.1 315.1zM764.2 326.9 766.9 326.3 769.6 326.6 772.3 327.4 775 329.4 777.7 326.6 774.6 328.4 771.9 326 769.2 325.7 766.5 328.3 763.8 326.8 761.1 327.6zM791.2 332.3 793.9 333.1 796.6 329.5 799.3 331.7 802 329.1 798.9 329.4 796.2 334.4 793.5 332.2 790.8 331.3 788.1 329.7zM812.8 329.4 815.5 336.8 812.4 337.8 809.7 327.2z"/>
<path fill="#d2e9f2" d="M672.4 310.3 675.1 312.3 672 316 669.3 312.1zM683.2 317.1 685.9 315.3 688.6 312 685.5 314.1 682.8 316.5 680.1 318.3zM710.2 316.9 712.9 320.2 709.8 322.1 707.1 319zM715.6 326.4 718.3 318.9 715.2 318.7 712.5 324.2zM739.9 320.4 742.6 329.9 739.5 329.7 736.8 323.2zM750.7 329.1 753.4 327.6 756.1 327.6 758.8 330.7 761.5 325.9 764.2 326.9 761.1 327.6 758.4 327.8 755.7 333.5 753 326.7 750.3 329.1 747.6 328.1zM777.7 326.6 780.4 331.8 777.3 333.2 774.6 328.4zM785.8 338.7 788.5 333 791.2 332.3 788.1 329.7 785.4 331.2 782.7 336.5zM815.5 336.8 818.2 339.7 820.9 341.2 817.8 338.2 815.1 342.1 812.4 337.8zM829 342.6 831.7 341 828.6 338.1 825.9 340.9zM837.1 341.8 839.8 338.5 842.5 345.5 839.4 347.2 836.7 339.4 834 345.9z"/>
<path fill="#c4e0ee" d="M675.1 312.3 677.8 317.5 680.5 319.7 683.2 317.1 680.1 318.3 677.4 321.9 674.7 319.2 672 316zM712.9 320.2 715.6 326.4 712.5 324.2 709.8 322.1zM742.6 329.9 745.3 327.6 748 328.4 750.7 329.1 747.6 328.1 744.9 329.7 742.2 328.4 739.5 329.7zM780.4 331.8 783.1 336.4 785.8 338.7 782.7 336.5 780 336.4 777.3 333.2zM820.9 341.2 823.6 347.2 820.5 346.9 817.8 338.2zM826.3 344.4 829 342.6 825.9 340.9 823.2 347.4zM831.7 341 834.4 346.7 837.1 341.8 834 345.9 831.3 350.4 828.6 338.1zM842.5 345.5 845.2 343.7 847.9 346.3 844.8 346.3 842.1 346.7 839.4 347.2z"/>
<path fill="#e0f0f5" d="M699.4 310.6 702.1 308.7 699 309.9 696.3 311.6zM704.8 307.5 707.5 310.8 704.4 312.6 701.7 307.1zM723.7 315.5 726.4 313.5 729.1 310.1 726 312.6 723.3 317.6 720.6 317.9zM802 329.1 804.7 324.9 801.6 330.4 798.9 329.4zM807.4 323.7 810.1 330.7 812.8 329.4 809.7 327.2 807 329.4 804.3 325z"/>
<path fill="#e3f2f4" d="M702.1 308.7 704.8 307.5 701.7 307.1 699 309.9zM729.1 310.1 731.8 312.8 734.5 311.6 737.2 316.6 734.1 315.1 731.4 310.2 728.7 315.3 726 312.6zM804.7 324.9 807.4 323.7 804.3 325 801.6 330.4z"/>
<path fill="#b6d8eb" d="M823.6 347.2 826.3 344.4 823.2 347.4 820.5 346.9zM847.9 346.3 850.6 355 853.3 351.9 856 352.5 852.9 356.3 850.2 355.3 847.5 352.8 844.8 346.3z"/>
<path fill="#acd2e8" d="M856 352.5 858.7 361.3 855.6 357.1 852.9 356.3z"/>
<path fill="#94c3e2" d="M858.7 361.3 861.4 382.6 858.3 384.2 855.6 357.1z"/>
<path fill="#75a8d5" d="M861.4 382.6 864.1 381.4 861 387.3 858.3 384.2z"/>
<path fill="#7eb0d9" d="M864.1 381.4 866.8 377.9 863.7 383.3 861 387.3zM869.5 377.5 872.2 383.1 869.1 386.8 866.4 382.6z"/>
<path fill="#86b7dc" d="M866.8 377.9 869.5 377.5 866.4 382.6 863.7 383.3z"/>
<path fill="#d9edf4" d="M666.6 311.2 669.3 312.1 666.2 314.3 663.5 312zM685.5 314.1 688.2 313.3 685.1 311.7 682.4 316.2zM715.2 318.7 717.9 314.8 714.8 317.2 712.1 319.5zM761.1 327.6 763.8 326.8 766.5 328.3 769.2 325.7 771.9 326 774.6 328.4 771.5 329.2 768.8 327.9 766.1 328.9 763.4 330.5 760.7 327.8 758 332.1zM785.4 331.2 788.1 329.7 790.8 331.3 793.5 332.2 796.2 334.4 798.9 329.4 795.8 331.9 793.1 336.1 790.4 331.9 787.7 332.8 785 334.1 782.3 332.8zM809.7 327.2 812.4 337.8 809.3 339.5 806.6 328.6zM825.9 340.9 828.6 338.1 825.5 337.3 822.8 341.6z"/>
<path fill="#d2e9f2" d="M669.3 312.1 672 316 668.9 316.4 666.2 314.3zM680.1 318.3 682.8 316.5 685.5 314.1 682.4 316.2 679.7 317.1 677 320.8zM707.1 319 709.8 322.1 712.5 324.2 715.2 318.7 712.1 319.5 709.4 326.8 706.7 321.1 704 318.4zM736.8 323.2 739.5 329.7 736.4 331.6 733.7 320.1zM742.2 328.4 744.9 329.7 747.6 328.1 750.3 329.1 753 326.7 755.7 333.5 758.4 327.8 761.1 327.6 758 332.1 755.3 329.3 752.6 333.2 749.9 327.5 747.2 332.1 744.5 328.7 741.8 329.6 739.1 327zM774.6 328.4 777.3 333.2 780 336.4 776.9 338.2 774.2 334.2 771.5 329.2zM782.7 336.5 785.4 331.2 782.3 332.8 779.6 337.9zM812.4 337.8 815.1 342.1 817.8 338.2 814.7 341.2 812 340.1 809.3 339.5zM828.6 338.1 831.3 350.4 828.2 345.1 825.5 337.3zM834 345.9 836.7 339.4 839.4 347.2 836.3 345.8 833.6 340.9 830.9 351.3z"/>
<path fill="#c4e0ee" d="M672 316 674.7 319.2 677.4 321.9 680.1 318.3 677 320.8 674.3 322.3 671.6 319.7 668.9 316.4zM739.5 329.7 742.2 328.4 739.1 327 736.4 331.6zM780 336.4 782.7 336.5 779.6 337.9 776.9 338.2zM817.8 338.2 820.5 346.9 823.2 347.4 825.9 340.9 822.8 341.6 820.1 347.4 817.4 345.1 814.7 341.2zM831.3 350.4 834 345.9 830.9 351.3 828.2 345.1zM839.4 347.2 842.1 346.7 844.8 346.3 847.5 352.8 844.4 355.5 841.7 349.4 839 347.3 836.3 345.8z"/>
<path fill="#e0f0f5" d="M688.2 313.3 690.9 312.7 693.6 312.9 696.3 311.6 699 309.9 695.9 313.2 693.2 313.2 690.5 314.6 687.8 310.3 685.1 311.7zM704.4 312.6 707.1 319 704 318.4 701.3 310.2zM717.9 314.8 720.6 317.9 723.3 317.6 726 312.6 722.9 312.4 720.2 318.5 717.5 314.3 714.8 317.2zM734.1 315.1 736.8 323.2 733.7 320.1 731 314.9zM798.9 329.4 801.6 330.4 804.3 325 801.2 327.5 798.5 331.3 795.8 331.9z"/>
<path fill="#e3f2f4" d="M699 309.9 701.7 307.1 704.4 312.6 701.3 310.2 698.6 310 695.9 313.2zM726 312.6 728.7 315.3 731.4 310.2 734.1 315.1 731 314.9 728.3 314.5 725.6 315.8 722.9 312.4zM804.3 325 807 329.4 809.7 327.2 806.6 328.6 803.9 329.4 801.2 327.5z"/>
<path fill="#b6d8eb" d="M847.5 352.8 850.2 355.3 852.9 356.3 849.8 357.1 847.1 355.9 844.4 355.5z"/>
<path fill="#acd2e8" d="M852.9 356.3 855.6 357.1 852.5 357.8 849.8 357.1z"/>
<path fill="#8ebee0" d="M855.6 357.1 858.3 384.2 855.2 394 852.5 357.8z"/>
<path fill="#70a5d2" d="M858.3 384.2 861 387.3 857.9 393.1 855.2 394z"/>
<path fill="#75a8d5" d="M861 387.3 863.7 383.3 860.6 386 857.9 393.1zM866.4 382.6 869.1 386.8 866 390.7 863.3 388.3z"/>
<path fill="#7eb0d9" d="M863.7 383.3 866.4 382.6 863.3 388.3 860.6 386z"/>
<path fill="#d9edf4" d="M663.5 312 666.2 314.3 663.1 315.6 660.4 312zM679.7 317.1 682.4 316.2 685.1 311.7 682 316.9 679.3 313.4 676.6 316zM704 318.4 706.7 321.1 703.6 320.6 700.9 321.8zM758 332.1 760.7 327.8 763.4 330.5 766.1 328.9 768.8 327.9 771.5 329.2 774.2 334.2 771.1 336.4 768.4 329.8 765.7 329 763 329.8 760.3 329 757.6 329 754.9 330.4zM785 334.1 787.7 332.8 790.4 331.9 793.1 336.1 795.8 331.9 792.7 332.2 790 336.9 787.3 332.7 784.6 332.5 781.9 336.3zM809.3 339.5 812 340.1 808.9 339.4 806.2 337.4zM822.8 341.6 825.5 337.3 828.2 345.1 825.1 344.2 822.4 339.5 819.7 343.9z"/>
<path fill="#d2e9f2" d="M666.2 314.3 668.9 316.4 671.6 319.7 668.5 321.8 665.8 315.4 663.1 315.6zM677 320.8 679.7 317.1 676.6 316 673.9 316.6zM706.7 321.1 709.4 326.8 712.1 319.5 709 319 706.3 326.1 703.6 320.6zM733.7 320.1 736.4 331.6 739.1 327 741.8 329.6 744.5 328.7 747.2 332.1 749.9 327.5 752.6 333.2 755.3 329.3 758 332.1 754.9 330.4 752.2 329.1 749.5 335.5 746.8 328.2 744.1 331.5 741.4 327.8 738.7 333 736 330.3 733.3 333.1 730.6 321.9zM774.2 334.2 776.9 338.2 773.8 339.7 771.1 336.4zM779.6 337.9 782.3 332.8 785 334.1 781.9 336.3 779.2 338.1 776.5 339.4zM812 340.1 814.7 341.2 817.4 345.1 814.3 346.6 811.6 341.3 808.9 339.4zM820.1 347.4 822.8 341.6 819.7 343.9 817 344.4zM830.9 351.3 833.6 340.9 836.3 345.8 833.2 348.6 830.5 341.9 827.8 348.2z"/>
<path fill="#c4e0ee" d="M671.6 319.7 674.3 322.3 677 320.8 673.9 316.6 671.2 322.1 668.5 321.8zM776.9 338.2 779.6 337.9 776.5 339.4 773.8 339.7zM817.4 345.1 820.1 347.4 817 344.4 814.3 346.6zM828.2 345.1 830.9 351.3 827.8 348.2 825.1 344.2zM836.3 345.8 839 347.3 841.7 349.4 838.6 353.1 835.9 350.1 833.2 348.6z"/>
<path fill="#e0f0f5" d="M685.1 311.7 687.8 310.3 690.5 314.6 693.2 313.2 695.9 313.2 692.8 313.1 690.1 312.5 687.4 316.9 684.7 309.7 682 316.9zM701.3 310.2 704 318.4 700.9 321.8 698.2 312.9zM712.1 319.5 714.8 317.2 717.5 314.3 720.2 318.5 722.9 312.4 719.8 314.9 717.1 318.4 714.4 313.9 711.7 315.2 709 319zM731 314.9 733.7 320.1 730.6 321.9 727.9 316.3zM795.8 331.9 798.5 331.3 801.2 327.5 798.1 329 795.4 332.4 792.7 332.2zM806.6 328.6 809.3 339.5 806.2 337.4 803.5 329.2z"/>
<path fill="#e3f2f4" d="M695.9 313.2 698.6 310 701.3 310.2 698.2 312.9 695.5 309.8 692.8 313.1zM722.9 312.4 725.6 315.8 728.3 314.5 731 314.9 727.9 316.3 725.2 315.2 722.5 317.5 719.8 314.9zM801.2 327.5 803.9 329.4 806.6 328.6 803.5 329.2 800.8 330.3 798.1 329z"/>
<path fill="#b6d8eb" d="M841.7 349.4 844.4 355.5 847.1 355.9 849.8 357.1 852.5 357.8 849.4 358.8 846.7 356.5 844 357.9 841.3 359 838.6 353.1z"/>
<path fill="#9bc7e3" d="M852.5 357.8 855.2 394 852.1 358.2 849.4 358.8z"/>
<path fill="#7eb0d9" d="M855.2 394 857.9 393.1 854.8 397.1 852.1 358.2z"/>
<path fill="#70a5d2" d="M857.9 393.1 860.6 386 857.5 392.2 854.8 397.1z"/>
<path fill="#75a8d5" d="M860.6 386 863.3 388.3 866 390.7 862.9 395 860.2 393.4 857.5 392.2z"/>
<path fill="#d9edf4" d="M660.4 312 663.1 315.6 665.8 315.4 662.7 314.1 660 315.7 657.3 311.8zM673.9 316.6 676.6 316 679.3 313.4 682 316.9 678.9 317.3 676.2 316.8 673.5 319.7 670.8 318.9zM700.9 321.8 703.6 320.6 700.5 323.5 697.8 322.6zM706.3 326.1 709 319 705.9 319.5 703.2 326.1zM730.6 321.9 733.3 333.1 730.2 332.5 727.5 323.8zM752.2 329.1 754.9 330.4 757.6 329 760.3 329 763 329.8 759.9 328.1 757.2 331.8 754.5 330.7 751.8 330.4 749.1 328.7zM768.4 329.8 771.1 336.4 768 336.3 765.3 328.4zM781.9 336.3 784.6 332.5 781.5 335.1 778.8 337zM806.2 337.4 808.9 339.4 811.6 341.3 808.5 341.3 805.8 340.3 803.1 339.8zM819.7 343.9 822.4 339.5 825.1 344.2 822 346.6 819.3 342.5 816.6 341.1z"/>
<path fill="#d2e9f2" d="M665.8 315.4 668.5 321.8 665.4 321.6 662.7 314.1zM671.2 322.1 673.9 316.6 670.8 318.9 668.1 323.1zM703.6 320.6 706.3 326.1 703.2 326.1 700.5 323.5zM733.3 333.1 736 330.3 738.7 333 741.4 327.8 744.1 331.5 746.8 328.2 749.5 335.5 752.2 329.1 749.1 328.7 746.4 338.6 743.7 332.7 741 332.6 738.3 332 735.6 332.6 732.9 330.5 730.2 332.5zM771.1 336.4 773.8 339.7 776.5 339.4 779.2 338.1 781.9 336.3 778.8 337 776.1 338.5 773.4 338.7 770.7 338 768 336.3zM811.6 341.3 814.3 346.6 817 344.4 819.7 343.9 816.6 341.1 813.9 346.3 811.2 346.8 808.5 341.3zM825.1 344.2 827.8 348.2 830.5 341.9 833.2 348.6 830.1 352 827.4 342.6 824.7 349.2 822 346.6z"/>
<path fill="#c4e0ee" d="M668.5 321.8 671.2 322.1 668.1 323.1 665.4 321.6zM833.2 348.6 835.9 350.1 838.6 353.1 835.5 353.8 832.8 350.1 830.1 352z"/>
<path fill="#e0f0f5" d="M682 316.9 684.7 309.7 687.4 316.9 690.1 312.5 687 313.1 684.3 314.4 681.6 316.2 678.9 317.3zM698.2 312.9 700.9 321.8 697.8 322.6 695.1 315.2zM709 319 711.7 315.2 714.4 313.9 711.3 318.1 708.6 320.5 705.9 319.5zM763 329.8 765.7 329 768.4 329.8 765.3 328.4 762.6 330.7 759.9 328.1zM784.6 332.5 787.3 332.7 790 336.9 792.7 332.2 795.4 332.4 798.1 329 795 331.7 792.3 332.1 789.6 332.4 786.9 331.7 784.2 332 781.5 335.1zM803.5 329.2 806.2 337.4 803.1 339.8 800.4 331.5z"/>
<path fill="#e3f2f4" d="M690.1 312.5 692.8 313.1 695.5 309.8 698.2 312.9 695.1 315.2 692.4 313.4 689.7 312.9 687 313.1zM714.4 313.9 717.1 318.4 719.8 314.9 722.5 317.5 725.2 315.2 727.9 316.3 730.6 321.9 727.5 323.8 724.8 314.8 722.1 316 719.4 316.8 716.7 314.6 714 317.3 711.3 318.1zM798.1 329 800.8 330.3 803.5 329.2 800.4 331.5 797.7 330.8 795 331.7z"/>
<path fill="#b6d8eb" d="M838.6 353.1 841.3 359 844 357.9 846.7 356.5 849.4 358.8 852.1 358.2 849 357.1 846.3 358.4 843.6 358.3 840.9 356.2 838.2 356.5 835.5 353.8z"/>
<path fill="#8ebee0" d="M852.1 358.2 854.8 397.1 851.7 400.1 849 357.1z"/>
<path fill="#70a5d2" d="M854.8 397.1 857.5 392.2 860.2 393.4 862.9 395 859.8 399.2 857.1 398.2 854.4 397.7 851.7 400.1z"/>
<path fill="#e0f0f5" d="M657.3 311.8 660 315.7 657 314.2 654.3 308.9zM678.9 317.3 681.6 316.2 684.3 314.4 687 313.1 684 314.1 681.3 317 678.6 315.7 675.9 316.2zM695.1 315.2 697.8 322.6 694.8 320.5 692.1 314.3zM705.9 319.5 708.6 320.5 711.3 318.1 708.3 317.5 705.6 319.8 702.9 321.7zM751.8 330.4 754.5 330.7 757.2 331.8 759.9 328.1 762.6 330.7 765.3 328.4 762.3 328.6 759.6 328.1 756.9 329.2 754.2 329.5 751.5 327.4 748.8 328.9zM781.5 335.1 784.2 332 786.9 331.7 783.9 330.7 781.2 332.6 778.5 335zM800.4 331.5 803.1 339.8 800.1 342.7 797.4 333.5zM816.6 341.1 819.3 342.5 816.3 338.9 813.6 339.8z"/>
<path fill="#d9edf4" d="M660 315.7 662.7 314.1 665.4 321.6 662.4 319.6 659.7 316 657 314.2zM670.8 318.9 673.5 319.7 676.2 316.8 678.9 317.3 675.9 316.2 673.2 318.2 670.5 318.4 667.8 318.4zM697.8 322.6 700.5 323.5 697.5 325 694.8 320.5zM703.2 326.1 705.9 319.5 702.9 321.7 700.2 326.8zM727.5 323.8 730.2 332.5 727.2 332.6 724.5 324.2zM738.3 332 741 332.6 738 331.2 735.3 328.7zM749.1 328.7 751.8 330.4 748.8 328.9 746.1 331.3zM765.3 328.4 768 336.3 765 335.1 762.3 328.6zM776.1 338.5 778.8 337 781.5 335.1 778.5 335 775.8 336.5 773.1 337.7zM803.1 339.8 805.8 340.3 808.5 341.3 805.5 340.8 802.8 341.7 800.1 342.7zM813.9 346.3 816.6 341.1 813.6 339.8 810.9 346.2zM819.3 342.5 822 346.6 819 345.8 816.3 338.9zM824.7 349.2 827.4 342.6 824.4 343.3 821.7 347.1z"/>
<path fill="#d2e9f2" d="M665.4 321.6 668.1 323.1 670.8 318.9 667.8 318.4 665.1 320.9 662.4 319.6zM700.5 323.5 703.2 326.1 700.2 326.8 697.5 325zM730.2 332.5 732.9 330.5 735.6 332.6 738.3 332 735.3 328.7 732.6 332.8 729.9 333.5 727.2 332.6zM741 332.6 743.7 332.7 746.4 338.6 749.1 328.7 746.1 331.3 743.4 336.1 740.7 332 738 331.2zM768 336.3 770.7 338 773.4 338.7 776.1 338.5 773.1 337.7 770.4 342.2 767.7 336.6 765 335.1zM808.5 341.3 811.2 346.8 813.9 346.3 810.9 346.2 808.2 346.7 805.5 340.8zM822 346.6 824.7 349.2 821.7 347.1 819 345.8zM827.4 342.6 830.1 352 832.8 350.1 829.8 350.4 827.1 349.4 824.4 343.3z"/>
<path fill="#e3f2f4" d="M687 313.1 689.7 312.9 692.4 313.4 695.1 315.2 692.1 314.3 689.4 313.3 686.7 313.8 684 314.1zM711.3 318.1 714 317.3 716.7 314.6 713.7 313.3 711 316.9 708.3 317.5zM719.4 316.8 722.1 316 719.1 315.3 716.4 317.1zM724.8 314.8 727.5 323.8 724.5 324.2 721.8 319zM786.9 331.7 789.6 332.4 792.3 332.1 795 331.7 797.7 330.8 800.4 331.5 797.4 333.5 794.7 332.4 792 331.2 789.3 333.6 786.6 329.1 783.9 330.7z"/>
<path fill="#e5f3f2" d="M716.7 314.6 719.4 316.8 716.4 317.1 713.7 313.3zM722.1 316 724.8 314.8 721.8 319 719.1 315.3z"/>
<path fill="#c4e0ee" d="M832.8 350.1 835.5 353.8 838.2 356.5 835.2 358.4 832.5 352.7 829.8 350.4zM840.9 356.2 843.6 358.3 846.3 358.4 849 357.1 846 357.1 843.3 357.2 840.6 353.3 837.9 358.6z"/>
<path fill="#b6d8eb" d="M838.2 356.5 840.9 356.2 837.9 358.6 835.2 358.4z"/>
<path fill="#a2cce5" d="M849 357.1 851.7 400.1 848.7 357.3 846 357.1z"/>
<path fill="#7eb0d9" d="M851.7 400.1 854.4 397.7 851.4 404.6 848.7 357.3z"/>
<path fill="#6aa0cf" d="M854.4 397.7 857.1 398.2 859.8 399.2 856.8 403.6 854.1 402.3 851.4 404.6z"/>
<path fill="#e3f2f4" d="M654.3 308.9 657 314.2 653.9 313.8 651.2 306zM681.3 317 684 314.1 686.7 313.8 689.4 313.3 692.1 314.3 689 315.5 686.3 313.4 683.6 314.6 680.9 311.9 678.2 316zM705.6 319.8 708.3 317.5 711 316.9 707.9 317.2 705.2 318.4 702.5 318.4zM721.8 319 724.5 324.2 721.4 324.8 718.7 315.1zM754.2 329.5 756.9 329.2 753.8 327.2 751.1 326.3zM759.6 328.1 762.3 328.6 759.2 329 756.5 330.7zM783.9 330.7 786.6 329.1 789.3 333.6 792 331.2 794.7 332.4 797.4 333.5 794.3 334.2 791.6 332.7 788.9 333.4 786.2 331.5 783.5 330 780.8 335.9z"/>
<path fill="#e0f0f5" d="M657 314.2 659.7 316 656.6 315.3 653.9 313.8zM673.2 318.2 675.9 316.2 678.6 315.7 681.3 317 678.2 316 675.5 316.8 672.8 319.5 670.1 318.4zM692.1 314.3 694.8 320.5 691.7 321.6 689 315.5zM702.9 321.7 705.6 319.8 702.5 318.4 699.8 320.5zM746.1 331.3 748.8 328.9 751.5 327.4 754.2 329.5 751.1 326.3 748.4 329.5 745.7 326 743 327.8zM756.9 329.2 759.6 328.1 756.5 330.7 753.8 327.2zM762.3 328.6 765 335.1 761.9 336.4 759.2 329zM775.8 336.5 778.5 335 781.2 332.6 783.9 330.7 780.8 335.9 778.1 333.9 775.4 335.4 772.7 334.8zM797.4 333.5 800.1 342.7 797 342.1 794.3 334.2zM813.6 339.8 816.3 338.9 819 345.8 815.9 345.6 813.2 338.9 810.5 345.1z"/>
<path fill="#d9edf4" d="M659.7 316 662.4 319.6 665.1 320.9 667.8 318.4 670.5 318.4 673.2 318.2 670.1 318.4 667.4 320.2 664.7 318.7 662 320.8 659.3 319.9 656.6 315.3zM694.8 320.5 697.5 325 700.2 326.8 702.9 321.7 699.8 320.5 697.1 327.5 694.4 324.6 691.7 321.6zM724.5 324.2 727.2 332.6 724.1 333.7 721.4 324.8zM732.6 332.8 735.3 328.7 738 331.2 740.7 332 743.4 336.1 746.1 331.3 743 327.8 740.3 336.4 737.6 330.4 734.9 331.6 732.2 329.8 729.5 331.9zM765 335.1 767.7 336.6 764.6 337.3 761.9 336.4zM773.1 337.7 775.8 336.5 772.7 334.8 770 338.6zM800.1 342.7 802.8 341.7 805.5 340.8 808.2 346.7 805.1 346.6 802.4 339.9 799.7 340.3 797 342.1zM810.9 346.2 813.6 339.8 810.5 345.1 807.8 344.5zM819 345.8 821.7 347.1 824.4 343.3 827.1 349.4 824 352.8 821.3 344.5 818.6 349.1 815.9 345.6z"/>
<path fill="#e5f3f2" d="M711 316.9 713.7 313.3 716.4 317.1 719.1 315.3 721.8 319 718.7 315.1 716 312.6 713.3 316.6 710.6 313.9 707.9 317.2z"/>
<path fill="#d2e9f2" d="M727.2 332.6 729.9 333.5 732.6 332.8 729.5 331.9 726.8 331.8 724.1 333.7zM767.7 336.6 770.4 342.2 773.1 337.7 770 338.6 767.3 338.7 764.6 337.3zM808.2 346.7 810.9 346.2 807.8 344.5 805.1 346.6zM827.1 349.4 829.8 350.4 832.5 352.7 829.4 352.3 826.7 352.2 824 352.8z"/>
<path fill="#c4e0ee" d="M832.5 352.7 835.2 358.4 832.1 362.1 829.4 352.3zM837.9 358.6 840.6 353.3 843.3 357.2 846 357.1 848.7 357.3 845.6 357 842.9 356.3 840.2 357.7 837.5 355.4 834.8 361z"/>
<path fill="#b6d8eb" d="M835.2 358.4 837.9 358.6 834.8 361 832.1 362.1z"/>
<path fill="#94c3e2" d="M848.7 357.3 851.4 404.6 848.3 401.6 845.6 357z"/>
<path fill="#6aa0cf" d="M851.4 404.6 854.1 402.3 856.8 403.6 853.7 405.8 851 404.1 848.3 401.6z"/>
<path fill="#e5f3f2" d="M651.2 306 653.9 313.8 650.8 309.9 648.1 303.1zM680.9 311.9 683.6 314.6 686.3 313.4 689 315.5 685.9 315.6 683.2 309.8 680.5 310.9 677.8 314.7zM699.8 320.5 702.5 318.4 705.2 318.4 707.9 317.2 704.8 314.9 702.1 312.2 699.4 312.5 696.7 315.4zM718.7 315.1 721.4 324.8 718.3 322.4 715.6 317.6zM783.5 330 786.2 331.5 783.1 332.3 780.4 330z"/>
<path fill="#e3f2f4" d="M653.9 313.8 656.6 315.3 653.5 308.6 650.8 309.9zM675.5 316.8 678.2 316 680.9 311.9 677.8 314.7 675.1 316.8 672.4 312.9zM689 315.5 691.7 321.6 688.6 318 685.9 315.6zM743 327.8 745.7 326 748.4 329.5 751.1 326.3 753.8 327.2 756.5 330.7 759.2 329 756.1 324.8 753.4 328.1 750.7 324.8 748 325.2 745.3 320.9 742.6 323.3 739.9 325.2zM775.4 335.4 778.1 333.9 780.8 335.9 783.5 330 780.4 330 777.7 331.6 775 333.4 772.3 330.4zM786.2 331.5 788.9 333.4 791.6 332.7 794.3 334.2 791.2 334.6 788.5 337.3 785.8 330.5 783.1 332.3zM799.7 340.3 802.4 339.9 799.3 333.3 796.6 337.8zM810.5 345.1 813.2 338.9 815.9 345.6 812.8 340.3 810.1 330.1 807.4 335.2z"/>
<path fill="#e0f0f5" d="M656.6 315.3 659.3 319.9 656.2 315.3 653.5 308.6zM664.7 318.7 667.4 320.2 670.1 318.4 672.8 319.5 675.5 316.8 672.4 312.9 669.7 316.7 667 315.4 664.3 313.7 661.6 314.7zM691.7 321.6 694.4 324.6 697.1 327.5 699.8 320.5 696.7 315.4 694 322.8 691.3 316.8 688.6 318zM721.4 324.8 724.1 333.7 721 326.2 718.3 322.4zM726.8 331.8 729.5 331.9 732.2 329.8 734.9 331.6 737.6 330.4 740.3 336.4 743 327.8 739.9 325.2 737.2 329.3 734.5 324.3 731.8 325.1 729.1 324.4 726.4 326.1 723.7 325.3zM759.2 329 761.9 336.4 758.8 337.9 756.1 324.8zM764.6 337.3 767.3 338.7 770 338.6 772.7 334.8 775.4 335.4 772.3 330.4 769.6 333.6 766.9 331.8 764.2 333.2 761.5 332zM794.3 334.2 797 342.1 799.7 340.3 796.6 337.8 793.9 338.8 791.2 334.6zM802.4 339.9 805.1 346.6 807.8 344.5 810.5 345.1 807.4 335.2 804.7 335.9 802 338.3 799.3 333.3zM815.9 345.6 818.6 349.1 821.3 344.5 824 352.8 820.9 346.1 818.2 334.6 815.5 339 812.8 340.3z"/>
<path fill="#d9edf4" d="M659.3 319.9 662 320.8 664.7 318.7 661.6 314.7 658.9 319.6 656.2 315.3zM724.1 333.7 726.8 331.8 723.7 325.3 721 326.2zM761.9 336.4 764.6 337.3 761.5 332 758.8 337.9zM824 352.8 826.7 352.2 829.4 352.3 826.3 345.7 823.6 345.5 820.9 346.1zM842.9 356.3 845.6 357 842.5 350.5 839.8 349.9z"/>
<path fill="#ebf3ea" d="M707.9 317.2 710.6 313.9 713.3 316.6 716 312.6 718.7 315.1 715.6 317.6 712.9 314.8 710.2 313.4 707.5 311.2 704.8 314.9z"/>
<path fill="#d2e9f2" d="M829.4 352.3 832.1 362.1 829 354.6 826.3 345.7zM834.8 361 837.5 355.4 840.2 357.7 842.9 356.3 839.8 349.9 837.1 354.9 834.4 351.3 831.7 350.6z"/>
<path fill="#c4e0ee" d="M832.1 362.1 834.8 361 831.7 350.6 829 354.6z"/>
<path fill="#b6d8eb" d="M845.6 357 848.3 401.6 845.2 348.1 842.5 350.5z"/>
<path fill="#86b7dc" d="M848.3 401.6 851 404.1 847.9 401 845.2 348.1z"/>
<path fill="#6aa0cf" d="M851 404.1 853.7 405.8 850.6 404.5 847.9 401z"/>
<path fill="#ebf3ea" d="M648.1 303.1 650.8 309.9 647.7 307.6 645 303.1zM680.5 310.9 683.2 309.8 680.1 312 677.4 312.6zM696.7 315.4 699.4 312.5 702.1 312.2 704.8 314.9 707.5 311.2 710.2 313.4 712.9 314.8 715.6 317.6 712.5 317.1 709.8 317 707.1 316.7 704.4 311.7 701.7 314.6 699 313.7 696.3 309.1 693.6 311.5zM739.9 325.2 742.6 323.3 745.3 320.9 748 325.2 744.9 320.4 742.2 321.3 739.5 319.3 736.8 318.1zM804.7 335.9 807.4 335.2 810.1 330.1 812.8 340.3 809.7 335 807 325.5 804.3 328.2 801.6 332.5z"/>
<path fill="#e5f3f2" d="M650.8 309.9 653.5 308.6 650.4 312.7 647.7 307.6zM672.4 312.9 675.1 316.8 672 314.7 669.3 311.9zM677.8 314.7 680.5 310.9 677.4 312.6 674.7 313.7zM683.2 309.8 685.9 315.6 688.6 318 691.3 316.8 694 322.8 696.7 315.4 693.6 311.5 690.9 318.5 688.2 311.8 685.5 317.9 682.8 312.7 680.1 312zM715.6 317.6 718.3 322.4 715.2 322.7 712.5 317.1zM726.4 326.1 729.1 324.4 731.8 325.1 734.5 324.3 737.2 329.3 739.9 325.2 736.8 318.1 734.1 323.2 731.4 320.2 728.7 322.1 726 320 723.3 322.8zM748 325.2 750.7 324.8 753.4 328.1 756.1 324.8 753 326.5 750.3 325.3 747.6 328.8 744.9 320.4zM777.7 331.6 780.4 330 783.1 332.3 785.8 330.5 782.7 333.3 780 330 777.3 329.9 774.6 333.9zM796.6 337.8 799.3 333.3 802 338.3 804.7 335.9 801.6 332.5 798.9 329.8 796.2 331.2 793.5 335.9zM812.8 340.3 815.5 339 818.2 334.6 820.9 346.1 817.8 337.8 815.1 332 812.4 338.3 809.7 335z"/>
<path fill="#e3f2f4" d="M653.5 308.6 656.2 315.3 653.1 314.7 650.4 312.7zM661.6 314.7 664.3 313.7 667 315.4 669.7 316.7 672.4 312.9 669.3 311.9 666.6 314.2 663.9 314.7 661.2 317.3 658.5 313.9zM675.1 316.8 677.8 314.7 674.7 313.7 672 314.7zM718.3 322.4 721 326.2 723.7 325.3 726.4 326.1 723.3 322.8 720.6 319.8 717.9 324.1 715.2 322.7zM756.1 324.8 758.8 337.9 761.5 332 764.2 333.2 766.9 331.8 769.6 333.6 772.3 330.4 775 333.4 777.7 331.6 774.6 333.9 771.9 331.6 769.2 332.1 766.5 332.4 763.8 328.6 761.1 333.4 758.4 329.8 755.7 333 753 326.5zM785.8 330.5 788.5 337.3 791.2 334.6 793.9 338.8 796.6 337.8 793.5 335.9 790.8 335.4 788.1 336.4 785.4 336.9 782.7 333.3zM820.9 346.1 823.6 345.5 826.3 345.7 823.2 339.1 820.5 341.7 817.8 337.8z"/>
<path fill="#e0f0f5" d="M656.2 315.3 658.9 319.6 661.6 314.7 658.5 313.9 655.8 319.2 653.1 314.7zM826.3 345.7 829 354.6 825.9 349.7 823.2 339.1zM837.1 354.9 839.8 349.9 842.5 350.5 845.2 348.1 842.1 345.2 839.4 347.6 836.7 346.3 834 347.2z"/>
<path fill="#d9edf4" d="M829 354.6 831.7 350.6 834.4 351.3 837.1 354.9 834 347.2 831.3 348.9 828.6 351 825.9 349.7z"/>
<path fill="#a2cce5" d="M845.2 348.1 847.9 401 844.8 401 842.1 345.2z"/>
<path fill="#70a5d2" d="M847.9 401 850.6 404.5 847.5 402.6 844.8 401z"/>
<path fill="#ebf3ea" d="M645 303.1 647.7 307.6 644.6 309.9 641.9 305.6zM677.4 312.6 680.1 312 682.8 312.7 679.7 312.5 677 312.5 674.3 313.2zM690.9 318.5 693.6 311.5 690.5 313.8 687.8 318.2zM699 313.7 701.7 314.6 704.4 311.7 707.1 316.7 709.8 317 712.5 317.1 709.4 318.8 706.7 312.3 704 315.3 701.3 315.9 698.6 315.2 695.9 312zM726 320 728.7 322.1 731.4 320.2 734.1 323.2 736.8 318.1 733.7 319.2 731 323.6 728.3 321.3 725.6 319.4 722.9 321zM739.5 319.3 742.2 321.3 744.9 320.4 747.6 328.8 744.5 325.7 741.8 321.5 739.1 321.7 736.4 319.3zM796.2 331.2 798.9 329.8 801.6 332.5 804.3 328.2 801.2 331.2 798.5 334.1 795.8 333.5 793.1 331.6zM807 325.5 809.7 335 806.6 341 803.9 329.9zM812.4 338.3 815.1 332 817.8 337.8 814.7 342.8 812 335.3 809.3 338.4z"/>
<path fill="#e5f3f2" d="M647.7 307.6 650.4 312.7 647.3 311.1 644.6 309.9zM666.6 314.2 669.3 311.9 672 314.7 674.7 313.7 677.4 312.6 674.3 313.2 671.6 312.4 668.9 315.7 666.2 313.9 663.5 318zM682.8 312.7 685.5 317.9 688.2 311.8 690.9 318.5 687.8 318.2 685.1 316.7 682.4 318.1 679.7 312.5zM712.5 317.1 715.2 322.7 712.1 326.2 709.4 318.8zM717.9 324.1 720.6 319.8 723.3 322.8 726 320 722.9 321 720.2 324.2 717.5 322.5 714.8 324.2zM747.6 328.8 750.3 325.3 753 326.5 755.7 333 752.6 332.9 749.9 327.6 747.2 327.1 744.5 325.7zM763.8 328.6 766.5 332.4 763.4 333.9 760.7 332.8zM777.3 329.9 780 330 782.7 333.3 779.6 334.8 776.9 332.8 774.2 334zM790.8 335.4 793.5 335.9 796.2 331.2 793.1 331.6 790.4 337 787.7 338.8zM809.7 335 812.4 338.3 809.3 338.4 806.6 341z"/>
<path fill="#e3f2f4" d="M650.4 312.7 653.1 314.7 650 317.3 647.3 311.1zM655.8 319.2 658.5 313.9 661.2 317.3 663.9 314.7 666.6 314.2 663.5 318 660.8 316.5 658.1 314.6 655.4 314.2 652.7 319.4zM715.2 322.7 717.9 324.1 714.8 324.2 712.1 326.2zM755.7 333 758.4 329.8 761.1 333.4 763.8 328.6 760.7 332.8 758 336.3 755.3 331.1 752.6 332.9zM766.5 332.4 769.2 332.1 771.9 331.6 774.6 333.9 777.3 329.9 774.2 334 771.5 338.8 768.8 335.6 766.1 333.4 763.4 333.9zM782.7 333.3 785.4 336.9 788.1 336.4 790.8 335.4 787.7 338.8 785 336.8 782.3 338.2 779.6 334.8zM817.8 337.8 820.5 341.7 823.2 339.1 825.9 349.7 822.8 350.7 820.1 344.5 817.4 345.1 814.7 342.8zM836.7 346.3 839.4 347.6 842.1 345.2 839 348.9 836.3 348.9 833.6 349.7z"/>
<path fill="#e0f0f5" d="M653.1 314.7 655.8 319.2 652.7 319.4 650 317.3zM828.6 351 831.3 348.9 834 347.2 836.7 346.3 833.6 349.7 830.9 352.2 828.2 351.4 825.5 352.3z"/>
<path fill="#f4f1d8" d="M693.6 311.5 696.3 309.1 699 313.7 695.9 312 693.2 310.7 690.5 313.8zM736.8 318.1 739.5 319.3 736.4 319.3 733.7 319.2zM804.3 328.2 807 325.5 803.9 329.9 801.2 331.2z"/>
<path fill="#d9edf4" d="M825.9 349.7 828.6 351 825.5 352.3 822.8 350.7z"/>
<path fill="#a2cce5" d="M842.1 345.2 844.8 401 841.7 402.1 839 348.9z"/>
<path fill="#70a5d2" d="M844.8 401 847.5 402.6 844.4 402.1 841.7 402.1z"/>
<path fill="#ebf3ea" d="M641.9 305.6 644.6 309.9 641.6 309.9 638.9 307.2zM671.6 312.4 674.3 313.2 677 312.5 679.7 312.5 676.7 314.5 674 311.7 671.3 316.3 668.6 314.8zM690.5 313.8 693.2 310.7 690.2 316 687.5 317.7zM701.3 315.9 704 315.3 701 321.3 698.3 314.4zM706.7 312.3 709.4 318.8 706.4 322.2 703.7 315.4zM722.9 321 725.6 319.4 728.3 321.3 731 323.6 733.7 319.2 730.7 322.3 728 326.3 725.3 322.7 722.6 322.7 719.9 323.3zM741.8 321.5 744.5 325.7 741.5 329.8 738.8 321.9zM793.1 331.6 795.8 333.5 798.5 334.1 801.2 331.2 798.2 331.4 795.5 336 792.8 335.3 790.1 336.2zM803.9 329.9 806.6 341 803.6 342.1 800.9 330.8zM809.3 338.4 812 335.3 809 334.7 806.3 342.6z"/>
<path fill="#e5f3f2" d="M644.6 309.9 647.3 311.1 650 317.3 647 314.6 644.3 309.7 641.6 309.9zM655.4 314.2 658.1 314.6 655.1 317.1 652.4 315.4zM663.5 318 666.2 313.9 668.9 315.7 671.6 312.4 668.6 314.8 665.9 320.3 663.2 312.7 660.5 319.9zM679.7 312.5 682.4 318.1 685.1 316.7 687.8 318.2 690.5 313.8 687.5 317.7 684.8 319.5 682.1 319.4 679.4 320.1 676.7 314.5zM709.4 318.8 712.1 326.2 709.1 325.6 706.4 322.2zM714.8 324.2 717.5 322.5 720.2 324.2 722.9 321 719.9 323.3 717.2 324.2 714.5 324.6 711.8 327.4zM744.5 325.7 747.2 327.1 749.9 327.6 752.6 332.9 749.6 334.1 746.9 328.9 744.2 329.8 741.5 329.8zM774.2 334 776.9 332.8 779.6 334.8 782.3 338.2 779.3 340.2 776.6 333.6 773.9 336.7 771.2 335.3zM790.4 337 793.1 331.6 790.1 336.2 787.4 341.1zM806.6 341 809.3 338.4 806.3 342.6 803.6 342.1zM812 335.3 814.7 342.8 811.7 344.8 809 334.7z"/>
<path fill="#e3f2f4" d="M650 317.3 652.7 319.4 655.4 314.2 652.4 315.4 649.7 320.6 647 314.6zM658.1 314.6 660.8 316.5 663.5 318 660.5 319.9 657.8 319.5 655.1 317.1zM712.1 326.2 714.8 324.2 711.8 327.4 709.1 325.6zM752.6 332.9 755.3 331.1 758 336.3 760.7 332.8 763.4 333.9 766.1 333.4 768.8 335.6 771.5 338.8 774.2 334 771.2 335.3 768.5 339.2 765.8 334.7 763.1 336.7 760.4 336.2 757.7 333 755 336.6 752.3 334.4 749.6 334.1zM782.3 338.2 785 336.8 787.7 338.8 790.4 337 787.4 341.1 784.7 342.4 782 340.8 779.3 340.2zM814.7 342.8 817.4 345.1 820.1 344.5 822.8 350.7 819.8 350.4 817.1 344.9 814.4 344.3 811.7 344.8zM833.6 349.7 836.3 348.9 839 348.9 836 351.2 833.3 350.7 830.6 351z"/>
<path fill="#f4f1d8" d="M693.2 310.7 695.9 312 698.6 315.2 701.3 315.9 698.3 314.4 695.6 313.3 692.9 315 690.2 316zM704 315.3 706.7 312.3 703.7 315.4 701 321.3zM733.7 319.2 736.4 319.3 739.1 321.7 741.8 321.5 738.8 321.9 736.1 323 733.4 321.6 730.7 322.3zM801.2 331.2 803.9 329.9 800.9 330.8 798.2 331.4z"/>
<path fill="#e0f0f5" d="M822.8 350.7 825.5 352.3 822.5 354.1 819.8 350.4zM828.2 351.4 830.9 352.2 833.6 349.7 830.6 351 827.9 353 825.2 355.6z"/>
<path fill="#d9edf4" d="M825.5 352.3 828.2 351.4 825.2 355.6 822.5 354.1z"/>
<path fill="#c4e0ee" d="M839 348.9 841.7 402.1 838.7 350.6 836 351.2z"/>
<path fill="#8ebee0" d="M841.7 402.1 844.4 402.1 841.4 399.5 838.7 350.6z"/>
<path fill="#ebf3ea" d="M638.9 307.2 641.6 309.9 644.3 309.7 641.2 311.8 638.5 311.9 635.8 309.1zM671.3 316.3 674 311.7 676.7 314.5 673.6 317.9 670.9 315.5 668.2 316.4zM687.5 317.7 690.2 316 687.1 315.4 684.4 317.6zM698.3 314.4 701 321.3 703.7 315.4 706.4 322.2 703.3 320.8 700.6 318.8 697.9 318.9 695.2 319.8zM717.2 324.2 719.9 323.3 722.6 322.7 725.3 322.7 728 326.3 730.7 322.3 727.6 322.8 724.9 327.7 722.2 322.6 719.5 321.8 716.8 322.4 714.1 324.9zM738.8 321.9 741.5 329.8 738.4 331.4 735.7 326.1zM790.1 336.2 792.8 335.3 795.5 336 798.2 331.4 795.1 336 792.4 335.8 789.7 337.9 787 334.4zM800.9 330.8 803.6 342.1 800.5 341.9 797.8 335.4z"/>
<path fill="#e5f3f2" d="M644.3 309.7 647 314.6 643.9 316.1 641.2 311.8zM652.4 315.4 655.1 317.1 652 316.7 649.3 316zM660.5 319.9 663.2 312.7 665.9 320.3 668.6 314.8 671.3 316.3 668.2 316.4 665.5 317.1 662.8 320.4 660.1 317.7 657.4 319.6zM676.7 314.5 679.4 320.1 682.1 319.4 684.8 319.5 687.5 317.7 684.4 317.6 681.7 322.6 679 318.5 676.3 319.7 673.6 317.9zM706.4 322.2 709.1 325.6 711.8 327.4 714.5 324.6 717.2 324.2 714.1 324.9 711.4 326.6 708.7 327 706 325.6 703.3 320.8zM741.5 329.8 744.2 329.8 746.9 328.9 749.6 334.1 746.5 337.3 743.8 329.1 741.1 329.6 738.4 331.4zM771.2 335.3 773.9 336.7 776.6 333.6 773.5 338.2 770.8 338.3 768.1 336zM787.4 341.1 790.1 336.2 787 334.4 784.3 338.7zM803.6 342.1 806.3 342.6 809 334.7 811.7 344.8 808.6 344.1 805.9 339.3 803.2 344.3 800.5 341.9zM814.4 344.3 817.1 344.9 814 343.9 811.3 346.2z"/>
<path fill="#e3f2f4" d="M647 314.6 649.7 320.6 652.4 315.4 649.3 316 646.6 322.1 643.9 316.1zM655.1 317.1 657.8 319.5 660.5 319.9 657.4 319.6 654.7 317.6 652 316.7zM749.6 334.1 752.3 334.4 755 336.6 757.7 333 760.4 336.2 763.1 336.7 765.8 334.7 768.5 339.2 771.2 335.3 768.1 336 765.4 341.5 762.7 338.1 760 337.3 757.3 338.9 754.6 337.9 751.9 337.2 749.2 334.4 746.5 337.3zM776.6 333.6 779.3 340.2 782 340.8 784.7 342.4 787.4 341.1 784.3 338.7 781.6 344.3 778.9 337.6 776.2 343.2 773.5 338.2zM811.7 344.8 814.4 344.3 811.3 346.2 808.6 344.1zM817.1 344.9 819.8 350.4 816.7 353.2 814 343.9zM836 351.2 838.7 350.6 835.6 353 832.9 355.2z"/>
<path fill="#f4f1d8" d="M690.2 316 692.9 315 695.6 313.3 698.3 314.4 695.2 319.8 692.5 317.8 689.8 315.8 687.1 315.4zM730.7 322.3 733.4 321.6 736.1 323 738.8 321.9 735.7 326.1 733 323.6 730.3 324.2 727.6 322.8zM798.2 331.4 800.9 330.8 797.8 335.4 795.1 336z"/>
<path fill="#e0f0f5" d="M819.8 350.4 822.5 354.1 819.4 354.7 816.7 353.2zM827.9 353 830.6 351 833.3 350.7 836 351.2 832.9 355.2 830.2 354.4 827.5 353.1 824.8 355.1z"/>
<path fill="#d9edf4" d="M822.5 354.1 825.2 355.6 827.9 353 824.8 355.1 822.1 356.2 819.4 354.7z"/>
<path fill="#acd2e8" d="M838.7 350.6 841.4 399.5 838.3 398.4 835.6 353z"/>
<path fill="#ebf3ea" d="M635.8 309.1 638.5 311.9 641.2 311.8 638.1 313.8 635.4 311.6 632.7 310.6zM668.2 316.4 670.9 315.5 673.6 317.9 670.5 319.4 667.8 316.3 665.1 319.6zM681.7 322.6 684.4 317.6 681.3 316.8 678.6 322.3zM697.9 318.9 700.6 318.8 703.3 320.8 700.2 323 697.5 320.4 694.8 319.8zM714.1 324.9 716.8 322.4 719.5 321.8 722.2 322.6 724.9 327.7 727.6 322.8 730.3 324.2 733 323.6 735.7 326.1 738.4 331.4 735.3 330.3 732.6 325.6 729.9 327.1 727.2 324.5 724.5 326.4 721.8 330.6 719.1 327 716.4 324.6 713.7 324.9 711 327.3zM741.1 329.6 743.8 329.1 740.7 329.9 738 331.3zM787 334.4 789.7 337.9 792.4 335.8 795.1 336 792 334.7 789.3 339.5 786.6 339.9 783.9 339zM797.8 335.4 800.5 341.9 797.4 341.8 794.7 334.3zM803.2 344.3 805.9 339.3 808.6 344.1 805.5 344.1 802.8 338.6 800.1 342.8z"/>
<path fill="#e5f3f2" d="M641.2 311.8 643.9 316.1 640.8 318 638.1 313.8zM649.3 316 652 316.7 654.7 317.6 657.4 319.6 660.1 317.7 662.8 320.4 665.5 317.1 668.2 316.4 665.1 319.6 662.4 317.7 659.7 319.1 657 315.9 654.3 321.6 651.6 319.6 648.9 318.6 646.2 318.1zM673.6 317.9 676.3 319.7 679 318.5 681.7 322.6 678.6 322.3 675.9 322 673.2 321.5 670.5 319.4zM703.3 320.8 706 325.6 708.7 327 711.4 326.6 714.1 324.9 711 327.3 708.3 328.9 705.6 326.9 702.9 328.4 700.2 323zM738.4 331.4 741.1 329.6 738 331.3 735.3 330.3zM743.8 329.1 746.5 337.3 743.4 333.3 740.7 329.9zM768.1 336 770.8 338.3 773.5 338.2 770.4 339.5 767.7 340.8 765 338.9zM784.3 338.7 787 334.4 783.9 339 781.2 340.9zM800.5 341.9 803.2 344.3 800.1 342.8 797.4 341.8zM808.6 344.1 811.3 346.2 814 343.9 810.9 345.1 808.2 345.3 805.5 344.1z"/>
<path fill="#e3f2f4" d="M643.9 316.1 646.6 322.1 649.3 316 646.2 318.1 643.5 326 640.8 318zM746.5 337.3 749.2 334.4 751.9 337.2 754.6 337.9 757.3 338.9 760 337.3 762.7 338.1 765.4 341.5 768.1 336 765 338.9 762.3 340.9 759.6 340.6 756.9 341.3 754.2 341.3 751.5 340.1 748.8 340.3 746.1 340.3 743.4 333.3zM773.5 338.2 776.2 343.2 778.9 337.6 781.6 344.3 784.3 338.7 781.2 340.9 778.5 344.9 775.8 340.8 773.1 344.7 770.4 339.5zM814 343.9 816.7 353.2 813.6 353.4 810.9 345.1z"/>
<path fill="#f4f1d8" d="M684.4 317.6 687.1 315.4 689.8 315.8 692.5 317.8 695.2 319.8 697.9 318.9 694.8 319.8 692.1 315.5 689.4 318.1 686.7 319.3 684 315.2 681.3 316.8zM795.1 336 797.8 335.4 794.7 334.3 792 334.7z"/>
<path fill="#e0f0f5" d="M816.7 353.2 819.4 354.7 822.1 356.2 819 357.8 816.3 355.3 813.6 353.4zM824.8 355.1 827.5 353.1 830.2 354.4 832.9 355.2 835.6 353 832.5 356.1 829.8 360.4 827.1 359.5 824.4 355.2 821.7 357.2z"/>
<path fill="#d9edf4" d="M822.1 356.2 824.8 355.1 821.7 357.2 819 357.8z"/>
<path fill="#b6d8eb" d="M835.6 353 838.3 398.4 835.2 385.3 832.5 356.1z"/>
<path fill="#ebf3ea" d="M632.7 310.6 635.4 311.6 638.1 313.8 635 315.6 632.3 312.6 629.6 310.7zM659.7 319.1 662.4 317.7 665.1 319.6 667.8 316.3 670.5 319.4 667.4 319.4 664.7 318.6 662 318.4 659.3 317.1 656.6 319.1zM678.6 322.3 681.3 316.8 678.2 315.5 675.5 323.4zM694.8 319.8 697.5 320.4 700.2 323 697.1 325.6 694.4 321.8 691.7 321.9zM711 327.3 713.7 324.9 716.4 324.6 719.1 327 716 328.5 713.3 328.2 710.6 324.8 707.9 329.7zM721.8 330.6 724.5 326.4 727.2 324.5 729.9 327.1 732.6 325.6 729.5 331.8 726.8 328.5 724.1 328.9 721.4 325.6 718.7 331.8zM738 331.3 740.7 329.9 737.6 331.9 734.9 330.6zM783.9 339 786.6 339.9 789.3 339.5 792 334.7 788.9 339.6 786.2 338.5 783.5 340.4 780.8 338.4zM794.7 334.3 797.4 341.8 794.3 342.4 791.6 337.3zM800.1 342.8 802.8 338.6 805.5 344.1 802.4 346.9 799.7 337.7 797 344.4z"/>
<path fill="#e5f3f2" d="M638.1 313.8 640.8 318 637.7 319.4 635 315.6zM646.2 318.1 648.9 318.6 651.6 319.6 654.3 321.6 657 315.9 659.7 319.1 656.6 319.1 653.9 320.6 651.2 319.4 648.5 322.3 645.8 320.8 643.1 320.7zM670.5 319.4 673.2 321.5 675.9 322 678.6 322.3 675.5 323.4 672.8 320.1 670.1 325.2 667.4 319.4zM700.2 323 702.9 328.4 705.6 326.9 708.3 328.9 711 327.3 707.9 329.7 705.2 326.9 702.5 329.5 699.8 331.5 697.1 325.6zM719.1 327 721.8 330.6 718.7 331.8 716 328.5zM732.6 325.6 735.3 330.3 738 331.3 734.9 330.6 732.2 337.9 729.5 331.8zM740.7 329.9 743.4 333.3 746.1 340.3 743 337.2 740.3 337.6 737.6 331.9zM765 338.9 767.7 340.8 770.4 339.5 767.3 339.9 764.6 342.5 761.9 340.2zM781.2 340.9 783.9 339 780.8 338.4 778.1 345.2zM797.4 341.8 800.1 342.8 797 344.4 794.3 342.4zM805.5 344.1 808.2 345.3 810.9 345.1 807.8 348.1 805.1 346.3 802.4 346.9z"/>
<path fill="#e3f2f4" d="M640.8 318 643.5 326 646.2 318.1 643.1 320.7 640.4 325.1 637.7 319.4zM746.1 340.3 748.8 340.3 751.5 340.1 754.2 341.3 756.9 341.3 759.6 340.6 762.3 340.9 765 338.9 761.9 340.2 759.2 345.3 756.5 342.6 753.8 339.9 751.1 341.5 748.4 339.7 745.7 340.6 743 337.2zM770.4 339.5 773.1 344.7 775.8 340.8 778.5 344.9 781.2 340.9 778.1 345.2 775.4 346.7 772.7 345.1 770 343.7 767.3 339.9zM810.9 345.1 813.6 353.4 810.5 354.2 807.8 348.1z"/>
<path fill="#f4f1d8" d="M681.3 316.8 684 315.2 686.7 319.3 689.4 318.1 692.1 315.5 694.8 319.8 691.7 321.9 689 317.1 686.3 319.2 683.6 315.9 680.9 316.4 678.2 315.5zM792 334.7 794.7 334.3 791.6 337.3 788.9 339.6z"/>
<path fill="#e0f0f5" d="M813.6 353.4 816.3 355.3 819 357.8 821.7 357.2 824.4 355.2 827.1 359.5 824 362.3 821.3 358 818.6 358.6 815.9 353.5 813.2 357.1 810.5 354.2zM829.8 360.4 832.5 356.1 829.4 358 826.7 363.8z"/>
<path fill="#d9edf4" d="M827.1 359.5 829.8 360.4 826.7 363.8 824 362.3z"/>
<path fill="#c4e0ee" d="M832.5 356.1 835.2 385.3 832.1 375.8 829.4 358z"/>
<path fill="#ebf3ea" d="M629.6 310.7 632.3 312.6 635 315.6 631.9 316.6 629.2 314.7 626.6 312.6zM656.6 319.1 659.3 317.1 662 318.4 664.7 318.6 667.4 319.4 670.1 325.2 667 323.5 664.3 319 661.6 319.9 658.9 319.7 656.2 318.3 653.5 322.1zM672.8 320.1 675.5 323.4 672.4 322.9 669.7 322.8zM694.4 321.8 697.1 325.6 694 326.9 691.3 323.3zM707.9 329.7 710.6 324.8 713.3 328.2 716 328.5 718.7 331.8 721.4 325.6 724.1 328.9 726.8 328.5 729.5 331.8 726.4 336 723.7 330.6 721 330.9 718.3 326.9 715.6 333.7 712.9 327.7 710.2 328 707.5 326 704.8 328.6zM734.9 330.6 737.6 331.9 734.5 334.9 731.8 333.6zM780.8 338.4 783.5 340.4 786.2 338.5 783.1 336.3 780.4 341 777.7 339.3zM791.6 337.3 794.3 342.4 791.2 344.8 788.5 338.3zM797 344.4 799.7 337.7 802.4 346.9 799.3 347.3 796.6 337.6 793.9 344.8z"/>
<path fill="#e5f3f2" d="M635 315.6 637.7 319.4 634.6 321 631.9 316.6zM643.1 320.7 645.8 320.8 648.5 322.3 651.2 319.4 653.9 320.6 656.6 319.1 653.5 322.1 650.8 319.5 648.1 321 645.4 318.7 642.7 322.4 640 318.5zM670.1 325.2 672.8 320.1 669.7 322.8 667 323.5zM697.1 325.6 699.8 331.5 702.5 329.5 705.2 326.9 707.9 329.7 704.8 328.6 702.1 332.4 699.4 331.6 696.7 330.2 694 326.9zM729.5 331.8 732.2 337.9 734.9 330.6 731.8 333.6 729.1 337 726.4 336zM737.6 331.9 740.3 337.6 743 337.2 739.9 339.9 737.2 339.3 734.5 334.9zM761.9 340.2 764.6 342.5 767.3 339.9 770 343.7 766.9 345.5 764.2 341.9 761.5 343.3 758.8 342.5zM778.1 345.2 780.8 338.4 777.7 339.3 775 346.4zM794.3 342.4 797 344.4 793.9 344.8 791.2 344.8zM802.4 346.9 805.1 346.3 807.8 348.1 804.7 345.7 802 345.9 799.3 347.3z"/>
<path fill="#e3f2f4" d="M637.7 319.4 640.4 325.1 643.1 320.7 640 318.5 637.3 324 634.6 321zM743 337.2 745.7 340.6 748.4 339.7 751.1 341.5 753.8 339.9 756.5 342.6 759.2 345.3 761.9 340.2 758.8 342.5 756.1 348.1 753.4 345.3 750.7 343.4 748 341.7 745.3 342.9 742.6 341.4 739.9 339.9zM770 343.7 772.7 345.1 775.4 346.7 778.1 345.2 775 346.4 772.3 346.3 769.6 344.6 766.9 345.5zM807.8 348.1 810.5 354.2 807.4 353.4 804.7 345.7z"/>
<path fill="#f4f1d8" d="M675.5 323.4 678.2 315.5 680.9 316.4 677.8 317.3 675.1 315.8 672.4 322.9zM683.6 315.9 686.3 319.2 689 317.1 691.7 321.9 694.4 321.8 691.3 323.3 688.6 322.3 685.9 318 683.2 319.9 680.5 316.7zM786.2 338.5 788.9 339.6 791.6 337.3 788.5 338.3 785.8 335.4 783.1 336.3z"/>
<path fill="#f8ebc4" d="M680.9 316.4 683.6 315.9 680.5 316.7 677.8 317.3z"/>
<path fill="#e0f0f5" d="M810.5 354.2 813.2 357.1 815.9 353.5 818.6 358.6 821.3 358 818.2 360 815.5 362.1 812.8 356.6 810.1 355.4 807.4 353.4z"/>
<path fill="#d9edf4" d="M821.3 358 824 362.3 826.7 363.8 829.4 358 826.3 360.5 823.6 364.9 820.9 363.5 818.2 360z"/>
<path fill="#d2e9f2" d="M829.4 358 832.1 375.8 829 376.6 826.3 360.5z"/>
<path fill="#ebf3ea" d="M626.6 312.6 629.2 314.7 631.9 316.6 628.9 316.8 626.2 315.2 623.5 312.9zM645.4 318.7 648.1 321 650.8 319.5 647.8 321 645.1 320.6 642.4 320.6zM653.5 322.1 656.2 318.3 658.9 319.7 661.6 319.9 664.3 319 667 323.5 669.7 322.8 672.4 322.9 669.4 323.5 666.7 322.3 664 323.4 661.3 320.9 658.6 320.4 655.9 321.6 653.2 320.2 650.5 323.6zM691.3 323.3 694 326.9 691 329.5 688.3 325zM704.8 328.6 707.5 326 710.2 328 712.9 327.7 709.9 332.4 707.2 328.7 704.5 328.2 701.8 332.2zM715.6 333.7 718.3 326.9 721 330.9 723.7 330.6 726.4 336 723.4 333.5 720.7 333.7 718 334.5 715.3 334.1 712.6 335.1zM777.7 339.3 780.4 341 783.1 336.3 780.1 341.9 777.4 340.9 774.7 340.9zM788.5 338.3 791.2 344.8 793.9 344.8 790.9 345.8 788.2 345.4 785.5 337.4zM799.3 347.3 802 345.9 804.7 345.7 801.7 344.3 799 344.7 796.3 346.6z"/>
<path fill="#e5f3f2" d="M631.9 316.6 634.6 321 631.6 323.2 628.9 316.8zM637.3 324 640 318.5 642.7 322.4 645.4 318.7 642.4 320.6 639.7 319.9 637 323.2 634.3 326.4zM650.8 319.5 653.5 322.1 650.5 323.6 647.8 321zM694 326.9 696.7 330.2 699.4 331.6 702.1 332.4 704.8 328.6 701.8 332.2 699.1 331.8 696.4 332.7 693.7 332.2 691 329.5zM712.9 327.7 715.6 333.7 712.6 335.1 709.9 332.4zM726.4 336 729.1 337 731.8 333.6 734.5 334.9 737.2 339.3 739.9 339.9 736.9 340.1 734.2 340.8 731.5 336.3 728.8 338.1 726.1 337 723.4 333.5zM758.8 342.5 761.5 343.3 764.2 341.9 766.9 345.5 763.9 346.8 761.2 343.4 758.5 344.7 755.8 343.9zM772.3 346.3 775 346.4 777.7 339.3 774.7 340.9 772 345.4 769.3 347zM804.7 345.7 807.4 353.4 804.4 354 801.7 344.3z"/>
<path fill="#e3f2f4" d="M634.6 321 637.3 324 634.3 326.4 631.6 323.2zM739.9 339.9 742.6 341.4 745.3 342.9 748 341.7 750.7 343.4 753.4 345.3 756.1 348.1 758.8 342.5 755.8 343.9 753.1 349.1 750.4 344.3 747.7 344.3 745 342.1 742.3 340.9 739.6 343.8 736.9 340.1zM766.9 345.5 769.6 344.6 772.3 346.3 769.3 347 766.6 346.5 763.9 346.8zM807.4 353.4 810.1 355.4 807.1 357.3 804.4 354z"/>
<path fill="#f4f1d8" d="M672.4 322.9 675.1 315.8 672.1 318.3 669.4 323.5zM683.2 319.9 685.9 318 688.6 322.3 691.3 323.3 688.3 325 685.6 324.5 682.9 320 680.2 320.1zM783.1 336.3 785.8 335.4 788.5 338.3 785.5 337.4 782.8 337.2 780.1 341.9zM793.9 344.8 796.6 337.6 799.3 347.3 796.3 346.6 793.6 337.4 790.9 345.8z"/>
<path fill="#f8ebc4" d="M675.1 315.8 677.8 317.3 680.5 316.7 683.2 319.9 680.2 320.1 677.5 316.4 674.8 317.8 672.1 318.3z"/>
<path fill="#e0f0f5" d="M810.1 355.4 812.8 356.6 815.5 362.1 812.5 363.3 809.8 359.8 807.1 357.3z"/>
<path fill="#d9edf4" d="M815.5 362.1 818.2 360 820.9 363.5 823.6 364.9 826.3 360.5 823.3 362.1 820.6 366.6 817.9 363.3 815.2 363.4 812.5 363.3z"/>
<path fill="#d2e9f2" d="M826.3 360.5 829 376.6 826 377.1 823.3 362.1z"/>
<path fill="#ebf3ea" d="M623.5 312.9 626.2 315.2 628.9 316.8 625.8 319.6 623.1 316.6 620.4 315.1zM639.7 319.9 642.4 320.6 645.1 320.6 647.8 321 650.5 323.6 653.2 320.2 655.9 321.6 652.8 322.3 650.1 319.5 647.4 325.2 644.7 320.7 642 323.6 639.3 322.1 636.6 323.6zM661.3 320.9 664 323.4 666.7 322.3 669.4 323.5 666.3 324.2 663.6 323.3 660.9 326.6 658.2 320.9zM688.3 325 691 329.5 687.9 330.2 685.2 328.1zM701.8 332.2 704.5 328.2 707.2 328.7 709.9 332.4 706.8 332.4 704.1 332.4 701.4 331.1 698.7 332zM715.3 334.1 718 334.5 720.7 333.7 717.6 336.2 714.9 335.6 712.2 333.3zM728.8 338.1 731.5 336.3 728.4 336.1 725.7 337.1zM772 345.4 774.7 340.9 777.4 340.9 780.1 341.9 777 341.3 774.3 343.7 771.6 341.1 768.9 348.1zM788.2 345.4 790.9 345.8 787.8 347.3 785.1 345.4zM796.3 346.6 799 344.7 801.7 344.3 804.4 354 801.3 352.9 798.6 346.6 795.9 346.6 793.2 346z"/>
<path fill="#e5f3f2" d="M628.9 316.8 631.6 323.2 628.5 322.8 625.8 319.6zM637 323.2 639.7 319.9 636.6 323.6 633.9 323.6zM691 329.5 693.7 332.2 696.4 332.7 699.1 331.8 701.8 332.2 698.7 332 696 334 693.3 336.6 690.6 333.1 687.9 330.2zM709.9 332.4 712.6 335.1 715.3 334.1 712.2 333.3 709.5 337.3 706.8 332.4zM720.7 333.7 723.4 333.5 726.1 337 728.8 338.1 725.7 337.1 723 344.3 720.3 339.3 717.6 336.2zM731.5 336.3 734.2 340.8 731.1 345 728.4 336.1zM742.3 340.9 745 342.1 747.7 344.3 750.4 344.3 747.3 342 744.6 343.6 741.9 344.9 739.2 344.8zM755.8 343.9 758.5 344.7 761.2 343.4 758.1 345.8 755.4 345.4 752.7 344.2zM769.3 347 772 345.4 768.9 348.1 766.2 349.9z"/>
<path fill="#e3f2f4" d="M631.6 323.2 634.3 326.4 637 323.2 633.9 323.6 631.2 327 628.5 322.8zM734.2 340.8 736.9 340.1 739.6 343.8 742.3 340.9 739.2 344.8 736.5 343.1 733.8 343.2 731.1 345zM750.4 344.3 753.1 349.1 755.8 343.9 752.7 344.2 750 350.5 747.3 342zM761.2 343.4 763.9 346.8 766.6 346.5 769.3 347 766.2 349.9 763.5 346.4 760.8 350.6 758.1 345.8zM804.4 354 807.1 357.3 804 358 801.3 352.9z"/>
<path fill="#f4f1d8" d="M655.9 321.6 658.6 320.4 661.3 320.9 658.2 320.9 655.5 317.2 652.8 322.3zM669.4 323.5 672.1 318.3 669 319.6 666.3 324.2zM682.9 320 685.6 324.5 688.3 325 685.2 328.1 682.5 324.2 679.8 318.2zM780.1 341.9 782.8 337.2 785.5 337.4 788.2 345.4 785.1 345.4 782.4 339.5 779.7 339.5 777 341.3zM790.9 345.8 793.6 337.4 796.3 346.6 793.2 346 790.5 339.2 787.8 347.3z"/>
<path fill="#f8ebc4" d="M672.1 318.3 674.8 317.8 677.5 316.4 680.2 320.1 682.9 320 679.8 318.2 677.1 320.6 674.4 320.7 671.7 318.6 669 319.6z"/>
<path fill="#e0f0f5" d="M807.1 357.3 809.8 359.8 812.5 363.3 815.2 363.4 812.1 361.9 809.4 360.3 806.7 358.6 804 358z"/>
<path fill="#d9edf4" d="M815.2 363.4 817.9 363.3 820.6 366.6 823.3 362.1 820.2 363.3 817.5 371.9 814.8 367 812.1 361.9z"/>
<path fill="#d2e9f2" d="M823.3 362.1 826 377.1 822.9 378.5 820.2 363.3z"/>
<path fill="#ebf3ea" d="M620.4 315.1 623.1 316.6 625.8 319.6 628.5 322.8 625.4 325.2 622.7 316.7 620 317.5 617.3 316.8zM639.3 322.1 642 323.6 644.7 320.7 647.4 325.2 650.1 319.5 652.8 322.3 649.7 323.1 647 325.2 644.3 327.2 641.6 324.4 638.9 323.3 636.2 323.4zM658.2 320.9 660.9 326.6 663.6 323.3 666.3 324.2 663.2 324.9 660.5 323.7 657.8 326.3 655.1 324.1zM685.2 328.1 687.9 330.2 684.8 330 682.1 326.3zM698.7 332 701.4 331.1 704.1 332.4 706.8 332.4 709.5 337.3 706.4 338.9 703.7 330.3 701 331.3 698.3 330 695.6 336.9zM712.2 333.3 714.9 335.6 711.8 338.6 709.1 336.7zM768.9 348.1 771.6 341.1 774.3 343.7 777 341.3 773.9 345.3 771.2 344.6 768.5 343.8 765.8 348.6zM785.1 345.4 787.8 347.3 784.7 347.7 782 347.2zM795.9 346.6 798.6 346.6 801.3 352.9 798.2 354.5 795.5 347.7 792.8 345.8z"/>
<path fill="#e5f3f2" d="M628.5 322.8 631.2 327 628.1 328.1 625.4 325.2zM633.9 323.6 636.6 323.6 639.3 322.1 636.2 323.4 633.5 326.2 630.8 327.1zM687.9 330.2 690.6 333.1 693.3 336.6 696 334 698.7 332 695.6 336.9 692.9 337.2 690.2 337.5 687.5 337.4 684.8 330zM709.5 337.3 712.2 333.3 709.1 336.7 706.4 338.9zM714.9 335.6 717.6 336.2 720.3 339.3 717.2 339 714.5 337.4 711.8 338.6zM723 344.3 725.7 337.1 728.4 336.1 731.1 345 728 344.7 725.3 340.8 722.6 341.3 719.9 344zM733.8 343.2 736.5 343.1 739.2 344.8 741.9 344.9 744.6 343.6 747.3 342 744.2 344.4 741.5 347.2 738.8 343.2 736.1 343.2 733.4 345.6 730.7 342.8zM752.7 344.2 755.4 345.4 758.1 345.8 760.8 350.6 757.7 350.6 755 344.3 752.3 346.1 749.6 345.4zM763.5 346.4 766.2 349.9 768.9 348.1 765.8 348.6 763.1 349.6 760.4 349.5z"/>
<path fill="#e3f2f4" d="M631.2 327 633.9 323.6 630.8 327.1 628.1 328.1zM720.3 339.3 723 344.3 719.9 344 717.2 339zM731.1 345 733.8 343.2 730.7 342.8 728 344.7zM747.3 342 750 350.5 752.7 344.2 749.6 345.4 746.9 348.6 744.2 344.4zM760.8 350.6 763.5 346.4 760.4 349.5 757.7 350.6zM801.3 352.9 804 358 806.7 358.6 803.6 358.4 800.9 359.1 798.2 354.5z"/>
<path fill="#f4f1d8" d="M652.8 322.3 655.5 317.2 658.2 320.9 655.1 324.1 652.4 322.2 649.7 323.1zM666.3 324.2 669 319.6 665.9 319.7 663.2 324.9zM682.5 324.2 685.2 328.1 682.1 326.3 679.4 326zM777 341.3 779.7 339.5 776.6 340.6 773.9 345.3zM782.4 339.5 785.1 345.4 782 347.2 779.3 339.2zM787.8 347.3 790.5 339.2 793.2 346 795.9 346.6 792.8 345.8 790.1 344.3 787.4 341.7 784.7 347.7z"/>
<path fill="#f8ebc4" d="M669 319.6 671.7 318.6 674.4 320.7 677.1 320.6 679.8 318.2 682.5 324.2 679.4 326 676.7 319.7 674 323.4 671.3 317.9 668.6 320.3 665.9 319.7zM779.7 339.5 782.4 339.5 779.3 339.2 776.6 340.6z"/>
<path fill="#e0f0f5" d="M806.7 358.6 809.4 360.3 812.1 361.9 809 364.8 806.3 365.1 803.6 358.4z"/>
<path fill="#d9edf4" d="M812.1 361.9 814.8 367 817.5 371.9 820.2 363.3 817.1 364.4 814.4 368.3 811.7 369.6 809 364.8z"/>
<path fill="#d2e9f2" d="M820.2 363.3 822.9 378.5 819.8 379.2 817.1 364.4z"/>
<path fill="#f4f1d8" d="M617.3 316.8 620 317.5 616.9 318.6 614.2 317.4zM649.7 323.1 652.4 322.2 655.1 324.1 652 324.7 649.3 320.8 646.6 326.7zM657.8 326.3 660.5 323.7 663.2 324.9 665.9 319.7 662.8 321.3 660.1 328.4 657.4 322.9 654.7 327.1zM679.4 326 682.1 326.3 684.8 330 681.7 332.5 679 327.5 676.3 324zM701 331.3 703.7 330.3 700.6 333.8 697.9 333.6zM773.9 345.3 776.6 340.6 773.5 344.7 770.8 344.1zM779.3 339.2 782 347.2 778.9 349.6 776.2 340.5zM784.7 347.7 787.4 341.7 790.1 344.3 792.8 345.8 795.5 347.7 792.4 346.5 789.7 348.4 787 346.4 784.3 341.2 781.6 349.1z"/>
<path fill="#ebf3ea" d="M620 317.5 622.7 316.7 625.4 325.2 622.3 326.7 619.6 321.7 616.9 318.6zM633.5 326.2 636.2 323.4 638.9 323.3 641.6 324.4 644.3 327.2 647 325.2 649.7 323.1 646.6 326.7 643.9 323.6 641.2 327.6 638.5 324.6 635.8 327.9 633.1 323 630.4 325.5zM655.1 324.1 657.8 326.3 654.7 327.1 652 324.7zM695.6 336.9 698.3 330 701 331.3 697.9 333.6 695.2 335.4 692.5 336.1zM703.7 330.3 706.4 338.9 703.3 339.9 700.6 333.8zM709.1 336.7 711.8 338.6 714.5 337.4 717.2 339 714.1 338.8 711.4 337.6 708.7 335.8 706 334.8zM765.8 348.6 768.5 343.8 771.2 344.6 773.9 345.3 770.8 344.1 768.1 345.7 765.4 342.8 762.7 351.9zM782 347.2 784.7 347.7 781.6 349.1 778.9 349.6zM795.5 347.7 798.2 354.5 795.1 357.5 792.4 346.5z"/>
<path fill="#e5f3f2" d="M625.4 325.2 628.1 328.1 630.8 327.1 633.5 326.2 630.4 325.5 627.7 325.8 625 327.9 622.3 326.7zM684.8 330 687.5 337.4 690.2 337.5 692.9 337.2 695.6 336.9 692.5 336.1 689.8 338.3 687.1 334.6 684.4 341.4 681.7 332.5zM706.4 338.9 709.1 336.7 706 334.8 703.3 339.9zM717.2 339 719.9 344 722.6 341.3 725.3 340.8 728 344.7 730.7 342.8 727.6 346.2 724.9 345.3 722.2 342.8 719.5 342.6 716.8 343.4 714.1 338.8zM733.4 345.6 736.1 343.2 738.8 343.2 741.5 347.2 744.2 344.4 746.9 348.6 743.8 351.1 741.1 345.6 738.4 345 735.7 345.7 733 345.1 730.3 348.7zM749.6 345.4 752.3 346.1 755 344.3 757.7 350.6 754.6 353.2 751.9 348.3 749.2 349.2 746.5 350.5zM760.4 349.5 763.1 349.6 765.8 348.6 762.7 351.9 760 351.3 757.3 349z"/>
<path fill="#f8ebc4" d="M665.9 319.7 668.6 320.3 671.3 317.9 674 323.4 676.7 319.7 679.4 326 676.3 324 673.6 321 670.9 322.3 668.2 320 665.5 318.7 662.8 321.3zM776.6 340.6 779.3 339.2 776.2 340.5 773.5 344.7z"/>
<path fill="#e3f2f4" d="M730.7 342.8 733.4 345.6 730.3 348.7 727.6 346.2zM746.9 348.6 749.6 345.4 746.5 350.5 743.8 351.1zM757.7 350.6 760.4 349.5 757.3 349 754.6 353.2zM798.2 354.5 800.9 359.1 803.6 358.4 800.5 359.9 797.8 361.3 795.1 357.5z"/>
<path fill="#e0f0f5" d="M803.6 358.4 806.3 365.1 809 364.8 805.9 365.6 803.2 366.1 800.5 359.9zM814.4 368.3 817.1 364.4 814 365.6 811.3 371z"/>
<path fill="#d9edf4" d="M809 364.8 811.7 369.6 814.4 368.3 811.3 371 808.6 371.4 805.9 365.6zM817.1 364.4 819.8 379.2 816.7 379.9 814 365.6z"/>
<path fill="#f4f1d8" d="M614.2 317.4 616.9 318.6 613.8 319.5 611.2 319.3zM646.6 326.7 649.3 320.8 652 324.7 648.9 326.3 646.2 326 643.5 326.2zM654.7 327.1 657.4 322.9 660.1 328.4 662.8 321.3 659.7 321.3 657 327.7 654.3 324.9 651.6 328.5zM676.3 324 679 327.5 681.7 332.5 678.6 331.1 675.9 327 673.2 330.3zM765.4 342.8 768.1 345.7 765 346.8 762.3 345.8zM770.8 344.1 773.5 344.7 776.2 340.5 778.9 349.6 775.8 347.1 773.1 343.5 770.4 348.9 767.7 347.7zM781.6 349.1 784.3 341.2 787 346.4 783.9 351.5 781.2 344.9 778.5 350.6zM789.7 348.4 792.4 346.5 789.3 349.4 786.6 351.5z"/>
<path fill="#ebf3ea" d="M616.9 318.6 619.6 321.7 616.5 321.4 613.8 319.5zM630.4 325.5 633.1 323 630 330 627.3 326.4zM635.8 327.9 638.5 324.6 641.2 327.6 643.9 323.6 646.6 326.7 643.5 326.2 640.8 326.2 638.1 329.4 635.4 326.4 632.7 329.8zM652 324.7 654.7 327.1 651.6 328.5 648.9 326.3zM692.5 336.1 695.2 335.4 697.9 333.6 700.6 333.8 703.3 339.9 706 334.8 708.7 335.8 711.4 337.6 714.1 338.8 711 341.1 708.3 338.3 705.6 337.6 702.9 337.7 700.2 343.2 697.5 336.8 694.8 336.6 692.1 335.1 689.4 333.8zM762.7 351.9 765.4 342.8 762.3 345.8 759.6 350.8zM768.1 345.7 770.8 344.1 767.7 347.7 765 346.8zM778.9 349.6 781.6 349.1 778.5 350.6 775.8 347.1zM787 346.4 789.7 348.4 786.6 351.5 783.9 351.5zM792.4 346.5 795.1 357.5 792 356.7 789.3 349.4z"/>
<path fill="#e5f3f2" d="M619.6 321.7 622.3 326.7 625 327.9 627.7 325.8 630.4 325.5 627.3 326.4 624.6 326.6 621.9 331.4 619.2 328.8 616.5 321.4zM633.1 323 635.8 327.9 632.7 329.8 630 330zM681.7 332.5 684.4 341.4 687.1 334.6 689.8 338.3 692.5 336.1 689.4 333.8 686.7 340.9 684 339.4 681.3 338.5 678.6 331.1zM714.1 338.8 716.8 343.4 719.5 342.6 722.2 342.8 724.9 345.3 721.8 348.4 719.1 343 716.4 343.2 713.7 345.3 711 341.1zM733 345.1 735.7 345.7 738.4 345 741.1 345.6 743.8 351.1 740.7 352.9 738 345.5 735.3 347.3 732.6 347.2 729.9 348.2zM746.5 350.5 749.2 349.2 751.9 348.3 754.6 353.2 751.5 353.5 748.8 349.2 746.1 350.9 743.4 349.6zM757.3 349 760 351.3 762.7 351.9 759.6 350.8 756.9 354.3 754.2 351.2z"/>
<path fill="#fae6b5" d="M662.8 321.3 665.5 318.7 668.2 320 665.1 321.1 662.4 318.7 659.7 321.3z"/>
<path fill="#f8ebc4" d="M668.2 320 670.9 322.3 673.6 321 676.3 324 673.2 330.3 670.5 322.9 667.8 322.6 665.1 321.1z"/>
<path fill="#e3f2f4" d="M724.9 345.3 727.6 346.2 730.3 348.7 733 345.1 729.9 348.2 727.2 350.4 724.5 346.7 721.8 348.4zM743.8 351.1 746.5 350.5 743.4 349.6 740.7 352.9zM754.6 353.2 757.3 349 754.2 351.2 751.5 353.5zM795.1 357.5 797.8 361.3 800.5 359.9 797.4 363.6 794.7 361.2 792 356.7z"/>
<path fill="#e0f0f5" d="M800.5 359.9 803.2 366.1 805.9 365.6 808.6 371.4 805.5 369.8 802.8 364.4 800.1 366.1 797.4 363.6zM811.3 371 814 365.6 810.9 366.2 808.2 371.9z"/>
<path fill="#d9edf4" d="M808.6 371.4 811.3 371 808.2 371.9 805.5 369.8zM814 365.6 816.7 379.9 813.6 379.9 810.9 366.2z"/>
<path fill="#f4f1d8" d="M611.2 319.3 613.8 319.5 616.5 321.4 613.5 321.1 610.8 321 608.1 320.4zM643.5 326.2 646.2 326 648.9 326.3 645.9 325 643.2 325.3 640.5 328.1zM651.6 328.5 654.3 324.9 657 327.7 654 328.6 651.3 326.3 648.6 331zM673.2 330.3 675.9 327 678.6 331.1 675.6 331.8 672.9 331.7 670.2 328zM689.4 333.8 692.1 335.1 689.1 334.1 686.4 335.6zM770.4 348.9 773.1 343.5 775.8 347.1 772.8 352.7 770.1 345.2 767.4 348.1zM778.5 350.6 781.2 344.9 783.9 351.5 780.9 351.3 778.2 344.1 775.5 353.8zM786.6 351.5 789.3 349.4 786.3 351.4 783.6 349.7z"/>
<path fill="#ebf3ea" d="M616.5 321.4 619.2 328.8 616.2 327.2 613.5 321.1zM624.6 326.6 627.3 326.4 624.3 327.1 621.6 327.9zM635.4 326.4 638.1 329.4 640.8 326.2 643.5 326.2 640.5 328.1 637.8 328.1 635.1 331.2 632.4 327.9zM648.9 326.3 651.6 328.5 648.6 331 645.9 325zM678.6 331.1 681.3 338.5 678.3 337.5 675.6 331.8zM686.7 340.9 689.4 333.8 686.4 335.6 683.7 337.6zM692.1 335.1 694.8 336.6 697.5 336.8 700.2 343.2 702.9 337.7 705.6 337.6 708.3 338.3 711 341.1 708 343.9 705.3 338.9 702.6 339.6 699.9 338.9 697.2 340.4 694.5 336.1 691.8 337.3 689.1 334.1zM759.6 350.8 762.3 345.8 765 346.8 767.7 347.7 770.4 348.9 767.4 348.1 764.7 353.3 762 347.9 759.3 349 756.6 352zM775.8 347.1 778.5 350.6 775.5 353.8 772.8 352.7zM783.9 351.5 786.6 351.5 783.6 349.7 780.9 351.3zM789.3 349.4 792 356.7 789 358.2 786.3 351.4z"/>
<path fill="#e5f3f2" d="M619.2 328.8 621.9 331.4 624.6 326.6 621.6 327.9 618.9 332.9 616.2 327.2zM627.3 326.4 630 330 632.7 329.8 635.4 326.4 632.4 327.9 629.7 333.9 627 329.3 624.3 327.1zM681.3 338.5 684 339.4 686.7 340.9 683.7 337.6 681 339.4 678.3 337.5zM711 341.1 713.7 345.3 716.4 343.2 719.1 343 721.8 348.4 718.8 353.3 716.1 345.1 713.4 345.1 710.7 347.8 708 343.9zM729.9 348.2 732.6 347.2 735.3 347.3 738 345.5 740.7 352.9 737.7 356 735 349.3 732.3 349.6 729.6 347.7 726.9 349.1zM743.4 349.6 746.1 350.9 748.8 349.2 751.5 353.5 754.2 351.2 756.9 354.3 759.6 350.8 756.6 352 753.9 353.8 751.2 354.1 748.5 353.7 745.8 352.9 743.1 353.4 740.4 349.9zM792 356.7 794.7 361.2 791.7 361.2 789 358.2z"/>
<path fill="#f8ebc4" d="M657 327.7 659.7 321.3 656.7 321.3 654 328.6zM667.8 322.6 670.5 322.9 673.2 330.3 670.2 328 667.5 325.1 664.8 325.3z"/>
<path fill="#fae6b5" d="M659.7 321.3 662.4 318.7 665.1 321.1 667.8 322.6 664.8 325.3 662.1 320.7 659.4 322.7 656.7 321.3z"/>
<path fill="#e3f2f4" d="M721.8 348.4 724.5 346.7 727.2 350.4 729.9 348.2 726.9 349.1 724.2 349.5 721.5 348.2 718.8 353.3zM740.7 352.9 743.4 349.6 740.4 349.9 737.7 356zM794.7 361.2 797.4 363.6 794.4 366.9 791.7 361.2z"/>
<path fill="#e0f0f5" d="M797.4 363.6 800.1 366.1 802.8 364.4 805.5 369.8 802.5 370.6 799.8 367.1 797.1 366.2 794.4 366.9zM808.2 371.9 810.9 366.2 807.9 367.2 805.2 372.1z"/>
<path fill="#d9edf4" d="M805.5 369.8 808.2 371.9 805.2 372.1 802.5 370.6zM810.9 366.2 813.6 379.9 810.6 381.8 807.9 367.2z"/>
<path fill="#f4f1d8" d="M608.1 320.4 610.8 321 613.5 321.1 610.4 323.3 607.7 323.7 605 321.3zM640.5 328.1 643.2 325.3 645.9 325 648.6 331 645.5 332.6 642.8 327.7 640.1 326.9 637.4 330.2zM651.3 326.3 654 328.6 656.7 321.3 653.6 325.6 650.9 333 648.2 329.8zM670.2 328 672.9 331.7 675.6 331.8 672.5 332.3 669.8 330.3 667.1 330.3zM686.4 335.6 689.1 334.1 691.8 337.3 694.5 336.1 691.4 336.3 688.7 336.1 686 334 683.3 336.3zM767.4 348.1 770.1 345.2 772.8 352.7 769.7 354.4 767 348.5 764.3 351.4zM775.5 353.8 778.2 344.1 780.9 351.3 777.8 356 775.1 347.4 772.4 355.2zM783.6 349.7 786.3 351.4 783.2 352.7 780.5 355.3z"/>
<path fill="#ebf3ea" d="M613.5 321.1 616.2 327.2 613.1 329.8 610.4 323.3zM621.6 327.9 624.3 327.1 627 329.3 623.9 331.2 621.2 329.7 618.5 330.9zM632.4 327.9 635.1 331.2 637.8 328.1 640.5 328.1 637.4 330.2 634.7 328.4 632 330.9 629.3 330.9zM648.6 331 651.3 326.3 648.2 329.8 645.5 332.6zM675.6 331.8 678.3 337.5 681 339.4 683.7 337.6 686.4 335.6 683.3 336.3 680.6 336.8 677.9 336.9 675.2 336.9 672.5 332.3zM694.5 336.1 697.2 340.4 699.9 338.9 702.6 339.6 705.3 338.9 708 343.9 704.9 339.4 702.2 340.8 699.5 338.7 696.8 339 694.1 343.1 691.4 336.3zM756.6 352 759.3 349 762 347.9 764.7 353.3 767.4 348.1 764.3 351.4 761.6 351 758.9 352.2 756.2 349.6 753.5 352.6zM772.8 352.7 775.5 353.8 772.4 355.2 769.7 354.4zM780.9 351.3 783.6 349.7 780.5 355.3 777.8 356zM786.3 351.4 789 358.2 785.9 362.3 783.2 352.7z"/>
<path fill="#e5f3f2" d="M616.2 327.2 618.9 332.9 621.6 327.9 618.5 330.9 615.8 336.1 613.1 329.8zM627 329.3 629.7 333.9 632.4 327.9 629.3 330.9 626.6 331.2 623.9 331.2zM708 343.9 710.7 347.8 713.4 345.1 716.1 345.1 718.8 353.3 715.7 352.8 713 344.4 710.3 346.3 707.6 346.7 704.9 339.4zM721.5 348.2 724.2 349.5 726.9 349.1 729.6 347.7 732.3 349.6 735 349.3 731.9 348.6 729.2 352.9 726.5 349.7 723.8 348.6 721.1 352.1 718.4 349.5zM737.7 356 740.4 349.9 743.1 353.4 745.8 352.9 748.5 353.7 751.2 354.1 753.9 353.8 756.6 352 753.5 352.6 750.8 355.6 748.1 353.2 745.4 356.2 742.7 353.3 740 355.3 737.3 348.4 734.6 357.2zM789 358.2 791.7 361.2 788.6 362.9 785.9 362.3z"/>
<path fill="#fae6b5" d="M656.7 321.3 659.4 322.7 662.1 320.7 664.8 325.3 661.7 326.9 659 323 656.3 321.9 653.6 325.6z"/>
<path fill="#f8ebc4" d="M664.8 325.3 667.5 325.1 670.2 328 667.1 330.3 664.4 325.3 661.7 326.9z"/>
<path fill="#e3f2f4" d="M718.8 353.3 721.5 348.2 718.4 349.5 715.7 352.8zM735 349.3 737.7 356 734.6 357.2 731.9 348.6zM791.7 361.2 794.4 366.9 797.1 366.2 799.8 367.1 796.7 368.1 794 366.4 791.3 365.6 788.6 362.9z"/>
<path fill="#e0f0f5" d="M799.8 367.1 802.5 370.6 805.2 372.1 807.9 367.2 804.8 366.5 802.1 370.6 799.4 371.9 796.7 368.1z"/>
<path fill="#d9edf4" d="M807.9 367.2 810.6 381.8 807.5 382.2 804.8 366.5z"/>
<path fill="#f4f1d8" d="M605 321.3 607.7 323.7 610.4 323.3 607.3 326 604.6 324.1 601.9 322.4zM637.4 330.2 640.1 326.9 642.8 327.7 639.7 332.3 637 326.5 634.3 332.3zM650.9 333 653.6 325.6 650.5 327.2 647.8 333.9zM669.8 330.3 672.5 332.3 675.2 336.9 672.1 338.8 669.4 335.3 666.7 329.5zM680.6 336.8 683.3 336.3 686 334 688.7 336.1 691.4 336.3 688.3 338.8 685.6 337.3 682.9 337.1 680.2 337.6 677.5 337.3zM696.8 339 699.5 338.7 702.2 340.8 704.9 339.4 701.8 342.4 699.1 340.7 696.4 339.4 693.7 338.7zM764.3 351.4 767 348.5 763.9 353.1 761.2 353zM772.4 355.2 775.1 347.4 777.8 356 774.7 353.8 772 350.3 769.3 357.9zM780.5 355.3 783.2 352.7 780.1 352.4 777.4 356.4z"/>
<path fill="#ebf3ea" d="M610.4 323.3 613.1 329.8 610 332.1 607.3 326zM626.6 331.2 629.3 330.9 632 330.9 634.7 328.4 637.4 330.2 634.3 332.3 631.6 331.4 628.9 333.2 626.2 331.4 623.5 334.3zM642.8 327.7 645.5 332.6 648.2 329.8 650.9 333 647.8 333.9 645.1 333.4 642.4 334.3 639.7 332.3zM675.2 336.9 677.9 336.9 680.6 336.8 677.5 337.3 674.8 338.9 672.1 338.8zM691.4 336.3 694.1 343.1 696.8 339 693.7 338.7 691 345.1 688.3 338.8zM704.9 339.4 707.6 346.7 704.5 348 701.8 342.4zM710.3 346.3 713 344.4 709.9 346.7 707.2 347.1zM753.5 352.6 756.2 349.6 758.9 352.2 761.6 351 764.3 351.4 761.2 353 758.5 353.7 755.8 352.7 753.1 350.5 750.4 354.9zM767 348.5 769.7 354.4 772.4 355.2 769.3 357.9 766.6 359 763.9 353.1zM777.8 356 780.5 355.3 777.4 356.4 774.7 353.8zM783.2 352.7 785.9 362.3 782.8 361.5 780.1 352.4z"/>
<path fill="#e3f2f4" d="M613.1 329.8 615.8 336.1 612.7 338.2 610 332.1zM785.9 362.3 788.6 362.9 791.3 365.6 794 366.4 796.7 368.1 793.6 369.1 790.9 368 788.2 365 785.5 367.8 782.8 361.5zM802.1 370.6 804.8 366.5 801.7 368.2 799 372.9z"/>
<path fill="#e5f3f2" d="M615.8 336.1 618.5 330.9 621.2 329.7 623.9 331.2 626.6 331.2 623.5 334.3 620.8 330.3 618.1 333.4 615.4 330.5 612.7 338.2zM707.6 346.7 710.3 346.3 707.2 347.1 704.5 348zM713 344.4 715.7 352.8 718.4 349.5 721.1 352.1 723.8 348.6 726.5 349.7 729.2 352.9 731.9 348.6 734.6 357.2 737.3 348.4 740 355.3 742.7 353.3 745.4 356.2 748.1 353.2 750.8 355.6 753.5 352.6 750.4 354.9 747.7 355.9 745 354.9 742.3 357.1 739.6 354.4 736.9 356.2 734.2 354.7 731.5 354.6 728.8 352.3 726.1 350.3 723.4 349 720.7 351.4 718 351 715.3 350 712.6 351 709.9 346.7z"/>
<path fill="#f8ebc4" d="M653.6 325.6 656.3 321.9 653.2 324.9 650.5 327.2zM659 323 661.7 326.9 664.4 325.3 667.1 330.3 669.8 330.3 666.7 329.5 664 332.8 661.3 326.9 658.6 329.5 655.9 327.4z"/>
<path fill="#fae6b5" d="M656.3 321.9 659 323 655.9 327.4 653.2 324.9z"/>
<path fill="#e0f0f5" d="M796.7 368.1 799.4 371.9 802.1 370.6 799 372.9 796.3 371.3 793.6 369.1z"/>
<path fill="#d9edf4" d="M804.8 366.5 807.5 382.2 804.4 383 801.7 368.2z"/>
<path fill="#f4f1d8" d="M601.9 322.4 604.6 324.1 607.3 326 604.2 328.9 601.5 324.4 598.8 323.4zM634.3 332.3 637 326.5 639.7 332.3 636.6 331.5 633.9 331.8 631.2 330.4zM647.8 333.9 650.5 327.2 647.4 328.7 644.7 335.6zM674.8 338.9 677.5 337.3 680.2 337.6 682.9 337.1 685.6 337.3 688.3 338.8 685.2 339.3 682.5 339 679.8 337.9 677.1 337.3 674.4 336.2 671.7 336.3zM693.7 338.7 696.4 339.4 699.1 340.7 701.8 342.4 698.7 343.3 696 342.2 693.3 340.1 690.6 339.7zM769.3 357.9 772 350.3 774.7 353.8 771.6 360.7 768.9 350.1 766.2 357zM777.4 356.4 780.1 352.4 777 355.6 774.3 358.4z"/>
<path fill="#ebf3ea" d="M607.3 326 610 332.1 606.9 332.5 604.2 328.9zM618.1 333.4 620.8 330.3 623.5 334.3 626.2 331.4 628.9 333.2 631.6 331.4 634.3 332.3 631.2 330.4 628.5 330.9 625.8 335.5 623.1 332 620.4 334.1 617.7 332.5 615 332.7zM639.7 332.3 642.4 334.3 645.1 333.4 647.8 333.9 644.7 335.6 642 333.8 639.3 334.9 636.6 331.5zM669.4 335.3 672.1 338.8 674.8 338.9 671.7 336.3 669 342.6 666.3 334.2zM688.3 338.8 691 345.1 693.7 338.7 690.6 339.7 687.9 345.9 685.2 339.3zM701.8 342.4 704.5 348 701.4 348.3 698.7 343.3zM707.2 347.1 709.9 346.7 706.8 346.4 704.1 348.1zM720.7 351.4 723.4 349 726.1 350.3 728.8 352.3 725.7 351.6 723 350.8 720.3 351.4 717.6 349.2zM750.4 354.9 753.1 350.5 755.8 352.7 758.5 353.7 761.2 353 763.9 353.1 766.6 359 769.3 357.9 766.2 357 763.5 358.6 760.8 353.4 758.1 355.4 755.4 353.6 752.7 353.8 750 351.3 747.3 357zM774.7 353.8 777.4 356.4 774.3 358.4 771.6 360.7zM780.1 352.4 782.8 361.5 779.7 362.5 777 355.6z"/>
<path fill="#e5f3f2" d="M610 332.1 612.7 338.2 615.4 330.5 618.1 333.4 615 332.7 612.3 333.2 609.6 337.8 606.9 332.5zM704.5 348 707.2 347.1 704.1 348.1 701.4 348.3zM709.9 346.7 712.6 351 715.3 350 718 351 720.7 351.4 717.6 349.2 714.9 354.7 712.2 350.2 709.5 350.1 706.8 346.4zM728.8 352.3 731.5 354.6 734.2 354.7 736.9 356.2 739.6 354.4 742.3 357.1 745 354.9 747.7 355.9 750.4 354.9 747.3 357 744.6 355 741.9 353.6 739.2 358.2 736.5 354.3 733.8 355.3 731.1 355.5 728.4 357.8 725.7 351.6zM782.8 361.5 785.5 367.8 782.4 366.8 779.7 362.5z"/>
<path fill="#f8ebc4" d="M650.5 327.2 653.2 324.9 655.9 327.4 658.6 329.5 661.3 326.9 664 332.8 666.7 329.5 669.4 335.3 666.3 334.2 663.6 330.4 660.9 335.9 658.2 326.3 655.5 328.4 652.8 328.5 650.1 327.1 647.4 328.7z"/>
<path fill="#e3f2f4" d="M785.5 367.8 788.2 365 790.9 368 793.6 369.1 796.3 371.3 793.2 372.1 790.5 367.8 787.8 369.9 785.1 367.7 782.4 366.8zM799 372.9 801.7 368.2 798.6 368.9 795.9 373.1z"/>
<path fill="#e0f0f5" d="M796.3 371.3 799 372.9 795.9 373.1 793.2 372.1zM801.7 368.2 804.4 383 801.3 384.5 798.6 368.9z"/>
<path fill="#f4f1d8" d="M598.8 323.4 601.5 324.4 598.4 327.4 595.8 325.8zM628.5 330.9 631.2 330.4 633.9 331.8 636.6 331.5 639.3 334.9 636.2 335.6 633.5 330.9 630.8 332.1 628.1 331.5 625.4 329.9zM644.7 335.6 647.4 328.7 644.3 332.1 641.6 337.7zM666.3 334.2 669 342.6 665.9 342.5 663.2 334.6zM671.7 336.3 674.4 336.2 677.1 337.3 679.8 337.9 682.5 339 685.2 339.3 687.9 345.9 684.8 343.7 682.1 339.4 679.4 338.8 676.7 338.1 674 337.6 671.3 338.5 668.6 338.3zM690.6 339.7 693.3 340.1 696 342.2 698.7 343.3 695.6 345.8 692.9 343.1 690.2 344.8 687.5 342.3zM750 351.3 752.7 353.8 755.4 353.6 752.3 353.4 749.6 354.9 746.9 351.6zM758.1 355.4 760.8 353.4 757.7 354.9 755 355.6zM766.2 357 768.9 350.1 771.6 360.7 768.5 359.3 765.8 351.1 763.1 360.4z"/>
<path fill="#ebf3ea" d="M601.5 324.4 604.2 328.9 606.9 332.5 603.8 333.8 601.1 332.4 598.4 327.4zM612.3 333.2 615 332.7 617.7 332.5 620.4 334.1 623.1 332 625.8 335.5 628.5 330.9 625.4 329.9 622.7 333.1 620 330.3 617.3 334.2 614.6 332.4 611.9 331.4 609.2 333.8zM639.3 334.9 642 333.8 644.7 335.6 641.6 337.7 638.9 335.3 636.2 335.6zM669 342.6 671.7 336.3 668.6 338.3 665.9 342.5zM687.9 345.9 690.6 339.7 687.5 342.3 684.8 343.7zM698.7 343.3 701.4 348.3 704.1 348.1 706.8 346.4 709.5 350.1 706.4 355.1 703.7 347.8 701 348.8 698.3 350.3 695.6 345.8zM717.6 349.2 720.3 351.4 723 350.8 725.7 351.6 722.6 352.7 719.9 352.2 717.2 352.7 714.5 354.1zM741.9 353.6 744.6 355 741.5 358.4 738.8 354.8zM747.3 357 750 351.3 746.9 351.6 744.2 358.1zM755.4 353.6 758.1 355.4 755 355.6 752.3 353.4zM760.8 353.4 763.5 358.6 766.2 357 763.1 360.4 760.4 361.9 757.7 354.9zM771.6 360.7 774.3 358.4 777 355.6 779.7 362.5 776.6 366.4 773.9 358.6 771.2 359.3 768.5 359.3z"/>
<path fill="#e5f3f2" d="M606.9 332.5 609.6 337.8 612.3 333.2 609.2 333.8 606.5 339.5 603.8 333.8zM709.5 350.1 712.2 350.2 714.9 354.7 717.6 349.2 714.5 354.1 711.8 356.2 709.1 351.9 706.4 355.1zM725.7 351.6 728.4 357.8 731.1 355.5 733.8 355.3 736.5 354.3 739.2 358.2 741.9 353.6 738.8 354.8 736.1 357.6 733.4 352.6 730.7 356.8 728 352.6 725.3 359.3 722.6 352.7zM744.6 355 747.3 357 744.2 358.1 741.5 358.4zM779.7 362.5 782.4 366.8 779.3 368.5 776.6 366.4z"/>
<path fill="#f8ebc4" d="M647.4 328.7 650.1 327.1 652.8 328.5 655.5 328.4 658.2 326.3 660.9 335.9 663.6 330.4 666.3 334.2 663.2 334.6 660.5 334.7 657.8 335.6 655.1 328.7 652.4 334.5 649.7 331.3 647 330 644.3 332.1z"/>
<path fill="#e3f2f4" d="M782.4 366.8 785.1 367.7 787.8 369.9 790.5 367.8 793.2 372.1 790.1 375.1 787.4 369.8 784.7 371.5 782 368.3 779.3 368.5zM795.9 373.1 798.6 368.9 795.5 369.8 792.8 372.6z"/>
<path fill="#e0f0f5" d="M793.2 372.1 795.9 373.1 792.8 372.6 790.1 375.1zM798.6 368.9 801.3 384.5 798.2 386 795.5 369.8z"/>
<path fill="#f4f1d8" d="M595.8 325.8 598.4 327.4 595.4 328.8 592.7 325.7zM617.3 334.2 620 330.3 622.7 333.1 625.4 329.9 628.1 331.5 630.8 332.1 633.5 330.9 636.2 335.6 633.2 337.5 630.5 334.8 627.8 329.4 625.1 331.2 622.4 330.3 619.7 333.7 617 331.3 614.3 332.7zM641.6 337.7 644.3 332.1 641.3 336.3 638.6 340zM657.8 335.6 660.5 334.7 657.5 338.1 654.8 338zM663.2 334.6 665.9 342.5 668.6 338.3 671.3 338.5 674 337.6 671 339.7 668.3 337.8 665.6 338.6 662.9 343.1 660.2 337.2zM679.4 338.8 682.1 339.4 684.8 343.7 687.5 342.3 690.2 344.8 692.9 343.1 695.6 345.8 692.6 345.8 689.9 343.6 687.2 341.6 684.5 341.5 681.8 346.6 679.1 341.2 676.4 339.5zM746.9 351.6 749.6 354.9 752.3 353.4 755 355.6 757.7 354.9 754.7 355.3 752 355.2 749.3 355.3 746.6 354.2 743.9 352.7zM763.1 360.4 765.8 351.1 768.5 359.3 765.5 361.3 762.8 355.7 760.1 360.6z"/>
<path fill="#ebf3ea" d="M598.4 327.4 601.1 332.4 598.1 332.7 595.4 328.8zM609.2 333.8 611.9 331.4 614.6 332.4 617.3 334.2 614.3 332.7 611.6 330.8 608.9 334.9 606.2 334.2zM636.2 335.6 638.9 335.3 641.6 337.7 638.6 340 635.9 337.5 633.2 337.5zM695.6 345.8 698.3 350.3 701 348.8 703.7 347.8 700.7 345.8 698 347.1 695.3 350.5 692.6 345.8zM717.2 352.7 719.9 352.2 722.6 352.7 719.6 354.8 716.9 354.1 714.2 353.4zM728 352.6 730.7 356.8 733.4 352.6 736.1 357.6 738.8 354.8 741.5 358.4 744.2 358.1 746.9 351.6 743.9 352.7 741.2 358.7 738.5 356.6 735.8 354.9 733.1 354.4 730.4 352.9 727.7 355.3 725 355.5zM757.7 354.9 760.4 361.9 763.1 360.4 760.1 360.6 757.4 360.6 754.7 355.3zM768.5 359.3 771.2 359.3 773.9 358.6 776.6 366.4 773.6 367.2 770.9 361.4 768.2 362.3 765.5 361.3z"/>
<path fill="#e5f3f2" d="M601.1 332.4 603.8 333.8 606.5 339.5 609.2 333.8 606.2 334.2 603.5 339.7 600.8 337.4 598.1 332.7zM703.7 347.8 706.4 355.1 709.1 351.9 711.8 356.2 714.5 354.1 717.2 352.7 714.2 353.4 711.5 354.5 708.8 356.6 706.1 354.1 703.4 358.5 700.7 345.8zM722.6 352.7 725.3 359.3 728 352.6 725 355.5 722.3 360.4 719.6 354.8zM776.6 366.4 779.3 368.5 776.3 368.9 773.6 367.2z"/>
<path fill="#f8ebc4" d="M644.3 332.1 647 330 649.7 331.3 652.4 334.5 655.1 328.7 657.8 335.6 654.8 338 652.1 334.1 649.4 335.1 646.7 333.1 644 333.6 641.3 336.3zM660.5 334.7 663.2 334.6 660.2 337.2 657.5 338.1zM674 337.6 676.7 338.1 679.4 338.8 676.4 339.5 673.7 336.6 671 339.7z"/>
<path fill="#e3f2f4" d="M779.3 368.5 782 368.3 784.7 371.5 787.4 369.8 790.1 375.1 787.1 376.2 784.4 371.1 781.7 374.2 779 371.9 776.3 368.9zM792.8 372.6 795.5 369.8 792.5 370.8 789.8 374.3z"/>
<path fill="#e0f0f5" d="M790.1 375.1 792.8 372.6 789.8 374.3 787.1 376.2zM795.5 369.8 798.2 386 795.2 386.7 792.5 370.8z"/>
<path fill="#f4f1d8" d="M592.7 325.7 595.4 328.8 592.3 331.6 589.6 328.3zM608.9 334.9 611.6 330.8 614.3 332.7 617 331.3 619.7 333.7 622.4 330.3 619.3 330.7 616.6 334.2 613.9 331 611.2 334.3 608.5 334.2 605.8 333.9zM630.5 334.8 633.2 337.5 630.1 338 627.4 335.2zM638.6 340 641.3 336.3 638.2 335 635.5 341.1zM652.1 334.1 654.8 338 657.5 338.1 660.2 337.2 662.9 343.1 659.8 343.8 657.1 342.7 654.4 337.2 651.7 340.7 649 336.8zM665.6 338.6 668.3 337.8 671 339.7 667.9 340.7 665.2 341.8 662.5 345.6zM679.1 341.2 681.8 346.6 684.5 341.5 687.2 341.6 689.9 343.6 692.6 345.8 689.5 347.6 686.8 346.4 684.1 345 681.4 345.3 678.7 347.2 676 342.1zM698 347.1 700.7 345.8 697.6 351.1 694.9 351.2zM741.2 358.7 743.9 352.7 746.6 354.2 749.3 355.3 752 355.2 754.7 355.3 751.6 356.4 748.9 352.7 746.2 355.6 743.5 354.1 740.8 353.8 738.1 353.4zM760.1 360.6 762.8 355.7 765.5 361.3 762.4 363.2 759.7 354.1 757 365.5z"/>
<path fill="#ebf3ea" d="M595.4 328.8 598.1 332.7 600.8 337.4 597.7 335.3 595 333.6 592.3 331.6zM606.2 334.2 608.9 334.9 605.8 333.9 603.1 335.8zM633.2 337.5 635.9 337.5 638.6 340 635.5 341.1 632.8 338 630.1 338zM662.9 343.1 665.6 338.6 662.5 345.6 659.8 343.8zM692.6 345.8 695.3 350.5 698 347.1 694.9 351.2 692.2 352.8 689.5 347.6zM711.5 354.5 714.2 353.4 716.9 354.1 719.6 354.8 716.5 355.9 713.8 354 711.1 355.3 708.4 356.7zM725 355.5 727.7 355.3 730.4 352.9 733.1 354.4 735.8 354.9 738.5 356.6 741.2 358.7 738.1 353.4 735.4 355.8 732.7 357.3 730 357.7 727.3 354.8 724.6 354.3 721.9 357.5zM754.7 355.3 757.4 360.6 760.1 360.6 757 365.5 754.3 363.6 751.6 356.4zM765.5 361.3 768.2 362.3 770.9 361.4 767.8 363.3 765.1 364.1 762.4 363.2z"/>
<path fill="#e5f3f2" d="M600.8 337.4 603.5 339.7 606.2 334.2 603.1 335.8 600.4 342.4 597.7 335.3zM700.7 345.8 703.4 358.5 706.1 354.1 708.8 356.6 711.5 354.5 708.4 356.7 705.7 357.8 703 354.9 700.3 358.9 697.6 351.1zM719.6 354.8 722.3 360.4 725 355.5 721.9 357.5 719.2 356.6 716.5 355.9zM770.9 361.4 773.6 367.2 770.5 371.1 767.8 363.3z"/>
<path fill="#f8ebc4" d="M622.4 330.3 625.1 331.2 627.8 329.4 630.5 334.8 627.4 335.2 624.7 329.1 622 332.5 619.3 330.7zM641.3 336.3 644 333.6 646.7 333.1 649.4 335.1 652.1 334.1 649 336.8 646.3 338.4 643.6 334.1 640.9 332.9 638.2 335zM671 339.7 673.7 336.6 676.4 339.5 679.1 341.2 676 342.1 673.3 339.6 670.6 338.8 667.9 340.7z"/>
<path fill="#e3f2f4" d="M773.6 367.2 776.3 368.9 779 371.9 781.7 374.2 784.4 371.1 787.1 376.2 784 378.6 781.3 375.2 778.6 374.8 775.9 374.1 773.2 372.7 770.5 371.1zM789.8 374.3 792.5 370.8 789.4 372.5 786.7 377.3z"/>
<path fill="#e0f0f5" d="M787.1 376.2 789.8 374.3 786.7 377.3 784 378.6zM792.5 370.8 795.2 386.7 792.1 387.6 789.4 372.5z"/>
<path fill="#f4f1d8" d="M589.6 328.3 592.3 331.6 589.2 333.6 586.5 329.7zM605.8 333.9 608.5 334.2 611.2 334.3 613.9 331 610.8 329.6 608.1 333.7 605.4 334.3 602.7 337.5zM627.4 335.2 630.1 338 632.8 338 629.7 339.9 627 339.9 624.3 337.4zM635.5 341.1 638.2 335 635.1 339.3 632.4 342.4zM643.6 334.1 646.3 338.4 643.2 339.9 640.5 338.1zM649 336.8 651.7 340.7 654.4 337.2 657.1 342.7 659.8 343.8 656.7 344.6 654 344.2 651.3 339.6 648.6 341.9 645.9 335.4zM662.5 345.6 665.2 341.8 667.9 340.7 664.8 341.5 662.1 345.7 659.4 344.7zM676 342.1 678.7 347.2 681.4 345.3 684.1 345 686.8 346.4 689.5 347.6 686.4 351.1 683.7 346.8 681 345.1 678.3 346.6 675.6 347.1 672.9 341.9zM732.7 357.3 735.4 355.8 738.1 353.4 740.8 353.8 737.7 354 735 358.1 732.3 355.1 729.6 356.7zM743.5 354.1 746.2 355.6 748.9 352.7 745.8 356.2 743.1 357.5 740.4 354.1zM751.6 356.4 754.3 363.6 751.2 362.1 748.5 355.8zM759.7 354.1 762.4 363.2 759.3 367.1 756.6 359.8z"/>
<path fill="#ebf3ea" d="M592.3 331.6 595 333.6 597.7 335.3 594.6 340.2 591.9 337.4 589.2 333.6zM603.1 335.8 605.8 333.9 602.7 337.5 600 336.3zM632.8 338 635.5 341.1 632.4 342.4 629.7 339.9zM659.8 343.8 662.5 345.6 659.4 344.7 656.7 344.6zM689.5 347.6 692.2 352.8 694.9 351.2 697.6 351.1 694.5 352.4 691.8 352.4 689.1 355.5 686.4 351.1zM708.4 356.7 711.1 355.3 713.8 354 716.5 355.9 719.2 356.6 721.9 357.5 724.6 354.3 727.3 354.8 730 357.7 732.7 357.3 729.6 356.7 726.9 358.4 724.2 356.5 721.5 356.5 718.8 356.2 716.1 361.9 713.4 355.8 710.7 358.6 708 357.1 705.3 357.4zM754.3 363.6 757 365.5 759.7 354.1 756.6 359.8 753.9 365.1 751.2 362.1zM762.4 363.2 765.1 364.1 767.8 363.3 764.7 364.3 762 363.6 759.3 367.1z"/>
<path fill="#e5f3f2" d="M597.7 335.3 600.4 342.4 603.1 335.8 600 336.3 597.3 340.4 594.6 340.2zM697.6 351.1 700.3 358.9 703 354.9 705.7 357.8 708.4 356.7 705.3 357.4 702.6 359.8 699.9 357.4 697.2 361.7 694.5 352.4zM767.8 363.3 770.5 371.1 767.4 372.2 764.7 364.3z"/>
<path fill="#f8ebc4" d="M613.9 331 616.6 334.2 619.3 330.7 622 332.5 624.7 329.1 627.4 335.2 624.3 337.4 621.6 329.7 618.9 333.8 616.2 330.3 613.5 333.6 610.8 329.6zM638.2 335 640.9 332.9 643.6 334.1 640.5 338.1 637.8 333.6 635.1 339.3zM646.3 338.4 649 336.8 645.9 335.4 643.2 339.9zM667.9 340.7 670.6 338.8 673.3 339.6 676 342.1 672.9 341.9 670.2 341.8 667.5 338.7 664.8 341.5zM740.8 353.8 743.5 354.1 740.4 354.1 737.7 354zM748.9 352.7 751.6 356.4 748.5 355.8 745.8 356.2z"/>
<path fill="#e3f2f4" d="M770.5 371.1 773.2 372.7 775.9 374.1 778.6 374.8 781.3 375.2 784 378.6 786.7 377.3 789.4 372.5 786.3 374.1 783.6 376.8 780.9 377.5 778.2 376.8 775.5 376.8 772.8 377.3 770.1 374.6 767.4 372.2z"/>
<path fill="#e0f0f5" d="M789.4 372.5 792.1 387.6 789 390 786.3 374.1z"/>
<path fill="#f4f1d8" d="M586.5 329.7 589.2 333.6 586.1 333.3 583.4 331.6zM602.7 337.5 605.4 334.3 608.1 333.7 605 334.8 602.3 334.5 599.6 338.1zM624.3 337.4 627 339.9 629.7 339.9 626.6 340.7 623.9 342.5 621.2 336.5zM640.5 338.1 643.2 339.9 645.9 335.4 648.6 341.9 651.3 339.6 654 344.2 650.9 345.4 648.2 343.4 645.5 343.3 642.8 341.8 640.1 343.9 637.4 338.6zM659.4 344.7 662.1 345.7 664.8 341.5 661.7 344.1 659 345.9 656.3 348.4zM672.9 341.9 675.6 347.1 678.3 346.6 681 345.1 683.7 346.8 686.4 351.1 683.3 352.1 680.6 351.5 677.9 348.1 675.2 347 672.5 350.4 669.8 344zM726.9 358.4 729.6 356.7 732.3 355.1 735 358.1 737.7 354 740.4 354.1 743.1 357.5 745.8 356.2 742.7 356.1 740 357.9 737.3 359.3 734.6 356.7 731.9 358.9 729.2 360.3 726.5 358.1 723.8 358.3zM748.5 355.8 751.2 362.1 748.1 364.9 745.4 356z"/>
<path fill="#ebf3ea" d="M589.2 333.6 591.9 337.4 594.6 340.2 591.5 343 588.8 333.9 586.1 333.3zM600 336.3 602.7 337.5 599.6 338.1 596.9 336.9zM629.7 339.9 632.4 342.4 635.1 339.3 632 342.1 629.3 344.8 626.6 340.7zM654 344.2 656.7 344.6 659.4 344.7 656.3 348.4 653.6 348.9 650.9 345.4zM686.4 351.1 689.1 355.5 691.8 352.4 694.5 352.4 691.4 355.9 688.7 356.1 686 356.9 683.3 352.1zM705.3 357.4 708 357.1 710.7 358.6 713.4 355.8 710.3 360.5 707.6 356.2 704.9 356.5 702.2 359.4zM716.1 361.9 718.8 356.2 721.5 356.5 724.2 356.5 726.9 358.4 723.8 358.3 721.1 357.3 718.4 358.6 715.7 355.6 713 362.8zM751.2 362.1 753.9 365.1 756.6 359.8 759.3 367.1 762 363.6 764.7 364.3 761.6 366.4 758.9 365.7 756.2 368.1 753.5 361.3 750.8 366.6 748.1 364.9z"/>
<path fill="#e5f3f2" d="M594.6 340.2 597.3 340.4 600 336.3 596.9 336.9 594.2 345.5 591.5 343zM694.5 352.4 697.2 361.7 699.9 357.4 702.6 359.8 705.3 357.4 702.2 359.4 699.5 361.5 696.8 357.5 694.1 361 691.4 355.9zM713.4 355.8 716.1 361.9 713 362.8 710.3 360.5zM764.7 364.3 767.4 372.2 764.3 374.5 761.6 366.4z"/>
<path fill="#f8ebc4" d="M608.1 333.7 610.8 329.6 613.5 333.6 616.2 330.3 618.9 333.8 621.6 329.7 624.3 337.4 621.2 336.5 618.5 332.5 615.8 333.3 613.1 333.5 610.4 333 607.7 334.9 605 334.8zM635.1 339.3 637.8 333.6 640.5 338.1 637.4 338.6 634.7 336.3 632 342.1zM664.8 341.5 667.5 338.7 670.2 341.8 672.9 341.9 669.8 344 667.1 339.5 664.4 341.5 661.7 344.1zM745.8 356.2 748.5 355.8 745.4 356 742.7 356.1z"/>
<path fill="#e3f2f4" d="M767.4 372.2 770.1 374.6 772.8 377.3 775.5 376.8 778.2 376.8 780.9 377.5 783.6 376.8 786.3 374.1 783.2 376.8 780.5 379.2 777.8 381.2 775.1 377 772.4 380.3 769.7 375.3 767 376.6 764.3 374.5z"/>
<path fill="#e0f0f5" d="M786.3 374.1 789 390 785.9 390.4 783.2 376.8z"/>
<path fill="#f4f1d8" d="M583.4 331.6 586.1 333.3 588.8 333.9 585.7 338.6 583 335.8 580.3 332.3zM596.9 336.9 599.6 338.1 602.3 334.5 599.2 334.4 596.5 335.4 593.8 338.6zM605 334.8 607.7 334.9 604.6 337.6 601.9 333.8zM621.2 336.5 623.9 342.5 620.8 345.8 618.1 338.1zM629.3 344.8 632 342.1 628.9 339.3 626.2 347zM637.4 338.6 640.1 343.9 642.8 341.8 645.5 343.3 648.2 343.4 650.9 345.4 647.8 347.2 645.1 343.8 642.4 345.1 639.7 342 637 343.1 634.3 340.1zM659 345.9 661.7 344.1 658.6 347.9 655.9 351.5zM669.8 344 672.5 350.4 675.2 347 677.9 348.1 680.6 351.5 677.5 353.7 674.8 351.6 672.1 349.4 669.4 351.2 666.7 345.5zM721.1 357.3 723.8 358.3 726.5 358.1 723.4 360.4 720.7 359.6 718 360.1zM731.9 358.9 734.6 356.7 731.5 358 728.8 362.1zM745.4 356 748.1 364.9 745 364.5 742.3 357.3z"/>
<path fill="#ebf3ea" d="M588.8 333.9 591.5 343 588.4 340.6 585.7 338.6zM623.9 342.5 626.6 340.7 629.3 344.8 626.2 347 623.5 344.2 620.8 345.8zM650.9 345.4 653.6 348.9 656.3 348.4 659 345.9 655.9 351.5 653.2 351.5 650.5 351.2 647.8 347.2zM680.6 351.5 683.3 352.1 686 356.9 682.9 359.1 680.2 355 677.5 353.7zM688.7 356.1 691.4 355.9 688.3 356.3 685.6 358zM702.2 359.4 704.9 356.5 707.6 356.2 710.3 360.5 707.2 361.9 704.5 359.5 701.8 359.4 699.1 361zM713 362.8 715.7 355.6 718.4 358.6 721.1 357.3 718 360.1 715.3 359.9 712.6 362.8 709.9 363.4zM726.5 358.1 729.2 360.3 731.9 358.9 728.8 362.1 726.1 362.4 723.4 360.4zM748.1 364.9 750.8 366.6 753.5 361.3 756.2 368.1 758.9 365.7 761.6 366.4 758.5 371.7 755.8 371.9 753.1 370.2 750.4 362.2 747.7 367.3 745 364.5z"/>
<path fill="#e5f3f2" d="M591.5 343 594.2 345.5 596.9 336.9 593.8 338.6 591.1 346.7 588.4 340.6zM686 356.9 688.7 356.1 685.6 358 682.9 359.1zM691.4 355.9 694.1 361 696.8 357.5 699.5 361.5 702.2 359.4 699.1 361 696.4 365.1 693.7 360.1 691 362.5 688.3 356.3zM710.3 360.5 713 362.8 709.9 363.4 707.2 361.9zM761.6 366.4 764.3 374.5 761.2 376.2 758.5 371.7z"/>
<path fill="#f8ebc4" d="M602.3 334.5 605 334.8 601.9 333.8 599.2 334.4zM607.7 334.9 610.4 333 613.1 333.5 615.8 333.3 618.5 332.5 621.2 336.5 618.1 338.1 615.4 334.8 612.7 337.8 610 334 607.3 336.9 604.6 337.6zM632 342.1 634.7 336.3 637.4 338.6 634.3 340.1 631.6 338 628.9 339.3zM661.7 344.1 664.4 341.5 667.1 339.5 669.8 344 666.7 345.5 664 343.7 661.3 342.8 658.6 347.9zM734.6 356.7 737.3 359.3 740 357.9 742.7 356.1 745.4 356 742.3 357.3 739.6 354.9 736.9 356.6 734.2 355.5 731.5 358z"/>
<path fill="#e3f2f4" d="M764.3 374.5 767 376.6 769.7 375.3 766.6 381.6 763.9 380.9 761.2 376.2zM772.4 380.3 775.1 377 777.8 381.2 780.5 379.2 783.2 376.8 780.1 376.4 777.4 377.7 774.7 380.9 772 379.9 769.3 381.4z"/>
<path fill="#e0f0f5" d="M769.7 375.3 772.4 380.3 769.3 381.4 766.6 381.6zM783.2 376.8 785.9 390.4 782.8 391.3 780.1 376.4z"/>
<path fill="#f4f1d8" d="M580.3 332.3 583 335.8 585.7 338.6 582.7 338.8 580 335.8 577.3 333.3zM593.8 338.6 596.5 335.4 599.2 334.4 601.9 333.8 604.6 337.6 607.3 336.9 604.3 339.4 601.6 338.7 598.9 339.7 596.2 343.1 593.5 341.1 590.8 341.7zM618.1 338.1 620.8 345.8 617.8 346.5 615.1 340.9zM626.2 347 628.9 339.3 625.9 343.7 623.2 347.6zM634.3 340.1 637 343.1 639.7 342 642.4 345.1 645.1 343.8 647.8 347.2 644.8 350.3 642.1 348.9 639.4 348.2 636.7 343.3 634 346.5 631.3 343.8zM658.6 347.9 661.3 342.8 658.3 348.2 655.6 350.4zM666.7 345.5 669.4 351.2 672.1 349.4 674.8 351.6 671.8 357.1 669.1 352.8 666.4 355 663.7 349.3zM728.8 362.1 731.5 358 728.5 360.1 725.8 363.7zM742.3 357.3 745 364.5 742 367.5 739.3 358.7z"/>
<path fill="#ebf3ea" d="M585.7 338.6 588.4 340.6 585.4 345.2 582.7 338.8zM620.8 345.8 623.5 344.2 626.2 347 623.2 347.6 620.5 345 617.8 346.5zM647.8 347.2 650.5 351.2 647.5 354.8 644.8 350.3zM653.2 351.5 655.9 351.5 658.6 347.9 655.6 350.4 652.9 353.4 650.2 354.8zM674.8 351.6 677.5 353.7 680.2 355 677.2 358.7 674.5 355 671.8 357.1zM685.6 358 688.3 356.3 685.3 356.9 682.6 359.7zM701.8 359.4 704.5 359.5 707.2 361.9 704.2 363.5 701.5 363.1 698.8 362.8zM712.6 362.8 715.3 359.9 718 360.1 720.7 359.6 723.4 360.4 726.1 362.4 728.8 362.1 725.8 363.7 723.1 363.9 720.4 362.6 717.7 366.2 715 359.5 712.3 362.3 709.6 363.2zM745 364.5 747.7 367.3 750.4 362.2 753.1 370.2 750.1 375.9 747.4 368.2 744.7 369.8 742 367.5z"/>
<path fill="#e5f3f2" d="M588.4 340.6 591.1 346.7 593.8 338.6 590.8 341.7 588.1 348.7 585.4 345.2zM650.5 351.2 653.2 351.5 650.2 354.8 647.5 354.8zM680.2 355 682.9 359.1 685.6 358 682.6 359.7 679.9 362.3 677.2 358.7zM688.3 356.3 691 362.5 693.7 360.1 696.4 365.1 699.1 361 701.8 359.4 698.8 362.8 696.1 363.3 693.4 364.8 690.7 361.4 688 365.4 685.3 356.9zM707.2 361.9 709.9 363.4 712.6 362.8 709.6 363.2 706.9 367.5 704.2 363.5zM753.1 370.2 755.8 371.9 758.5 371.7 761.2 376.2 758.2 380.6 755.5 373.9 752.8 374.9 750.1 375.9zM777.4 377.7 780.1 376.4 777.1 378.8 774.4 379.7z"/>
<path fill="#f8ebc4" d="M607.3 336.9 610 334 612.7 337.8 615.4 334.8 618.1 338.1 615.1 340.9 612.4 336.8 609.7 336 607 336.7 604.3 339.4zM628.9 339.3 631.6 338 634.3 340.1 631.3 343.8 628.6 339.5 625.9 343.7zM661.3 342.8 664 343.7 666.7 345.5 663.7 349.3 661 349.1 658.3 348.2zM731.5 358 734.2 355.5 736.9 356.6 739.6 354.9 742.3 357.3 739.3 358.7 736.6 359.5 733.9 361.4 731.2 360 728.5 360.1z"/>
<path fill="#e0f0f5" d="M761.2 376.2 763.9 380.9 766.6 381.6 769.3 381.4 766.3 381.9 763.6 382.8 760.9 382.7 758.2 380.6zM780.1 376.4 782.8 391.3 779.8 392.9 777.1 378.8z"/>
<path fill="#e3f2f4" d="M769.3 381.4 772 379.9 774.7 380.9 777.4 377.7 774.4 379.7 771.7 379.8 769 379.3 766.3 381.9z"/>
<path fill="#f4f1d8" d="M577.3 333.3 580 335.8 582.7 338.8 579.6 341.9 576.9 338.4 574.2 336.3zM596.2 343.1 598.9 339.7 601.6 338.7 604.3 339.4 607 336.7 603.9 338.3 601.2 344.6 598.5 338 595.8 341.4 593.1 343.1zM615.1 340.9 617.8 346.5 614.7 347.4 612 343.2zM625.9 343.7 628.6 339.5 625.5 343 622.8 348.7zM631.3 343.8 634 346.5 636.7 343.3 639.4 348.2 636.3 349.6 633.6 346.1 630.9 346.2 628.2 346.5zM655.6 350.4 658.3 348.2 661 349.1 663.7 349.3 660.6 354.3 657.9 350.8 655.2 352.9 652.5 354.5zM728.5 360.1 731.2 360 733.9 361.4 736.6 359.5 733.5 363.8 730.8 365.5 728.1 364.2 725.4 365zM739.3 358.7 742 367.5 738.9 370.8 736.2 363.6z"/>
<path fill="#e5f3f2" d="M582.7 338.8 585.4 345.2 582.3 348.5 579.6 341.9zM588.1 348.7 590.8 341.7 587.7 344.7 585 352.4zM644.8 350.3 647.5 354.8 650.2 354.8 652.9 353.4 649.8 356.8 647.1 360.5 644.4 357 641.7 356.5zM677.2 358.7 679.9 362.3 682.6 359.7 679.5 362.8 676.8 365.9 674.1 361.2zM685.3 356.9 688 365.4 690.7 361.4 693.4 364.8 696.1 363.3 693 363.6 690.3 367.4 687.6 366.2 684.9 368.9 682.2 362zM704.2 363.5 706.9 367.5 709.6 363.2 706.5 365.2 703.8 369.2 701.1 364.4zM717.7 366.2 720.4 362.6 717.3 369.2 714.6 369zM747.4 368.2 750.1 375.9 752.8 374.9 755.5 373.9 752.4 376.8 749.7 375.4 747 377.2 744.3 366.1z"/>
<path fill="#e3f2f4" d="M585.4 345.2 588.1 348.7 585 352.4 582.3 348.5zM755.5 373.9 758.2 380.6 755.1 382.6 752.4 376.8zM766.3 381.9 769 379.3 771.7 379.8 774.4 379.7 777.1 378.8 774 381.1 771.3 384.3 768.6 385.6 765.9 382.9 763.2 383.9z"/>
<path fill="#ebf3ea" d="M590.8 341.7 593.5 341.1 596.2 343.1 593.1 343.1 590.4 343.4 587.7 344.7zM617.8 346.5 620.5 345 623.2 347.6 625.9 343.7 622.8 348.7 620.1 350.5 617.4 347 614.7 347.4zM639.4 348.2 642.1 348.9 644.8 350.3 641.7 356.5 639 351.6 636.3 349.6zM652.9 353.4 655.6 350.4 652.5 354.5 649.8 356.8zM663.7 349.3 666.4 355 669.1 352.8 671.8 357.1 674.5 355 677.2 358.7 674.1 361.2 671.4 358.3 668.7 359.1 666 357.1 663.3 360 660.6 354.3zM682.6 359.7 685.3 356.9 682.2 362 679.5 362.8zM696.1 363.3 698.8 362.8 701.5 363.1 704.2 363.5 701.1 364.4 698.4 364.1 695.7 361.9 693 363.6zM709.6 363.2 712.3 362.3 715 359.5 717.7 366.2 714.6 369 711.9 362.1 709.2 364.3 706.5 365.2zM720.4 362.6 723.1 363.9 725.8 363.7 728.5 360.1 725.4 365 722.7 369.2 720 367.4 717.3 369.2zM742 367.5 744.7 369.8 747.4 368.2 744.3 366.1 741.6 373 738.9 370.8z"/>
<path fill="#f8ebc4" d="M607 336.7 609.7 336 612.4 336.8 615.1 340.9 612 343.2 609.3 340.1 606.6 339.2 603.9 338.3zM628.6 339.5 631.3 343.8 628.2 346.5 625.5 343zM736.6 359.5 739.3 358.7 736.2 363.6 733.5 363.8z"/>
<path fill="#e0f0f5" d="M758.2 380.6 760.9 382.7 763.6 382.8 766.3 381.9 763.2 383.9 760.5 381.9 757.8 387.4 755.1 382.6zM777.1 378.8 779.8 392.9 776.7 393.7 774 381.1z"/>
<path fill="#f4f1d8" d="M574.2 336.3 576.9 338.4 573.8 341.7 571.1 339.5zM595.8 341.4 598.5 338 601.2 344.6 598.1 347.6 595.4 342.9 592.7 349.4zM603.9 338.3 606.6 339.2 609.3 340.1 612 343.2 608.9 348.1 606.2 340.4 603.5 349.9 600.8 351.8zM622.8 348.7 625.5 343 628.2 346.5 630.9 346.2 633.6 346.1 636.3 349.6 633.2 351.7 630.5 348.8 627.8 347.9 625.1 349.5 622.4 347.8 619.7 345.6zM655.2 352.9 657.9 350.8 654.8 357.4 652.1 354.4zM725.4 365 728.1 364.2 730.8 365.5 733.5 363.8 736.2 363.6 733.1 367.8 730.4 365.9 727.7 359.1 725 370 722.3 364.7z"/>
<path fill="#ebf3ea" d="M576.9 338.4 579.6 341.9 576.5 353.3 573.8 341.7zM590.4 343.4 593.1 343.1 595.8 341.4 592.7 349.4 590 350.2 587.3 347.9zM601.2 344.6 603.9 338.3 600.8 351.8 598.1 347.6zM612 343.2 614.7 347.4 617.4 347 620.1 350.5 622.8 348.7 619.7 345.6 617 355.7 614.3 353 611.6 355.4 608.9 348.1zM636.3 349.6 639 351.6 635.9 353.7 633.2 351.7zM652.5 354.5 655.2 352.9 652.1 354.4 649.4 364zM657.9 350.8 660.6 354.3 663.3 360 660.2 362.2 657.5 357.7 654.8 357.4zM666 357.1 668.7 359.1 671.4 358.3 674.1 361.2 671 363.7 668.3 359.8 665.6 361.9 662.9 359.1zM693 363.6 695.7 361.9 698.4 364.1 701.1 364.4 698 365.4 695.3 363.3 692.6 370.1 689.9 362.4zM706.5 365.2 709.2 364.3 711.9 362.1 714.6 369 711.5 370.6 708.8 360.6 706.1 369.2 703.4 364.3zM720 367.4 722.7 369.2 725.4 365 722.3 364.7 719.6 367.8 716.9 371.8zM736.2 363.6 738.9 370.8 741.6 373 744.3 366.1 747 377.2 743.9 378.9 741.2 368.4 738.5 372.5 735.8 370.8 733.1 367.8z"/>
<path fill="#e5f3f2" d="M579.6 341.9 582.3 348.5 579.2 350.1 576.5 353.3zM587.7 344.7 590.4 343.4 587.3 347.9 584.6 350.1zM639 351.6 641.7 356.5 644.4 357 647.1 360.5 644 363.5 641.3 357.4 638.6 360.1 635.9 353.7zM649.8 356.8 652.5 354.5 649.4 364 646.7 362.7zM663.3 360 666 357.1 662.9 359.1 660.2 362.2zM679.5 362.8 682.2 362 684.9 368.9 681.8 365.3 679.1 364.9 676.4 368.7zM687.6 366.2 690.3 367.4 693 363.6 689.9 362.4 687.2 365.2 684.5 369.8zM701.1 364.4 703.8 369.2 706.5 365.2 703.4 364.3 700.7 370.7 698 365.4zM714.6 369 717.3 369.2 720 367.4 716.9 371.8 714.2 367.1 711.5 370.6zM747 377.2 749.7 375.4 746.6 379.3 743.9 378.9z"/>
<path fill="#e3f2f4" d="M582.3 348.5 585 352.4 587.7 344.7 584.6 350.1 581.9 360.3 579.2 350.1zM647.1 360.5 649.8 356.8 646.7 362.7 644 363.5zM674.1 361.2 676.8 365.9 679.5 362.8 676.4 368.7 673.7 370.6 671 363.7zM684.9 368.9 687.6 366.2 684.5 369.8 681.8 365.3zM749.7 375.4 752.4 376.8 755.1 382.6 752 387.9 749.3 382.6 746.6 379.3zM771.3 384.3 774 381.1 770.9 384.3 768.2 385.2z"/>
<path fill="#e0f0f5" d="M755.1 382.6 757.8 387.4 760.5 381.9 763.2 383.9 765.9 382.9 768.6 385.6 771.3 384.3 768.2 385.2 765.5 387.9 762.8 383.9 760.1 390.1 757.4 389.3 754.7 386.9 752 387.9zM774 381.1 776.7 393.7 773.6 398.1 770.9 384.3z"/>
<path fill="#ebf3ea" d="M571.1 339.5 573.8 341.7 570.7 344.5 568 343zM595.4 342.9 598.1 347.6 600.8 351.8 603.5 349.9 600.4 347.9 597.7 346.2 595 346.2 592.3 354.1zM617 355.7 619.7 345.6 616.6 348 613.9 355.6zM633.2 351.7 635.9 353.7 632.8 357.8 630.1 350zM689.9 362.4 692.6 370.1 695.3 363.3 698 365.4 694.9 366.4 692.2 357.9 689.5 365.9 686.8 366.1zM700.7 370.7 703.4 364.3 700.3 362.2 697.6 369.4zM708.8 360.6 711.5 370.6 714.2 367.1 711.1 366.7 708.4 370.2 705.7 366zM719.6 367.8 722.3 364.7 725 370 727.7 359.1 724.6 371.9 721.9 372.3 719.2 370.4 716.5 371.5zM735.8 370.8 738.5 372.5 741.2 368.4 738.1 370.7 735.4 374.9 732.7 369.4z"/>
<path fill="#e5f3f2" d="M573.8 341.7 576.5 353.3 573.4 354.5 570.7 344.5zM587.3 347.9 590 350.2 592.7 349.4 595.4 342.9 592.3 354.1 589.6 352.7 586.9 351.6 584.2 359.7zM608.9 348.1 611.6 355.4 614.3 353 617 355.7 613.9 355.6 611.2 358.4 608.5 356.1 605.8 351.2zM635.9 353.7 638.6 360.1 635.5 362 632.8 357.8zM649.4 364 652.1 354.4 654.8 357.4 657.5 357.7 654.4 364 651.7 369.8 649 362.2 646.3 365zM662.9 359.1 665.6 361.9 662.5 369.1 659.8 366.1zM676.4 368.7 679.1 364.9 681.8 365.3 678.7 374 676 360.7 673.3 369.3zM684.5 369.8 687.2 365.2 689.9 362.4 686.8 366.1 684.1 375.3 681.4 366.3zM698 365.4 700.7 370.7 697.6 369.4 694.9 366.4zM714.2 367.1 716.9 371.8 719.6 367.8 716.5 371.5 713.8 379.4 711.1 366.7zM741.2 368.4 743.9 378.9 740.8 385.1 738.1 370.7z"/>
<path fill="#e0f0f5" d="M576.5 353.3 579.2 350.1 576.1 365.7 573.4 354.5zM581.9 360.3 584.6 350.1 581.5 359.2 578.8 362.6zM749.3 382.6 752 387.9 748.9 385.8 746.2 383.3zM760.1 390.1 762.8 383.9 759.7 387.9 757 392.2z"/>
<path fill="#d9edf4" d="M579.2 350.1 581.9 360.3 578.8 362.6 576.1 365.7zM752 387.9 754.7 386.9 757.4 389.3 760.1 390.1 757 392.2 754.3 388.9 751.6 397.3 748.9 385.8zM770.9 384.3 773.6 398.1 770.5 401.9 767.8 385.8z"/>
<path fill="#e3f2f4" d="M584.6 350.1 587.3 347.9 584.2 359.7 581.5 359.2zM638.6 360.1 641.3 357.4 644 363.5 646.7 362.7 649.4 364 646.3 365 643.6 366.1 640.9 366.5 638.2 366.2 635.5 362zM657.5 357.7 660.2 362.2 662.9 359.1 659.8 366.1 657.1 374.8 654.4 364zM665.6 361.9 668.3 359.8 671 363.7 673.7 370.6 676.4 368.7 673.3 369.3 670.6 372.2 667.9 371.2 665.2 373.6 662.5 369.1zM681.8 365.3 684.5 369.8 681.4 366.3 678.7 374zM743.9 378.9 746.6 379.3 749.3 382.6 746.2 383.3 743.5 382.2 740.8 385.1zM762.8 383.9 765.5 387.9 768.2 385.2 770.9 384.3 767.8 385.8 765.1 383 762.4 384.8 759.7 387.9z"/>
<path fill="#f4f1d8" d="M603.5 349.9 606.2 340.4 608.9 348.1 605.8 351.2 603.1 347.8 600.4 347.9zM619.7 345.6 622.4 347.8 625.1 349.5 627.8 347.9 630.5 348.8 633.2 351.7 630.1 350 627.4 354.8 624.7 350.7 622 350.1 619.3 351.6 616.6 348zM703.4 364.3 706.1 369.2 708.8 360.6 705.7 366 703 361.8 700.3 362.2zM727.7 359.1 730.4 365.9 733.1 367.8 735.8 370.8 732.7 369.4 730 365.1 727.3 369.1 724.6 371.9z"/>
<path fill="#ebf3ea" d="M568 343 570.7 344.5 567.6 352 564.9 348.6zM616.6 348 619.3 351.6 622 350.1 618.9 362.4 616.2 358.6 613.5 360.3zM692.2 357.9 694.9 366.4 691.8 372.8 689.1 375.3zM700.3 362.2 703 361.8 705.7 366 702.6 371.1 699.9 370.4 697.2 371.6zM721.9 372.3 724.6 371.9 727.3 369.1 724.2 373.2 721.5 369.5 718.8 375.8zM730 365.1 732.7 369.4 729.6 380 726.9 373.4z"/>
<path fill="#e3f2f4" d="M570.7 344.5 573.4 354.5 570.3 362.5 567.6 352zM592.3 354.1 595 346.2 591.9 364.3 589.2 364.7zM605.8 351.2 608.5 356.1 611.2 358.4 613.9 355.6 610.8 368.9 608.1 359 605.4 365.5 602.7 363.6zM632.8 357.8 635.5 362 632.4 367.1 629.7 371.3zM673.3 369.3 676 360.7 672.9 379.2 670.2 382.1zM686.8 366.1 689.5 365.9 686.4 380.7 683.7 375.5zM738.1 370.7 740.8 385.1 737.7 385.7 735 382.8z"/>
<path fill="#d9edf4" d="M573.4 354.5 576.1 365.7 573 370.5 570.3 362.5zM578.8 362.6 581.5 359.2 584.2 359.7 581.1 361 578.4 367.5 575.7 366.3zM638.2 366.2 640.9 366.5 643.6 366.1 646.3 365 643.2 384.2 640.5 388.2 637.8 379.2 635.1 386.2zM654.4 364 657.1 374.8 659.8 366.1 656.7 382.5 654 384.1 651.3 378.5zM662.5 369.1 665.2 373.6 667.9 371.2 670.6 372.2 673.3 369.3 670.2 382.1 667.5 384.5 664.8 381.7 662.1 385.6 659.4 380.3zM678.7 374 681.4 366.3 678.3 379.3 675.6 393.7zM748.9 385.8 751.6 397.3 748.5 395.7 745.8 395.2zM757 392.2 759.7 387.9 756.6 397 753.9 403zM767.8 385.8 770.5 401.9 767.4 404.4 764.7 395.4z"/>
<path fill="#d2e9f2" d="M576.1 365.7 578.8 362.6 575.7 366.3 573 370.5zM751.6 397.3 754.3 388.9 757 392.2 753.9 403 751.2 401.7 748.5 395.7z"/>
<path fill="#e0f0f5" d="M584.2 359.7 586.9 351.6 589.6 352.7 592.3 354.1 589.2 364.7 586.5 367.4 583.8 365.3 581.1 361zM635.5 362 638.2 366.2 635.1 386.2 632.4 367.1zM646.3 365 649 362.2 651.7 369.8 654.4 364 651.3 378.5 648.6 377 645.9 378.6 643.2 384.2zM659.8 366.1 662.5 369.1 659.4 380.3 656.7 382.5zM676 360.7 678.7 374 675.6 393.7 672.9 379.2zM681.4 366.3 684.1 375.3 686.8 366.1 683.7 375.5 681 384.1 678.3 379.3zM711.1 366.7 713.8 379.4 716.5 371.5 713.4 382.8 710.7 394.4 708 380.2zM740.8 385.1 743.5 382.2 746.2 383.3 748.9 385.8 745.8 395.2 743.1 389.6 740.4 393.2 737.7 385.7zM759.7 387.9 762.4 384.8 765.1 383 767.8 385.8 764.7 395.4 762 396.7 759.3 396.7 756.6 397z"/>
<path fill="#e5f3f2" d="M595 346.2 597.7 346.2 600.4 347.9 603.1 347.8 605.8 351.2 602.7 363.6 600 361.5 597.3 366.2 594.6 363.3 591.9 364.3zM613.9 355.6 616.6 348 613.5 360.3 610.8 368.9zM622 350.1 624.7 350.7 627.4 354.8 630.1 350 632.8 357.8 629.7 371.3 627 367.9 624.3 358.5 621.6 365.2 618.9 362.4zM689.5 365.9 692.2 357.9 689.1 375.3 686.4 380.7zM694.9 366.4 697.6 369.4 700.3 362.2 697.2 371.6 694.5 382.5 691.8 372.8zM705.7 366 708.4 370.2 711.1 366.7 708 380.2 705.3 378.6 702.6 371.1zM716.5 371.5 719.2 370.4 721.9 372.3 718.8 375.8 716.1 380.2 713.4 382.8zM732.7 369.4 735.4 374.9 738.1 370.7 735 382.8 732.3 385.6 729.6 380z"/>
<path fill="#f4f1d8" d="M727.3 369.1 730 365.1 726.9 373.4 724.2 373.2z"/>
<path fill="#e3f2f4" d="M564.9 348.6 567.6 352 564.6 361.5 561.9 356.5zM697.2 371.6 699.9 370.4 702.6 371.1 699.6 381.2 696.9 382 694.2 386.8zM718.8 375.8 721.5 369.5 718.5 382.4 715.8 392.5zM724.2 373.2 726.9 373.4 729.6 380 726.6 395 723.9 386.7 721.2 391.2z"/>
<path fill="#e0f0f5" d="M567.6 352 570.3 362.5 567.3 367.5 564.6 361.5zM613.5 360.3 616.2 358.6 618.9 362.4 615.9 373.8 613.2 370.9 610.5 371.6zM621.6 365.2 624.3 358.5 627 367.9 624 385.3 621.3 371.6 618.6 382.5zM689.1 375.3 691.8 372.8 694.5 382.5 697.2 371.6 694.2 386.8 691.5 386.7 688.8 384.2 686.1 388.7zM702.6 371.1 705.3 378.6 702.3 393.4 699.6 381.2zM716.1 380.2 718.8 375.8 715.8 392.5 713.1 389.4zM729.6 380 732.3 385.6 735 382.8 737.7 385.7 734.7 392.3 732 387 729.3 388.9 726.6 395z"/>
<path fill="#d2e9f2" d="M570.3 362.5 573 370.5 570 369.7 567.3 367.5zM575.7 366.3 578.4 367.5 581.1 361 583.8 365.3 580.8 370.7 578.1 378.5 575.4 368.7 572.7 377.4zM586.5 367.4 589.2 364.7 591.9 364.3 588.9 376.5 586.2 374.5 583.5 368.3zM627 367.9 629.7 371.3 626.7 380.1 624 385.3zM681 384.1 683.7 375.5 680.7 391.6 678 399zM708 380.2 710.7 394.4 713.4 382.8 710.4 393.3 707.7 399.6 705 389.2zM743.1 389.6 745.8 395.2 742.8 409.4 740.1 400.1zM759.3 396.7 762 396.7 764.7 395.4 761.7 407.8 759 399.7 756.3 413.7z"/>
<path fill="#c4e0ee" d="M573 370.5 575.7 366.3 572.7 377.4 570 369.7zM632.4 367.1 635.1 386.2 632.1 388.6 629.4 384.9zM645.9 378.6 648.6 377 651.3 378.5 648.3 391.4 645.6 392.1 642.9 394.4zM654 384.1 656.7 382.5 659.4 380.3 662.1 385.6 664.8 381.7 667.5 384.5 670.2 382.1 672.9 379.2 669.9 394.9 667.2 397.8 664.5 394.5 661.8 390 659.1 388 656.4 393.3 653.7 387.3 651 398.1zM678.3 379.3 681 384.1 678 399 675.3 396.6zM745.8 395.2 748.5 395.7 745.5 409.1 742.8 409.4zM753.9 403 756.6 397 759.3 396.7 756.3 413.7 753.6 410.2 750.9 407.6zM764.7 395.4 767.4 404.4 764.4 410.2 761.7 407.8z"/>
<path fill="#d9edf4" d="M583.8 365.3 586.5 367.4 583.5 368.3 580.8 370.7zM591.9 364.3 594.6 363.3 597.3 366.2 600 361.5 602.7 363.6 605.4 365.5 608.1 359 610.8 368.9 613.5 360.3 610.5 371.6 607.8 375.4 605.1 372.7 602.4 375.6 599.7 371.3 597 372.1 594.3 370.7 591.6 368.2 588.9 376.5zM618.9 362.4 621.6 365.2 618.6 382.5 615.9 373.8zM629.7 371.3 632.4 367.1 629.4 384.9 626.7 380.1zM683.7 375.5 686.4 380.7 689.1 375.3 686.1 388.7 683.4 388.3 680.7 391.6zM705.3 378.6 708 380.2 705 389.2 702.3 393.4zM713.4 382.8 716.1 380.2 713.1 389.4 710.4 393.3zM737.7 385.7 740.4 393.2 743.1 389.6 740.1 400.1 737.4 394.1 734.7 392.3z"/>
<path fill="#b6d8eb" d="M635.1 386.2 637.8 379.2 640.5 388.2 637.5 395.6 634.8 393.2 632.1 388.6zM643.2 384.2 645.9 378.6 642.9 394.4 640.2 394.1zM651.3 378.5 654 384.1 651 398.1 648.3 391.4zM672.9 379.2 675.6 393.7 678.3 379.3 675.3 396.6 672.6 404.2 669.9 394.9zM748.5 395.7 751.2 401.7 753.9 403 750.9 407.6 748.2 414.8 745.5 409.1z"/>
<path fill="#acd2e8" d="M640.5 388.2 643.2 384.2 640.2 394.1 637.5 395.6z"/>
<path fill="#e5f3f2" d="M721.5 369.5 724.2 373.2 721.2 391.2 718.5 382.4z"/>
<path fill="#d9edf4" d="M561.9 356.5 564.6 361.5 567.3 367.5 564.2 370.8 561.5 366.6 558.8 369.1zM696.9 382 699.6 381.2 696.5 401.9 693.8 391.8z"/>
<path fill="#c4e0ee" d="M567.3 367.5 570 369.7 566.9 386.2 564.2 370.8zM575.4 368.7 578.1 378.5 580.8 370.7 583.5 368.3 580.4 387.5 577.7 381.7 575 374.1 572.3 380.5zM588.9 376.5 591.6 368.2 588.5 382.6 585.8 381zM599.7 371.3 602.4 375.6 605.1 372.7 607.8 375.4 610.5 371.6 607.4 385 604.7 384.5 602 382.5 599.3 383.3 596.6 380zM615.9 373.8 618.6 382.5 621.3 371.6 624 385.3 620.9 391.8 618.2 386.4 615.5 389.5 612.8 387.3zM686.1 388.7 688.8 384.2 691.5 386.7 694.2 386.8 691.1 400.9 688.4 405.2 685.7 398.8 683 404.9zM699.6 381.2 702.3 393.4 699.2 409.2 696.5 401.9zM710.4 393.3 713.1 389.4 715.8 392.5 712.7 403.2 710 402.6 707.3 411.7zM723.9 386.7 726.6 395 729.3 388.9 726.2 409 723.5 411 720.8 404.4zM734.7 392.3 737.4 394.1 740.1 400.1 737 406 734.3 413 731.6 406.9z"/>
<path fill="#b6d8eb" d="M570 369.7 572.7 377.4 575.4 368.7 572.3 380.5 569.6 383.6 566.9 386.2zM583.5 368.3 586.2 374.5 588.9 376.5 585.8 381 583.1 384.4 580.4 387.5zM624 385.3 626.7 380.1 629.4 384.9 626.3 389.4 623.6 392.6 620.9 391.8zM680.7 391.6 683.4 388.3 686.1 388.7 683 404.9 680.3 401.5 677.6 399.4zM702.3 393.4 705 389.2 707.7 399.6 710.4 393.3 707.3 411.7 704.6 402.9 701.9 404.3 699.2 409.2zM740.1 400.1 742.8 409.4 739.7 417.5 737 406zM759 399.7 761.7 407.8 758.6 416.3 755.9 415.3z"/>
<path fill="#d2e9f2" d="M591.6 368.2 594.3 370.7 597 372.1 599.7 371.3 596.6 380 593.9 379.3 591.2 372.3 588.5 382.6zM610.5 371.6 613.2 370.9 615.9 373.8 612.8 387.3 610.1 383.5 607.4 385zM694.2 386.8 696.9 382 693.8 391.8 691.1 400.9zM715.8 392.5 718.5 382.4 721.2 391.2 723.9 386.7 720.8 404.4 718.1 401.7 715.4 398.1 712.7 403.2zM729.3 388.9 732 387 734.7 392.3 731.6 406.9 728.9 400.3 726.2 409z"/>
<path fill="#acd2e8" d="M629.4 384.9 632.1 388.6 629 402.4 626.3 389.4zM645.6 392.1 648.3 391.4 645.2 401.1 642.5 399.6zM653.7 387.3 656.4 393.3 659.1 388 661.8 390 664.5 394.5 661.4 404.5 658.7 403.2 656 402 653.3 399.9 650.6 401.6zM667.2 397.8 669.9 394.9 666.8 400.7 664.1 405.6zM678 399 680.7 391.6 677.6 399.4 674.9 404.3zM750.9 407.6 753.6 410.2 750.5 415.1 747.8 420zM756.3 413.7 759 399.7 755.9 415.3 753.2 426.2zM761.7 407.8 764.4 410.2 761.3 416.9 758.6 416.3z"/>
<path fill="#a2cce5" d="M632.1 388.6 634.8 393.2 631.7 407.7 629 402.4zM637.5 395.6 640.2 394.1 642.9 394.4 645.6 392.1 642.5 399.6 639.8 400.4 637.1 400.4 634.4 400.9zM648.3 391.4 651 398.1 653.7 387.3 650.6 401.6 647.9 409.3 645.2 401.1zM664.5 394.5 667.2 397.8 664.1 405.6 661.4 404.5zM669.9 394.9 672.6 404.2 669.5 413.5 666.8 400.7zM675.3 396.6 678 399 674.9 404.3 672.2 408.7zM742.8 409.4 745.5 409.1 748.2 414.8 750.9 407.6 747.8 420 745.1 423.5 742.4 421.5 739.7 417.5zM753.6 410.2 756.3 413.7 753.2 426.2 750.5 415.1z"/>
<path fill="#9bc7e3" d="M634.8 393.2 637.5 395.6 634.4 400.9 631.7 407.7zM672.6 404.2 675.3 396.6 672.2 408.7 669.5 413.5z"/>
<path fill="#b6d8eb" d="M558.8 369.1 561.5 366.6 558.4 378.5 555.7 391.8zM591.2 372.3 593.9 379.3 596.6 380 593.5 386.3 590.8 393.1 588.1 395.2zM607.4 385 610.1 383.5 607 391.5 604.3 392.5zM691.1 400.9 693.8 391.8 690.7 407.9 688 405.1zM715.4 398.1 718.1 401.7 715 415 712.3 411.3z"/>
<path fill="#c4e0ee" d="M561.5 366.6 564.2 370.8 561.1 376.5 558.4 378.5z"/>
<path fill="#acd2e8" d="M564.2 370.8 566.9 386.2 563.8 390 561.1 376.5zM572.3 380.5 575 374.1 577.7 381.7 580.4 387.5 583.1 384.4 585.8 381 582.7 400.1 580 386.2 577.3 389 574.6 389.2 571.9 395.3 569.2 392.7zM588.5 382.6 591.2 372.3 588.1 395.2 585.4 396.1zM596.6 380 599.3 383.3 596.2 402.4 593.5 386.3zM604.7 384.5 607.4 385 604.3 392.5 601.6 402.9zM610.1 383.5 612.8 387.3 609.7 398.5 607 391.5zM683 404.9 685.7 398.8 688.4 405.2 691.1 400.9 688 405.1 685.3 408.9 682.6 409.5 679.9 404.5zM693.8 391.8 696.5 401.9 693.4 410.9 690.7 407.9zM710 402.6 712.7 403.2 715.4 398.1 712.3 411.3 709.6 412.9 706.9 418.6zM718.1 401.7 720.8 404.4 723.5 411 720.4 420.4 717.7 409.8 715 415zM726.2 409 728.9 400.3 731.6 406.9 734.3 413 737 406 733.9 419.2 731.2 417.1 728.5 416.2 725.8 418.7 723.1 421.1z"/>
<path fill="#9bc7e3" d="M566.9 386.2 569.6 383.6 566.5 400.8 563.8 390zM620.9 391.8 623.6 392.6 620.5 408.1 617.8 404.2zM626.3 389.4 629 402.4 625.9 412.6 623.2 401.8zM650.6 401.6 653.3 399.9 656 402 652.9 413.6 650.2 408 647.5 408.4zM677.6 399.4 680.3 401.5 677.2 420.3 674.5 414zM699.2 409.2 701.9 404.3 698.8 419.3 696.1 415.9zM737 406 739.7 417.5 736.6 436.3 733.9 419.2zM747.8 420 750.5 415.1 747.4 430.1 744.7 430.4zM755.9 415.3 758.6 416.3 755.5 429.6 752.8 430.6z"/>
<path fill="#a2cce5" d="M569.6 383.6 572.3 380.5 569.2 392.7 566.5 400.8zM585.8 381 588.5 382.6 585.4 396.1 582.7 400.1zM599.3 383.3 602 382.5 604.7 384.5 601.6 402.9 598.9 397 596.2 402.4zM612.8 387.3 615.5 389.5 618.2 386.4 620.9 391.8 617.8 404.2 615.1 403.1 612.4 402.8 609.7 398.5zM623.6 392.6 626.3 389.4 623.2 401.8 620.5 408.1zM674.9 404.3 677.6 399.4 674.5 414 671.8 413.2zM680.3 401.5 683 404.9 679.9 404.5 677.2 420.3zM696.5 401.9 699.2 409.2 696.1 415.9 693.4 410.9zM701.9 404.3 704.6 402.9 707.3 411.7 710 402.6 706.9 418.6 704.2 415.8 701.5 420.8 698.8 419.3zM723.5 411 726.2 409 723.1 421.1 720.4 420.4zM758.6 416.3 761.3 416.9 758.2 425.2 755.5 429.6z"/>
<path fill="#8ebee0" d="M629 402.4 631.7 407.7 628.6 409.7 625.9 412.6zM669.5 413.5 672.2 408.7 669.1 419.9 666.4 429.6z"/>
<path fill="#94c3e2" d="M631.7 407.7 634.4 400.9 637.1 400.4 639.8 400.4 642.5 399.6 645.2 401.1 647.9 409.3 650.6 401.6 647.5 408.4 644.8 411.1 642.1 413.7 639.4 414.1 636.7 414.8 634 408.3 631.3 412.8 628.6 409.7zM656 402 658.7 403.2 661.4 404.5 664.1 405.6 666.8 400.7 669.5 413.5 666.4 429.6 663.7 412.7 661 423.3 658.3 416.6 655.6 419.8 652.9 413.6zM672.2 408.7 674.9 404.3 671.8 413.2 669.1 419.9zM739.7 417.5 742.4 421.5 745.1 423.5 747.8 420 744.7 430.4 742 428.5 739.3 428 736.6 436.3zM750.5 415.1 753.2 426.2 755.9 415.3 752.8 430.6 750.1 436.1 747.4 430.1z"/>
<path fill="#a2cce5" d="M555.7 391.8 558.4 378.5 555.3 390.9 552.6 394.3zM688 405.1 690.7 407.9 693.4 410.9 690.3 414.2 687.6 415.9 684.9 417z"/>
<path fill="#acd2e8" d="M558.4 378.5 561.1 376.5 558 396.2 555.3 390.9z"/>
<path fill="#9bc7e3" d="M561.1 376.5 563.8 390 560.7 405.1 558 396.2zM571.9 395.3 574.6 389.2 577.3 389 580 386.2 576.9 404.6 574.2 402.3 571.5 398.6 568.8 398.1zM590.8 393.1 593.5 386.3 596.2 402.4 593.1 401 590.4 400.8 587.7 406.9zM604.3 392.5 607 391.5 609.7 398.5 606.6 408.3 603.9 402.3 601.2 408zM679.9 404.5 682.6 409.5 685.3 408.9 688 405.1 684.9 417 682.2 419.2 679.5 417.1 676.8 415.3zM706.9 418.6 709.6 412.9 712.3 411.3 715 415 717.7 409.8 720.4 420.4 717.3 431.2 714.6 418.2 711.9 425.8 709.2 420.6 706.5 422.4 703.8 421.5zM731.2 417.1 733.9 419.2 730.8 432.6 728.1 423.5z"/>
<path fill="#8ebee0" d="M563.8 390 566.5 400.8 569.2 392.7 566.1 405.1 563.4 404.3 560.7 405.1zM598.9 397 601.6 402.9 598.5 416.6 595.8 406.2zM609.7 398.5 612.4 402.8 615.1 403.1 612 409.2 609.3 417.6 606.6 408.3zM623.2 401.8 625.9 412.6 622.8 426.4 620.1 410.2zM642.1 413.7 644.8 411.1 647.5 408.4 644.4 416.1 641.7 417.7 639 420.4zM650.2 408 652.9 413.6 649.8 430 647.1 417.5zM671.8 413.2 674.5 414 677.2 420.3 674.1 425.4 671.4 423.1 668.7 429.2zM696.1 415.9 698.8 419.3 701.5 420.8 704.2 415.8 701.1 434.2 698.4 428 695.7 425.5 693 432.3zM755.5 429.6 758.2 425.2 755.1 433.8 752.4 442.3z"/>
<path fill="#94c3e2" d="M569.2 392.7 571.9 395.3 568.8 398.1 566.1 405.1zM580 386.2 582.7 400.1 585.4 396.1 588.1 395.2 590.8 393.1 587.7 406.9 585 403.6 582.3 401.5 579.6 404.2 576.9 404.6zM596.2 402.4 598.9 397 595.8 406.2 593.1 401zM601.6 402.9 604.3 392.5 601.2 408 598.5 416.6zM615.1 403.1 617.8 404.2 620.5 408.1 623.2 401.8 620.1 410.2 617.4 406.2 614.7 410.7 612 409.2zM647.5 408.4 650.2 408 647.1 417.5 644.4 416.1zM677.2 420.3 679.9 404.5 676.8 415.3 674.1 425.4zM693.4 410.9 696.1 415.9 693 432.3 690.3 414.2zM704.2 415.8 706.9 418.6 703.8 421.5 701.1 434.2zM720.4 420.4 723.1 421.1 725.8 418.7 728.5 416.2 731.2 417.1 728.1 423.5 725.4 436.6 722.7 424.9 720 426.6 717.3 431.2z"/>
<path fill="#86b7dc" d="M625.9 412.6 628.6 409.7 631.3 412.8 634 408.3 636.7 414.8 639.4 414.1 642.1 413.7 639 420.4 636.3 425.1 633.6 419.5 630.9 422.8 628.2 417.9 625.5 418 622.8 426.4zM652.9 413.6 655.6 419.8 658.3 416.6 661 423.3 663.7 412.7 660.6 421.9 657.9 424.6 655.2 426.2 652.5 420.7 649.8 430zM669.1 419.9 671.8 413.2 668.7 429.2 666 427.8zM733.9 419.2 736.6 436.3 733.5 447.2 730.8 432.6zM739.3 428 742 428.5 744.7 430.4 747.4 430.1 750.1 436.1 752.8 430.6 755.5 429.6 752.4 442.3 749.7 446.3 747 441.5 744.3 438.6 741.6 439.1 738.9 441.9 736.2 441.3z"/>
<path fill="#7eb0d9" d="M663.7 412.7 666.4 429.6 663.3 438.2 660.6 421.9zM736.6 436.3 739.3 428 736.2 441.3 733.5 447.2z"/>
<path fill="#75a8d5" d="M666.4 429.6 669.1 419.9 666 427.8 663.3 438.2z"/>
<path fill="#9bc7e3" d="M552.6 394.3 555.3 390.9 552.2 396.1 549.6 397.7zM687.6 415.9 690.3 414.2 687.2 423.8 684.5 416.4z"/>
<path fill="#94c3e2" d="M555.3 390.9 558 396.2 554.9 401.2 552.2 396.1zM590.4 400.8 593.1 401 590 411.1 587.3 405.6zM684.9 417 687.6 415.9 684.5 416.4 681.8 427.2zM703.8 421.5 706.5 422.4 703.4 432.6 700.7 422.2z"/>
<path fill="#8ebee0" d="M558 396.2 560.7 405.1 557.6 409.5 554.9 401.2zM568.8 398.1 571.5 398.6 574.2 402.3 576.9 404.6 573.8 407.1 571.1 410.2 568.4 405.3 565.7 414.5zM587.7 406.9 590.4 400.8 587.3 405.6 584.6 413.5zM593.1 401 595.8 406.2 592.7 413.3 590 411.1zM601.2 408 603.9 402.3 606.6 408.3 603.5 413.6 600.8 412.1 598.1 415.1zM612 409.2 614.7 410.7 617.4 406.2 620.1 410.2 617 409.3 614.3 418.9 611.6 416.8 608.9 411.2zM676.8 415.3 679.5 417.1 676.4 429.6 673.7 432.1zM682.2 419.2 684.9 417 681.8 427.2 679.1 436.9zM701.1 434.2 703.8 421.5 700.7 422.2 698 433.6zM706.5 422.4 709.2 420.6 711.9 425.8 714.6 418.2 717.3 431.2 714.2 434.4 711.5 429.9 708.8 435.2 706.1 427.4 703.4 432.6zM720 426.6 722.7 424.9 719.6 437.7 716.9 432.6zM725.4 436.6 728.1 423.5 730.8 432.6 727.7 440.3 725 432 722.3 436.5z"/>
<path fill="#7eb0d9" d="M560.7 405.1 563.4 404.3 560.3 417.3 557.6 409.5zM625.5 418 628.2 417.9 630.9 422.8 627.8 419.5 625.1 421.5 622.4 424.4zM633.6 419.5 636.3 425.1 639 420.4 635.9 421.3 633.2 424.3 630.5 418.3zM647.1 417.5 649.8 430 652.5 420.7 649.4 426.2 646.7 424 644 425.5zM655.2 426.2 657.9 424.6 660.6 421.9 657.5 431.8 654.8 428.2 652.1 421.7zM666 427.8 668.7 429.2 671.4 423.1 674.1 425.4 671 434.4 668.3 429.3 665.6 427.9 662.9 431.7zM693 432.3 695.7 425.5 692.6 430.7 689.9 438.1zM698.4 428 701.1 434.2 698 433.6 695.3 433.8zM736.2 441.3 738.9 441.9 741.6 439.1 744.3 438.6 747 441.5 743.9 451.3 741.2 442.4 738.5 442.2 735.8 438.8 733.1 446.6zM752.4 442.3 755.1 433.8 752 442.7 749.3 447.2z"/>
<path fill="#86b7dc" d="M563.4 404.3 566.1 405.1 568.8 398.1 565.7 414.5 563 405 560.3 417.3zM576.9 404.6 579.6 404.2 582.3 401.5 585 403.6 587.7 406.9 584.6 413.5 581.9 418.6 579.2 412.5 576.5 417.4 573.8 407.1zM595.8 406.2 598.5 416.6 601.2 408 598.1 415.1 595.4 417.7 592.7 413.3zM606.6 408.3 609.3 417.6 612 409.2 608.9 411.2 606.2 422.1 603.5 413.6zM620.1 410.2 622.8 426.4 619.7 424.2 617 409.3zM630.9 422.8 633.6 419.5 630.5 418.3 627.8 419.5zM639 420.4 641.7 417.7 644.4 416.1 647.1 417.5 644 425.5 641.3 418.8 638.6 423.8 635.9 421.3zM652.5 420.7 655.2 426.2 652.1 421.7 649.4 426.2zM674.1 425.4 676.8 415.3 673.7 432.1 671 434.4zM679.5 417.1 682.2 419.2 679.1 436.9 676.4 429.6zM690.3 414.2 693 432.3 689.9 438.1 687.2 423.8zM695.7 425.5 698.4 428 695.3 433.8 692.6 430.7zM717.3 431.2 720 426.6 716.9 432.6 714.2 434.4zM722.7 424.9 725.4 436.6 722.3 436.5 719.6 437.7z"/>
<path fill="#75a8d5" d="M622.8 426.4 625.5 418 622.4 424.4 619.7 424.2zM660.6 421.9 663.3 438.2 666 427.8 662.9 431.7 660.2 433.7 657.5 431.8zM730.8 432.6 733.5 447.2 736.2 441.3 733.1 446.6 730.4 446.5 727.7 440.3zM747 441.5 749.7 446.3 752.4 442.3 749.3 447.2 746.6 449.7 743.9 451.3z"/>
<path fill="#94c3e2" d="M549.6 397.7 552.2 396.1 549.2 398.3 546.5 395.9z"/>
<path fill="#8ebee0" d="M552.2 396.1 554.9 401.2 551.9 415.1 549.2 398.3zM587.3 405.6 590 411.1 587 413.8 584.3 410.3zM598.1 415.1 600.8 412.1 603.5 413.6 600.5 416.2 597.8 410.5 595.1 411.1zM681.8 427.2 684.5 416.4 687.2 423.8 684.2 432.5 681.5 426.1 678.8 426.2zM698 433.6 700.7 422.2 697.7 434.1 695 429.8zM722.3 436.5 725 432 722 431.6 719.3 434.7z"/>
<path fill="#7eb0d9" d="M554.9 401.2 557.6 409.5 554.6 423.1 551.9 415.1zM563 405 565.7 414.5 568.4 405.3 571.1 410.2 573.8 407.1 576.5 417.4 573.5 418.2 570.8 421.7 568.1 418.5 565.4 413.7 562.7 413.2 560 419.4zM579.2 412.5 581.9 418.6 584.6 413.5 581.6 419.1 578.9 416.6 576.2 420.3zM590 411.1 592.7 413.3 595.4 417.7 598.1 415.1 595.1 411.1 592.4 422.9 589.7 424.4 587 413.8zM603.5 413.6 606.2 422.1 608.9 411.2 605.9 421.9 603.2 421.7 600.5 416.2zM617 409.3 619.7 424.2 616.7 433.4 614 423zM625.1 421.5 627.8 419.5 624.8 428.4 622.1 423.6zM635.9 421.3 638.6 423.8 635.6 425.2 632.9 427.6zM644 425.5 646.7 424 649.4 426.2 652.1 421.7 654.8 428.2 651.8 429 649.1 432.3 646.4 431.3 643.7 431.9 641 423.4zM662.9 431.7 665.6 427.9 668.3 429.3 671 434.4 673.7 432.1 676.4 429.6 673.4 437.4 670.7 428.5 668 431.7 665.3 431.5 662.6 427.6 659.9 434.8zM679.1 436.9 681.8 427.2 678.8 426.2 676.1 433.9zM687.2 423.8 689.9 438.1 692.6 430.7 695.3 433.8 692.3 434.9 689.6 435.9 686.9 437.5 684.2 432.5zM735.8 438.8 738.5 442.2 735.5 447.7 732.8 446.3z"/>
<path fill="#70a5d2" d="M557.6 409.5 560.3 417.3 557.3 423.1 554.6 423.1zM657.5 431.8 660.2 433.7 657.2 437.8 654.5 440.3zM741.2 442.4 743.9 451.3 746.6 449.7 749.3 447.2 746.3 453.2 743.6 455.2 740.9 458.5 738.2 451.4z"/>
<path fill="#75a8d5" d="M560.3 417.3 563 405 560 419.4 557.3 423.1zM576.5 417.4 579.2 412.5 576.2 420.3 573.5 418.2zM619.7 424.2 622.4 424.4 625.1 421.5 622.1 423.6 619.4 431.3 616.7 433.4zM654.8 428.2 657.5 431.8 654.5 440.3 651.8 429zM660.2 433.7 662.9 431.7 659.9 434.8 657.2 437.8zM676.4 429.6 679.1 436.9 676.1 433.9 673.4 437.4zM727.7 440.3 730.4 446.5 733.1 446.6 735.8 438.8 732.8 446.3 730.1 448.6 727.4 447.1 724.7 443.9zM738.5 442.2 741.2 442.4 738.2 451.4 735.5 447.7zM749.3 447.2 752 442.7 749 452.4 746.3 453.2z"/>
<path fill="#86b7dc" d="M584.6 413.5 587.3 405.6 584.3 410.3 581.6 419.1zM608.9 411.2 611.6 416.8 614.3 418.9 617 409.3 614 423 611.3 412.3 608.6 422.2 605.9 421.9zM627.8 419.5 630.5 418.3 633.2 424.3 635.9 421.3 632.9 427.6 630.2 416.6 627.5 420.2 624.8 428.4zM638.6 423.8 641.3 418.8 644 425.5 641 423.4 638.3 417.4 635.6 425.2zM695.3 433.8 698 433.6 695 429.8 692.3 434.9zM700.7 422.2 703.4 432.6 706.1 427.4 708.8 435.2 711.5 429.9 714.2 434.4 716.9 432.6 719.6 437.7 722.3 436.5 719.3 434.7 716.6 430.2 713.9 438 711.2 441.3 708.5 435.8 705.8 431.2 703.1 434.4 700.4 434.8 697.7 434.1zM725 432 727.7 440.3 724.7 443.9 722 431.6z"/>
<path fill="#94c3e2" d="M546.5 395.9 549.2 398.3 546.1 403.8 543.4 398.4z"/>
<path fill="#8ebee0" d="M549.2 398.3 551.9 415.1 548.8 404.9 546.1 403.8zM678.8 426.2 681.5 426.1 678.4 429.2 675.7 430zM713.9 438 716.6 430.2 719.3 434.7 722 431.6 718.9 433.2 716.2 437.2 713.5 428.4 710.8 438.7z"/>
<path fill="#75a8d5" d="M551.9 415.1 554.6 423.1 551.5 416.7 548.8 404.9zM560 419.4 562.7 413.2 565.4 413.7 568.1 418.5 570.8 421.7 573.5 418.2 570.4 426.9 567.7 421.5 565 418 562.3 420.4 559.6 425.3 556.9 420.4zM576.2 420.3 578.9 416.6 575.8 425.2 573.1 426.7zM589.7 424.4 592.4 422.9 589.3 428.4 586.6 422.9zM614 423 616.7 433.4 613.6 435 610.9 425.6zM619.4 431.3 622.1 423.6 619 429.6 616.3 426.9zM641 423.4 643.7 431.9 640.6 437.7 637.9 430.2zM646.4 431.3 649.1 432.3 646 433.8 643.3 438.2zM651.8 429 654.5 440.3 651.4 433.4 648.7 425.9zM665.3 431.5 668 431.7 664.9 439.9 662.2 434.8zM684.2 432.5 686.9 437.5 689.6 435.9 692.3 434.9 689.2 443.6 686.5 442.5 683.8 450.5 681.1 432.8zM724.7 443.9 727.4 447.1 730.1 448.6 732.8 446.3 735.5 447.7 732.4 451.4 729.7 448.3 727 450.7 724.3 449.9 721.6 442.9z"/>
<path fill="#70a5d2" d="M554.6 423.1 557.3 423.1 560 419.4 556.9 420.4 554.2 422.3 551.5 416.7zM573.5 418.2 576.2 420.3 573.1 426.7 570.4 426.9zM616.7 433.4 619.4 431.3 616.3 426.9 613.6 435zM643.7 431.9 646.4 431.3 643.3 438.2 640.6 437.7zM654.5 440.3 657.2 437.8 659.9 434.8 656.8 436.4 654.1 444.4 651.4 433.4zM735.5 447.7 738.2 451.4 735.1 459.5 732.4 451.4z"/>
<path fill="#7eb0d9" d="M578.9 416.6 581.6 419.1 578.5 415 575.8 425.2zM587 413.8 589.7 424.4 586.6 422.9 583.9 415.7zM592.4 422.9 595.1 411.1 592 423 589.3 428.4zM600.5 416.2 603.2 421.7 605.9 421.9 608.6 422.2 605.5 423.6 602.8 422.9 600.1 427.9 597.4 416.9zM622.1 423.6 624.8 428.4 627.5 420.2 630.2 416.6 632.9 427.6 635.6 425.2 632.5 424.6 629.8 428.1 627.1 433 624.4 430.9 621.7 423 619 429.6zM649.1 432.3 651.8 429 648.7 425.9 646 433.8zM659.9 434.8 662.6 427.6 665.3 431.5 662.2 434.8 659.5 434.6 656.8 436.4zM668 431.7 670.7 428.5 673.4 437.4 676.1 433.9 673 432 670.3 435.5 667.6 437.8 664.9 439.9zM692.3 434.9 695 429.8 691.9 437.9 689.2 443.6zM711.2 441.3 713.9 438 710.8 438.7 708.1 439.8z"/>
<path fill="#86b7dc" d="M581.6 419.1 584.3 410.3 587 413.8 583.9 415.7 581.2 414.1 578.5 415zM595.1 411.1 597.8 410.5 600.5 416.2 597.4 416.9 594.7 416.2 592 423zM608.6 422.2 611.3 412.3 614 423 610.9 425.6 608.2 418.1 605.5 423.6zM635.6 425.2 638.3 417.4 641 423.4 637.9 430.2 635.2 421.6 632.5 424.6zM676.1 433.9 678.8 426.2 675.7 430 673 432zM681.5 426.1 684.2 432.5 681.1 432.8 678.4 429.2zM695 429.8 697.7 434.1 700.4 434.8 703.1 434.4 705.8 431.2 708.5 435.8 711.2 441.3 708.1 439.8 705.4 433 702.7 440 700 434.9 697.3 439.7 694.6 433.7 691.9 437.9zM722 431.6 724.7 443.9 721.6 442.9 718.9 433.2z"/>
<path fill="#6aa0cf" d="M738.2 451.4 740.9 458.5 737.8 465.8 735.1 459.5zM743.6 455.2 746.3 453.2 749 452.4 745.9 461.5 743.2 458.3 740.5 459.9z"/>
<path fill="#659acc" d="M740.9 458.5 743.6 455.2 740.5 459.9 737.8 465.8z"/>
<path fill="#94c3e2" d="M543.4 398.4 546.1 403.8 543 406.2 540.3 400.5z"/>
<path fill="#86b7dc" d="M546.1 403.8 548.8 404.9 545.7 419.2 543 406.2zM581.2 414.1 583.9 415.7 580.8 422.1 578.1 417.2zM635.2 421.6 637.9 430.2 634.8 428.4 632.1 425.8zM675.7 430 678.4 429.2 681.1 432.8 678 439 675.3 436.2 672.6 440zM705.4 433 708.1 439.8 705 444.2 702.3 440.5zM718.9 433.2 721.6 442.9 718.5 447.2 715.8 436.3z"/>
<path fill="#7eb0d9" d="M548.8 404.9 551.5 416.7 548.4 420.1 545.7 419.2zM578.5 415 581.2 414.1 578.1 417.2 575.4 427.5zM583.9 415.7 586.6 422.9 583.5 427.5 580.8 422.1zM592 423 594.7 416.2 597.4 416.9 594.3 424.8 591.6 425.6 588.9 428.7zM602.8 422.9 605.5 423.6 608.2 418.1 610.9 425.6 607.8 429 605.1 425.2 602.4 431.4 599.7 424.5zM627.1 433 629.8 428.1 632.5 424.6 635.2 421.6 632.1 425.8 629.4 436 626.7 423.4 624 428.2zM673 432 675.7 430 672.6 440 669.9 443.9zM691.9 437.9 694.6 433.7 697.3 439.7 700 434.9 702.7 440 705.4 433 702.3 440.5 699.6 445.7 696.9 440.5 694.2 447 691.5 438.3 688.8 451.8zM708.1 439.8 710.8 438.7 707.7 443.1 705 444.2z"/>
<path fill="#70a5d2" d="M551.5 416.7 554.2 422.3 556.9 420.4 559.6 425.3 562.3 420.4 565 418 567.7 421.5 570.4 426.9 573.1 426.7 575.8 425.2 572.7 425.5 570 427.4 567.3 430.9 564.6 426.3 561.9 429.2 559.2 426.8 556.5 429.1 553.8 424.4 551.1 434.4 548.4 420.1zM613.6 435 616.3 426.9 619 429.6 615.9 435.9 613.2 437.2 610.5 434.8zM640.6 437.7 643.3 438.2 640.2 435.1 637.5 437.4zM651.4 433.4 654.1 444.4 656.8 436.4 653.7 438.4 651 443.4 648.3 441.5zM662.2 434.8 664.9 439.9 667.6 437.8 664.5 447.3 661.8 446.1 659.1 443.1zM681.1 432.8 683.8 450.5 686.5 442.5 683.4 444.1 680.7 452.1 678 439zM689.2 443.6 691.9 437.9 688.8 451.8 686.1 446.1zM724.3 449.9 727 450.7 729.7 448.3 732.4 451.4 729.3 460.6 726.6 458.2 723.9 456.7 721.2 456.1z"/>
<path fill="#75a8d5" d="M575.8 425.2 578.5 415 575.4 427.5 572.7 425.5zM586.6 422.9 589.3 428.4 592 423 588.9 428.7 586.2 427.5 583.5 427.5zM597.4 416.9 600.1 427.9 602.8 422.9 599.7 424.5 597 432.1 594.3 424.8zM610.9 425.6 613.6 435 610.5 434.8 607.8 429zM619 429.6 621.7 423 624.4 430.9 627.1 433 624 428.2 621.3 430.7 618.6 436.6 615.9 435.9zM637.9 430.2 640.6 437.7 637.5 437.4 634.8 428.4zM643.3 438.2 646 433.8 648.7 425.9 651.4 433.4 648.3 441.5 645.6 438.2 642.9 436.1 640.2 435.1zM656.8 436.4 659.5 434.6 662.2 434.8 659.1 443.1 656.4 439.4 653.7 438.4zM667.6 437.8 670.3 435.5 673 432 669.9 443.9 667.2 439.1 664.5 447.3zM686.5 442.5 689.2 443.6 686.1 446.1 683.4 444.1zM721.6 442.9 724.3 449.9 721.2 456.1 718.5 447.2z"/>
<path fill="#8ebee0" d="M710.8 438.7 713.5 428.4 716.2 437.2 718.9 433.2 715.8 436.3 713.1 440.4 710.4 434.7 707.7 443.1z"/>
<path fill="#6aa0cf" d="M732.4 451.4 735.1 459.5 732 468.2 729.3 460.6z"/>
<path fill="#5f94c9" d="M735.1 459.5 737.8 465.8 740.5 459.9 737.4 470.3 734.7 470.2 732 468.2z"/>
<path fill="#659acc" d="M740.5 459.9 743.2 458.3 745.9 461.5 742.8 469.6 740.1 465.5 737.4 470.3z"/>
</g>
<path d="M511.5 461.5L779.7 507.6M779.7 507.6L933.7 428.6M511.5 461.5V302.5M511.5 302.5h7.5M511.5 329.5h7.5M511.5 355.5h7.5M511.5 382.5h7.5M511.5 408.5h7.5M511.5 435.5h7.5M511.5 461.5h7.5M511.5 461.5l4.4 -2.3M565.1 470.7l4.4 -2.3M618.8 479.9l4.4 -2.3M672.4 489.2l4.4 -2.3M726.1 498.4l4.4 -2.3M779.7 507.6l4.4 -2.3M779.7 507.6l-6.9 -1.2M801.7 496.3l-6.9 -1.2M823.7 485.0l-6.9 -1.2M845.7 473.7l-6.9 -1.2M867.7 462.5l-6.9 -1.2M889.7 451.2l-6.9 -1.2M911.7 439.9l-6.9 -1.2M933.7 428.6l-6.9 -1.2" stroke="#ffffbf" stroke-width="1" fill="none"/>
<path d="M709.2 485.0L844.8 415.4V256.4L709.2 326.0z" stroke="#ff0000" stroke-width="1.1" fill="none"/>
<text x="494.5" y="305.5" fill="#ffffbf" text-anchor="end">0</text>
<text x="494.5" y="332.5" fill="#ffffbf" text-anchor="end">-20</text>
<text x="494.5" y="358.5" fill="#ffffbf" text-anchor="end">-40</text>
<text x="494.5" y="385.5" fill="#ffffbf" text-anchor="end">-60</text>
<text x="494.5" y="411.5" fill="#ffffbf" text-anchor="end">-80</text>
<text x="494.5" y="438.5" fill="#ffffbf" text-anchor="end">-100</text>
<text x="494.5" y="464.5" fill="#ffffbf" text-anchor="end">-120</text>
<text x="502.9" y="472.2" fill="#ffffbf" text-anchor="middle">19:26:20</text>
<text x="556.5" y="481.4" fill="#ffffbf" text-anchor="middle">19:26:40</text>
<text x="610.2" y="490.6" fill="#ffffbf" text-anchor="middle">19:27:00</text>
<text x="663.8" y="499.9" fill="#ffffbf" text-anchor="middle">19:27:20</text>
<text x="717.5" y="509.1" fill="#ffffbf" text-anchor="middle">19:27:40</text>
<text x="771.1" y="518.3" fill="#ffffbf" text-anchor="middle">19:28:00</text>
<text x="818.0" y="515.4" fill="#ffffbf" text-anchor="middle">1210</text>
<text x="839.9" y="504.0" fill="#ffffbf" text-anchor="middle">1215</text>
<text x="861.7" y="492.5" fill="#ffffbf" text-anchor="middle">1220</text>
<text x="883.6" y="481.1" fill="#ffffbf" text-anchor="middle">1225</text>
<text x="905.5" y="469.6" fill="#ffffbf" text-anchor="middle">1230</text>
<text x="927.4" y="458.2" fill="#ffffbf" text-anchor="middle">1235</text>
<text x="949.2" y="446.8" fill="#ffffbf" text-anchor="middle">1240</text>
<text x="971.1" y="435.3" fill="#ffffbf" text-anchor="middle">1245</text>
<text transform="translate(437,382) rotate(-90)" fill="#ffffbf" text-anchor="middle">PSD (dBm)</text>
<text transform="translate(598,505) rotate(9.7)" fill="#ffffbf" text-anchor="middle" dy="5.8">Time (UTC)</text>
<text transform="translate(930.5,480.5) rotate(-27.6)" fill="#ffffbf" text-anchor="middle" dy="5.8">Frequency (MHz)</text>
<line x1="270.5" y1="632.5" x2="270.5" y2="707.5" stroke="#c8c8c8" stroke-width="1" stroke-dasharray="2,2"/>
<line x1="450.5" y1="632.5" x2="450.5" y2="707.5" stroke="#c8c8c8" stroke-width="1" stroke-dasharray="2,2"/>
<line x1="630.5" y1="632.5" x2="630.5" y2="707.5" stroke="#c8c8c8" stroke-width="1" stroke-dasharray="2,2"/>
<line x1="810.5" y1="632.5" x2="810.5" y2="707.5" stroke="#c8c8c8" stroke-width="1" stroke-dasharray="2,2"/>
<line x1="90.5" y1="657.5" x2="990.5" y2="657.5" stroke="#c8c8c8" stroke-width="1" stroke-dasharray="2,2"/>
<path d="M90.5 707.5v-8M90.5 632.5v8" stroke="#ffffbf" stroke-width="1" fill="none"/>
<path d="M180.5 707.5v-4M180.5 632.5v4" stroke="#ffffbf" stroke-width="1" fill="none"/>
<path d="M270.5 707.5v-8M270.5 632.5v8" stroke="#ffffbf" stroke-width="1" fill="none"/>
<path d="M360.5 707.5v-4M360.5 632.5v4" stroke="#ffffbf" stroke-width="1" fill="none"/>
<path d="M450.5 707.5v-8M450.5 632.5v8" stroke="#ffffbf" stroke-width="1" fill="none"/>
<path d="M540.5 707.5v-4M540.5 632.5v4" stroke="#ffffbf" stroke-width="1" fill="none"/>
<path d="M630.5 707.5v-8M630.5 632.5v8" stroke="#ffffbf" stroke-width="1" fill="none"/>
<path d="M720.5 707.5v-4M720.5 632.5v4" stroke="#ffffbf" stroke-width="1" fill="none"/>
<path d="M810.5 707.5v-8M810.5 632.5v8" stroke="#ffffbf" stroke-width="1" fill="none"/>
<path d="M900.5 707.5v-4M900.5 632.5v4" stroke="#ffffbf" stroke-width="1" fill="none"/>
<path d="M990.5 707.5v-8M990.5 632.5v8" stroke="#ffffbf" stroke-width="1" fill="none"/>
<path d="M90.5 657.5h8M990.5 657.5h-8" stroke="#ffffbf" stroke-width="1" fill="none"/>
<clipPath id="bclip"><rect x="90.5" y="632.5" width="900.0" height="75.0"/></clipPath>
<polyline points="135.5,670.2 144.5,670.2 153.5,672.5" fill="none" stroke="#ffff00" stroke-width="1.1" clip-path="url(#bclip)"/>
<polyline points="180.5,674.7 189.5,669.2" fill="none" stroke="#ffff00" stroke-width="1.1" clip-path="url(#bclip)"/>
<polyline points="225.5,673.6 234.5,670.3 243.5,670.3 252.5,673.3 261.5,678 270.5,684.4 279.5,682.6 288.5,681 297.5,679 306.5,673 315.5,667 324.5,662.5 333.5,684.4 342.5,676.3 351.5,688.8" fill="none" stroke="#ffff00" stroke-width="1.1" clip-path="url(#bclip)"/>
<polyline points="396.5,675.6 405.5,668.9 414.5,664.2 423.5,668.6 432.5,666.6 441.5,670.5 450.5,680.6" fill="none" stroke="#ffff00" stroke-width="1.1" clip-path="url(#bclip)"/>
<polyline points="486.5,671.6 495.5,670.2 504.5,675.6" fill="none" stroke="#ffff00" stroke-width="1.1" clip-path="url(#bclip)"/>
<polyline points="549.5,680.7 558.5,673.8 567.5,669.5 576.5,669.5" fill="none" stroke="#ffff00" stroke-width="1.1" clip-path="url(#bclip)"/>
<polyline points="612.5,676.4 621.5,671.5 630.5,672.5 639.5,682.6" fill="none" stroke="#ffff00" stroke-width="1.1" clip-path="url(#bclip)"/>
<polyline points="666.5,666.4 675.5,666.4 684.5,708.5 693.5,682.5 702.5,656.7 711.5,681.6" fill="none" stroke="#ffff00" stroke-width="1.1" clip-path="url(#bclip)"/>
<polyline points="792.5,681 801.5,682.5" fill="none" stroke="#ffff00" stroke-width="1.1" clip-path="url(#bclip)"/>
<line x1="702.5" y1="632.5" x2="702.5" y2="707.5" stroke="#ff0000" stroke-width="1.2"/>
<rect x="90.5" y="632.5" width="900.0" height="75.0" fill="none" stroke="#ffffbf" stroke-width="1"/>
<text x="89.2" y="729.5" fill="#ffffbf" text-anchor="middle">19:26:20</text>
<text x="269.2" y="729.5" fill="#ffffbf" text-anchor="middle">19:26:40</text>
<text x="449.2" y="729.5" fill="#ffffbf" text-anchor="middle">19:27:00</text>
<text x="629.2" y="729.5" fill="#ffffbf" text-anchor="middle">19:27:20</text>
<text x="809.2" y="729.5" fill="#ffffbf" text-anchor="middle">19:27:40</text>
<text x="989.2" y="729.5" fill="#ffffbf" text-anchor="middle">19:28:00</text>
<text x="77.3" y="661" fill="#ffffbf" text-anchor="end">-100</text>
<text x="77.3" y="711" fill="#ffffbf" text-anchor="end">-120</text>
<text x="538" y="757.5" fill="#ffffbf" text-anchor="middle">Time (UTC)</text>
<text transform="translate(20,671.3) rotate(-90)" fill="#ffffbf" text-anchor="middle">Power (dBm)</text>
</svg>
</body></html>
